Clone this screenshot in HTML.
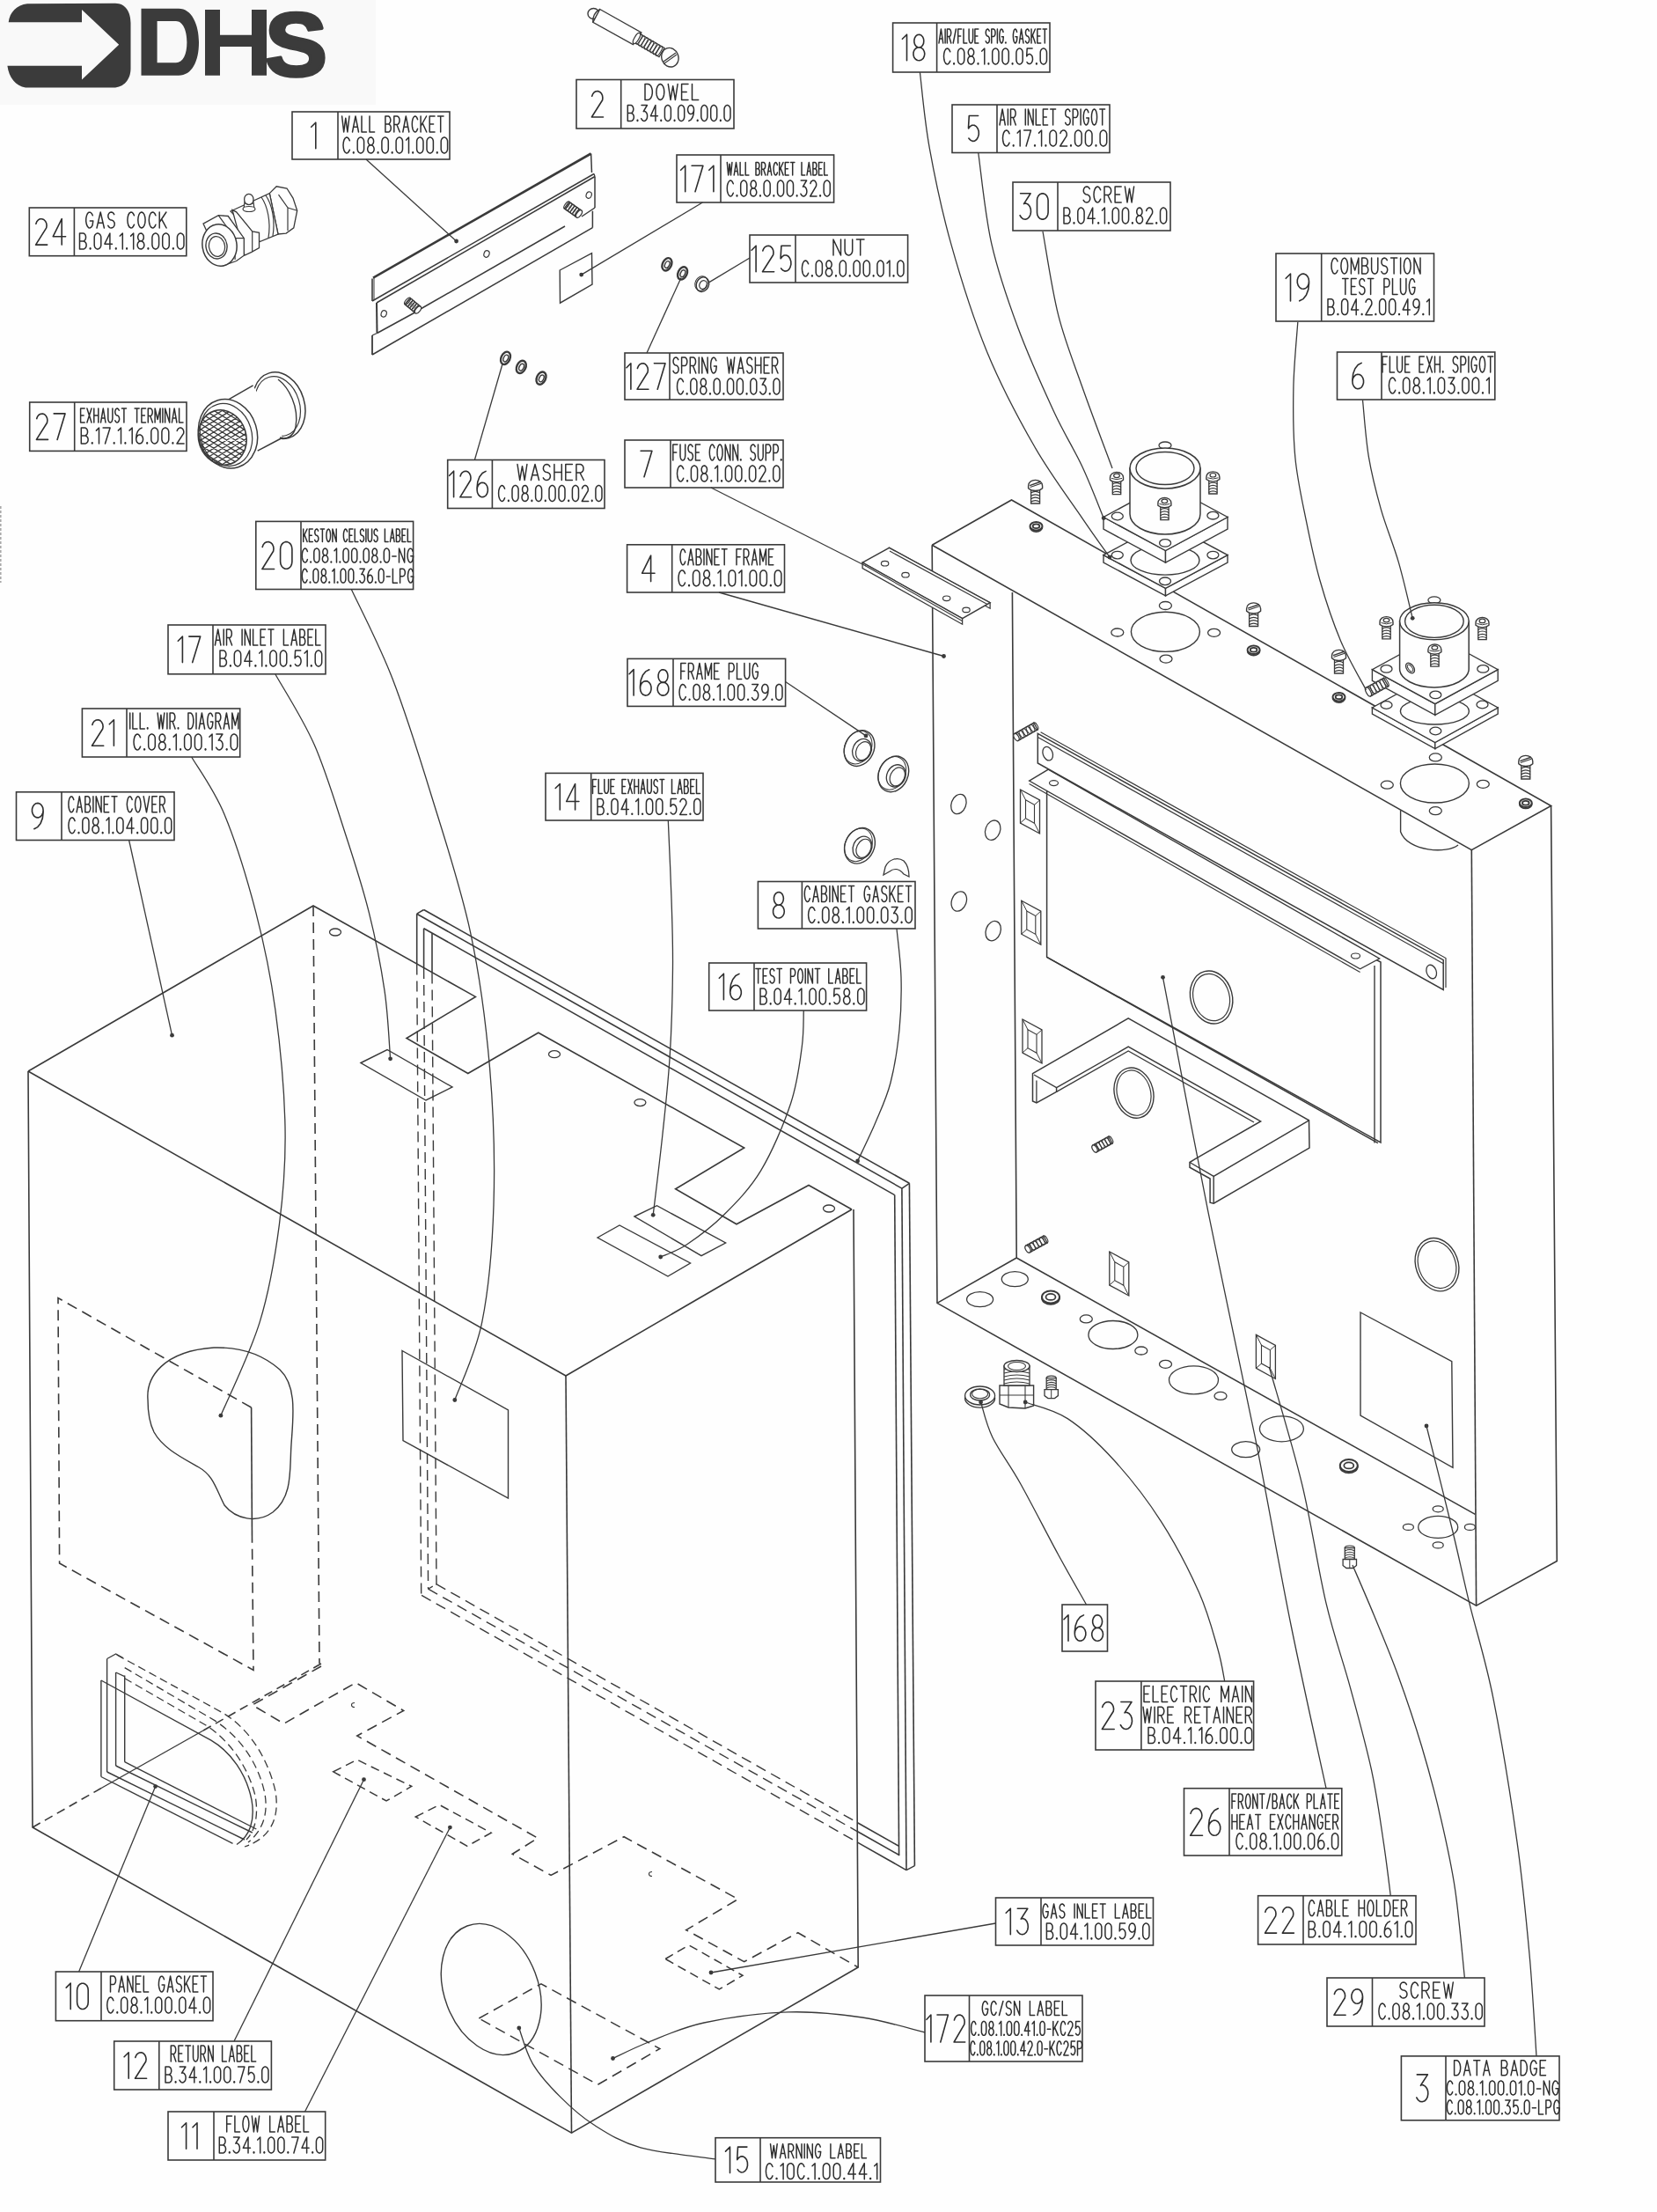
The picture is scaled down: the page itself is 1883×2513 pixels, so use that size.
<!DOCTYPE html>
<html><head><meta charset="utf-8"><style>
html,body{margin:0;padding:0;background:#fefefe;}
svg{display:block;}
text{font-family:"Liberation Sans",sans-serif;}
</style></head><body>
<svg width="1883" height="2513" viewBox="0 0 1883 2513">
<rect width="1883" height="2513" fill="#fefefe"/>
<rect x="0" y="0" width="427" height="119" fill="#f9f9f9"/>
<path fill="#3b3b3b" d="M9.7,25.3 C11,14 19,5.5 31,4.3 L131,3.8 C143,4 148.5,14 148.5,26 L148.5,78 C148.5,90 141,99.5 129,99.5 L29,99.5 C18,98 10,88 8.4,74.8 L93,74.8 L93,90.5 L135.2,50.7 L93,10.9 L93,25.3 Z"/>
<path fill="#3b3b3b" fill-rule="evenodd" d="M160.5,9.7 L203,9.7 C218,9.7 226,28 226,48 C226,70 218,85.7 203,85.7 L160.5,85.7 Z M178.6,24 L200,24 C208,24 212.4,35 212.4,48 C212.4,62 208,71.2 200,71.2 L178.6,71.2 Z"/>
<path fill="#3b3b3b" d="M233,10.9 L250,10.9 L250,39.8 L286,39.8 L286,10.9 L303,10.9 L303,85.7 L286,85.7 L286,53.1 L250,53.1 L250,85.7 L233,85.7 Z"/>
<text x="301" y="86" font-size="102" font-weight="bold" fill="#3b3b3b" stroke="#3b3b3b" stroke-width="3.5" stroke-linejoin="round" textLength="71" lengthAdjust="spacingAndGlyphs">S</text>
<rect x="332" y="127" width="179.0" height="54.0" fill="none" stroke="#3a3a3a" stroke-width="1.6"/>
<line x1="384" y1="127" x2="384" y2="181" stroke="#3a3a3a" stroke-width="1.6"/>
<path d="M353.7,144.3 358.8,139.2 358.8,168.8" fill="none" stroke="#2e2e2e" stroke-width="1.6" stroke-linecap="round" stroke-linejoin="round"/>
<path d="M388.6,132.0 390.7,150.0 392.8,134.2 394.9,150.0 397.0,132.0M400.5,150.0 404.0,132.0 407.5,150.0M401.6,144.2 406.3,144.2M411.0,132.0 411.0,150.0 416.5,150.0M420.0,132.0 420.0,150.0 425.6,150.0M437.9,141.0 437.9,132.0 441.1,132.0 441.1,132.0 442.0,132.3 442.8,133.1 443.4,134.2 443.8,135.7 443.8,137.3 443.4,138.8 442.8,139.9 442.0,140.7 441.1,141.0 437.9,141.0M441.4,141.0 441.4,141.0 442.3,141.3 443.2,142.1 443.9,143.2 444.2,144.7 444.2,146.3 443.9,147.8 443.2,148.9 442.3,149.7 441.4,150.0 437.9,150.0 437.9,141.0M447.8,150.0 447.8,132.0 451.1,132.0 451.1,132.0 452.1,132.3 453.0,133.1 453.7,134.4 454.0,135.9 454.0,137.6 453.7,139.2 453.0,140.4 452.1,141.3 451.1,141.5 447.8,141.5M450.9,141.5 454.3,150.0M457.8,150.0 461.3,132.0 464.8,150.0M458.9,144.2 463.6,144.2M474.6,135.8 473.7,133.6 472.6,132.3 471.3,132.1 470.1,133.0 469.1,135.0 468.5,137.8 468.3,141.0 468.5,144.2 469.1,147.0 470.1,149.0 471.3,149.9 472.6,149.7 473.7,148.4 474.6,146.2M478.1,132.0 478.1,150.0M484.6,132.0 478.1,143.5M480.1,139.9 484.8,150.0M494.0,132.0 488.2,132.0 488.2,150.0 494.0,150.0M488.2,141.0 492.6,141.0M497.5,132.0 504.0,132.0M500.7,132.0 500.7,150.0" fill="none" stroke="#2e2e2e" stroke-width="1.5" stroke-linecap="round" stroke-linejoin="round"/>
<path d="M397.4,159.8 396.3,157.6 395.0,156.3 393.5,156.1 392.2,157.0 391.0,159.0 390.3,161.8 390.0,165.0 390.3,168.2 391.0,171.0 392.2,173.0 393.5,173.9 395.0,173.7 396.3,172.4 397.4,170.2M402.2,173.4 402.0,173.9 401.6,173.9 401.4,173.4 401.6,172.8 402.0,172.8 402.2,173.4M406.2,160.9 406.4,159.2 407.0,157.7 408.0,156.7 409.2,156.1 410.5,156.1 411.7,156.7 412.7,157.7 413.4,159.2 413.6,160.9 413.6,169.1 413.4,170.8 412.7,172.3 411.7,173.3 410.5,173.9 409.2,173.9 408.0,173.3 407.0,172.3 406.4,170.8 406.2,169.1 406.2,160.9M424.6,160.5 424.4,162.1 423.8,163.5 422.8,164.5 421.7,165.0 420.5,164.8 419.5,164.1 418.7,162.9 418.2,161.3 418.2,159.7 418.7,158.1 419.5,156.9 420.5,156.2 421.7,156.0 422.8,156.5 423.8,157.5 424.4,158.9 424.6,160.5M425.2,169.4 424.9,171.1 424.2,172.5 423.1,173.5 421.8,174.0 420.4,173.8 419.1,173.1 418.2,171.8 417.7,170.3 417.7,168.6 418.2,167.0 419.1,165.7 420.4,165.0 421.8,164.8 423.1,165.3 424.2,166.3 424.9,167.8 425.2,169.4M430.0,173.4 429.8,173.9 429.4,173.9 429.2,173.4 429.4,172.8 429.8,172.8 430.0,173.4M433.9,160.9 434.2,159.2 434.8,157.7 435.8,156.7 437.0,156.1 438.3,156.1 439.5,156.7 440.5,157.7 441.1,159.2 441.3,160.9 441.3,169.1 441.1,170.8 440.5,172.3 439.5,173.3 438.3,173.9 437.0,173.9 435.8,173.3 434.8,172.3 434.2,170.8 433.9,169.1 433.9,160.9M446.1,173.4 445.9,173.9 445.5,173.9 445.3,173.4 445.5,172.8 445.9,172.8 446.1,173.4M450.1,160.9 450.3,159.2 451.0,157.7 452.0,156.7 453.2,156.1 454.5,156.1 455.7,156.7 456.7,157.7 457.3,159.2 457.5,160.9 457.5,169.1 457.3,170.8 456.7,172.3 455.7,173.3 454.5,173.9 453.2,173.9 452.0,173.3 451.0,172.3 450.3,170.8 450.1,169.1 450.1,160.9M461.6,159.1 464.5,156.0 464.5,174.0M469.6,173.4 469.4,173.9 469.0,173.9 468.8,173.4 469.0,172.8 469.4,172.8 469.6,173.4M473.6,160.9 473.8,159.2 474.4,157.7 475.4,156.7 476.6,156.1 477.9,156.1 479.1,156.7 480.1,157.7 480.7,159.2 481.0,160.9 481.0,169.1 480.7,170.8 480.1,172.3 479.1,173.3 477.9,173.9 476.6,173.9 475.4,173.3 474.4,172.3 473.8,170.8 473.6,169.1 473.6,160.9M485.0,160.9 485.2,159.2 485.9,157.7 486.9,156.7 488.1,156.1 489.4,156.1 490.6,156.7 491.6,157.7 492.2,159.2 492.4,160.9 492.4,169.1 492.2,170.8 491.6,172.3 490.6,173.3 489.4,173.9 488.1,173.9 486.9,173.3 485.9,172.3 485.2,170.8 485.0,169.1 485.0,160.9M497.2,173.4 497.0,173.9 496.6,173.9 496.4,173.4 496.6,172.8 497.0,172.8 497.2,173.4M501.2,160.9 501.4,159.2 502.1,157.7 503.0,156.7 504.3,156.1 505.5,156.1 506.7,156.7 507.7,157.7 508.4,159.2 508.6,160.9 508.6,169.1 508.4,170.8 507.7,172.3 506.7,173.3 505.5,173.9 504.3,173.9 503.0,173.3 502.1,172.3 501.4,170.8 501.2,169.1 501.2,160.9" fill="none" stroke="#2e2e2e" stroke-width="1.5" stroke-linecap="round" stroke-linejoin="round"/>
<rect x="655" y="90.5" width="179.0" height="55.5" fill="none" stroke="#3a3a3a" stroke-width="1.6"/>
<line x1="705.7" y1="90.5" x2="705.7" y2="146" stroke="#3a3a3a" stroke-width="1.6"/>
<path d="M672.7,109.2 673.7,106.7 675.3,104.8 677.3,103.7 679.5,103.6 681.6,104.4 683.4,106.1 684.5,108.4 684.9,111.1 684.6,113.8 672.4,133.0 685.5,133.0" fill="none" stroke="#2e2e2e" stroke-width="1.6" stroke-linecap="round" stroke-linejoin="round"/>
<path d="M733.0,95.5 733.0,113.5 736.3,113.5 736.3,113.5 738.0,113.0 739.6,111.4 740.7,109.0 741.3,106.1 741.3,102.9 740.7,100.0 739.6,97.6 738.0,96.0 736.3,95.5 733.0,95.5M754.8,104.5 754.5,107.9 753.5,110.9 752.1,112.8 750.3,113.5 748.6,112.8 747.2,110.9 746.2,107.9 745.9,104.5 746.2,101.1 747.2,98.1 748.6,96.2 750.3,95.5 752.1,96.2 753.5,98.1 754.5,101.1 754.8,104.5M759.3,95.5 762.0,113.5 764.7,97.7 767.4,113.5 770.1,95.5M782.0,95.5 774.6,95.5 774.6,113.5 782.0,113.5M774.6,104.5 780.2,104.5M786.5,95.5 786.5,113.5 793.7,113.5" fill="none" stroke="#2e2e2e" stroke-width="1.5" stroke-linecap="round" stroke-linejoin="round"/>
<path d="M713.3,128.5 713.3,119.5 716.9,119.5 716.9,119.5 717.9,119.8 718.8,120.6 719.4,121.8 719.8,123.2 719.8,124.8 719.4,126.2 718.8,127.4 717.9,128.2 716.9,128.5 713.3,128.5M717.1,128.5 717.1,128.5 718.2,128.8 719.2,129.6 719.9,130.8 720.3,132.2 720.3,133.8 719.9,135.2 719.2,136.4 718.2,137.2 717.1,137.5 713.3,137.5 713.3,128.5M724.8,136.9 724.7,137.4 724.3,137.4 724.1,136.9 724.3,136.3 724.7,136.3 724.8,136.9M729.0,119.5 735.4,119.5 731.2,126.7 731.3,126.4 732.6,126.4 733.9,127.2 734.9,128.5 735.5,130.3 735.6,132.3 735.3,134.3 734.5,135.9 733.4,137.0 732.1,137.5 730.8,137.2 729.6,136.2 728.7,134.7M744.9,137.5 744.9,119.5 739.4,131.7 747.4,131.7M751.6,136.9 751.4,137.4 751.1,137.4 750.9,136.9 751.1,136.3 751.4,136.3 751.6,136.9M755.4,124.4 755.6,122.7 756.2,121.2 757.1,120.2 758.3,119.6 759.5,119.6 760.6,120.2 761.6,121.2 762.2,122.7 762.4,124.4 762.4,132.6 762.2,134.3 761.6,135.8 760.6,136.8 759.5,137.4 758.3,137.4 757.1,136.8 756.2,135.8 755.6,134.3 755.4,132.6 755.4,124.4M766.9,136.9 766.7,137.4 766.4,137.4 766.2,136.9 766.4,136.3 766.7,136.3 766.9,136.9M770.7,124.4 770.9,122.7 771.5,121.2 772.4,120.2 773.6,119.6 774.8,119.6 776.0,120.2 776.9,121.2 777.5,122.7 777.7,124.4 777.7,132.6 777.5,134.3 776.9,135.8 776.0,136.8 774.8,137.4 773.6,137.4 772.4,136.8 771.5,135.8 770.9,134.3 770.7,132.6 770.7,124.4M788.5,124.5 788.3,126.4 787.6,127.9 786.6,129.1 785.4,129.6 784.1,129.4 782.9,128.6 782.1,127.2 781.6,125.5 781.6,123.6 782.1,121.9 782.9,120.5 784.1,119.7 785.4,119.5 786.6,120.0 787.6,121.1 788.3,122.7 788.5,124.5 788.5,126.0 788.1,130.0 786.9,133.5 785.1,136.1 782.8,137.4M793.1,136.9 792.9,137.4 792.5,137.4 792.3,136.9 792.5,136.3 792.9,136.3 793.1,136.9M796.8,124.4 797.1,122.7 797.7,121.2 798.6,120.2 799.7,119.6 801.0,119.6 802.1,120.2 803.0,121.2 803.6,122.7 803.9,124.4 803.9,132.6 803.6,134.3 803.0,135.8 802.1,136.8 801.0,137.4 799.7,137.4 798.6,136.8 797.7,135.8 797.1,134.3 796.8,132.6 796.8,124.4M807.7,124.4 807.9,122.7 808.5,121.2 809.4,120.2 810.6,119.6 811.8,119.6 812.9,120.2 813.9,121.2 814.5,122.7 814.7,124.4 814.7,132.6 814.5,134.3 813.9,135.8 812.9,136.8 811.8,137.4 810.6,137.4 809.4,136.8 808.5,135.8 807.9,134.3 807.7,132.6 807.7,124.4M819.2,136.9 819.0,137.4 818.6,137.4 818.5,136.9 818.6,136.3 819.0,136.3 819.2,136.9M823.0,124.4 823.2,122.7 823.8,121.2 824.7,120.2 825.9,119.6 827.1,119.6 828.2,120.2 829.2,121.2 829.8,122.7 830.0,124.4 830.0,132.6 829.8,134.3 829.2,135.8 828.2,136.8 827.1,137.4 825.9,137.4 824.7,136.8 823.8,135.8 823.2,134.3 823.0,132.6 823.0,124.4" fill="none" stroke="#2e2e2e" stroke-width="1.5" stroke-linecap="round" stroke-linejoin="round"/>
<rect x="769" y="176" width="178.6" height="54.0" fill="none" stroke="#3a3a3a" stroke-width="1.6"/>
<line x1="819" y1="176" x2="819" y2="230" stroke="#3a3a3a" stroke-width="1.6"/>
<path d="M773.6,193.3 778.7,188.2 778.7,217.8M786.1,188.2 798.9,188.2 790.0,217.8M805.8,193.3 810.9,188.2 810.9,217.8" fill="none" stroke="#2e2e2e" stroke-width="1.6" stroke-linecap="round" stroke-linejoin="round"/>
<path d="M826.3,184.5 827.7,199.0 829.1,186.2 830.5,199.0 831.9,184.5M834.2,199.0 836.5,184.5 838.8,199.0M835.0,194.4 838.0,194.4M841.1,184.5 841.1,199.0 844.8,199.0M847.2,184.5 847.2,199.0 850.9,199.0M859.0,191.8 859.0,184.5 861.1,184.5 861.1,184.5 861.7,184.7 862.3,185.3 862.7,186.3 862.9,187.5 862.9,188.8 862.7,189.9 862.3,190.9 861.7,191.5 861.1,191.8 859.0,191.8M861.3,191.8 861.3,191.8 862.0,192.0 862.5,192.6 863.0,193.6 863.2,194.7 863.2,196.0 863.0,197.2 862.5,198.2 862.0,198.8 861.3,199.0 859.0,199.0 859.0,191.8M865.5,199.0 865.5,184.5 867.8,184.5 867.8,184.5 868.4,184.7 869.0,185.4 869.5,186.4 869.7,187.7 869.7,189.0 869.5,190.3 869.0,191.3 868.4,192.0 867.8,192.2 865.5,192.2M867.6,192.2 869.9,199.0M872.2,199.0 874.5,184.5 876.8,199.0M873.0,194.4 876.0,194.4M883.4,187.6 882.8,185.8 882.0,184.7 881.2,184.6 880.4,185.3 879.7,187.0 879.3,189.2 879.1,191.8 879.3,194.3 879.7,196.5 880.4,198.2 881.2,198.9 882.0,198.8 882.8,197.7 883.4,195.9M885.7,184.5 885.7,199.0M890.0,184.5 885.7,193.8M887.0,190.9 890.1,199.0M896.2,184.5 892.3,184.5 892.3,199.0 896.2,199.0M892.3,191.8 895.3,191.8M898.5,184.5 902.9,184.5M900.7,184.5 900.7,199.0M911.0,184.5 911.0,199.0 914.7,199.0M917.0,199.0 919.3,184.5 921.6,199.0M917.8,194.4 920.9,194.4M923.9,191.8 923.9,184.5 926.1,184.5 926.1,184.5 926.7,184.7 927.3,185.3 927.6,186.3 927.9,187.5 927.9,188.8 927.6,189.9 927.3,190.9 926.7,191.5 926.1,191.8 923.9,191.8M926.3,191.8 926.3,191.8 926.9,192.0 927.5,192.6 927.9,193.6 928.2,194.7 928.2,196.0 927.9,197.2 927.5,198.2 926.9,198.8 926.3,199.0 923.9,199.0 923.9,191.8M934.4,184.5 930.5,184.5 930.5,199.0 934.4,199.0M930.5,191.8 933.4,191.8M936.7,184.5 936.7,199.0 940.4,199.0" fill="none" stroke="#2e2e2e" stroke-width="1.5" stroke-linecap="round" stroke-linejoin="round"/>
<path d="M833.3,208.8 832.3,206.6 831.1,205.3 829.7,205.1 828.4,206.0 827.3,208.0 826.5,210.8 826.3,214.0 826.5,217.2 827.3,220.0 828.4,222.0 829.7,222.9 831.1,222.7 832.3,221.4 833.3,219.2M837.9,222.4 837.7,222.9 837.3,222.9 837.1,222.4 837.3,221.8 837.7,221.8 837.9,222.4M841.7,209.9 841.9,208.2 842.5,206.7 843.5,205.7 844.6,205.1 845.8,205.1 847.0,205.7 847.9,206.7 848.5,208.2 848.8,209.9 848.8,218.1 848.5,219.8 847.9,221.3 847.0,222.3 845.8,222.9 844.6,222.9 843.5,222.3 842.5,221.3 841.9,219.8 841.7,218.1 841.7,209.9M859.3,209.5 859.1,211.1 858.5,212.5 857.6,213.5 856.5,214.0 855.3,213.8 854.3,213.1 853.6,211.9 853.2,210.3 853.2,208.7 853.6,207.1 854.3,205.9 855.3,205.2 856.5,205.0 857.6,205.5 858.5,206.5 859.1,207.9 859.3,209.5M859.8,218.4 859.5,220.1 858.8,221.5 857.8,222.5 856.5,223.0 855.2,222.8 854.0,222.1 853.1,220.8 852.7,219.3 852.7,217.6 853.1,216.0 854.0,214.7 855.2,214.0 856.5,213.8 857.8,214.3 858.8,215.3 859.5,216.8 859.8,218.4M864.3,222.4 864.1,222.9 863.8,222.9 863.6,222.4 863.8,221.8 864.1,221.8 864.3,222.4M868.1,209.9 868.3,208.2 868.9,206.7 869.9,205.7 871.0,205.1 872.3,205.1 873.4,205.7 874.4,206.7 875.0,208.2 875.2,209.9 875.2,218.1 875.0,219.8 874.4,221.3 873.4,222.3 872.3,222.9 871.0,222.9 869.9,222.3 868.9,221.3 868.3,219.8 868.1,218.1 868.1,209.9M879.7,222.4 879.5,222.9 879.2,222.9 879.0,222.4 879.2,221.8 879.5,221.8 879.7,222.4M883.5,209.9 883.7,208.2 884.3,206.7 885.3,205.7 886.4,205.1 887.7,205.1 888.8,205.7 889.7,206.7 890.4,208.2 890.6,209.9 890.6,218.1 890.4,219.8 889.7,221.3 888.8,222.3 887.7,222.9 886.4,222.9 885.3,222.3 884.3,221.3 883.7,219.8 883.5,218.1 883.5,209.9M894.4,209.9 894.6,208.2 895.2,206.7 896.2,205.7 897.3,205.1 898.6,205.1 899.7,205.7 900.7,206.7 901.3,208.2 901.5,209.9 901.5,218.1 901.3,219.8 900.7,221.3 899.7,222.3 898.6,222.9 897.3,222.9 896.2,222.3 895.2,221.3 894.6,219.8 894.4,218.1 894.4,209.9M906.0,222.4 905.8,222.9 905.5,222.9 905.3,222.4 905.5,221.8 905.8,221.8 906.0,222.4M910.2,205.0 916.6,205.0 912.4,212.2 912.5,211.9 913.9,211.9 915.1,212.7 916.1,214.0 916.7,215.8 916.9,217.8 916.5,219.8 915.7,221.4 914.6,222.5 913.3,223.0 912.0,222.7 910.8,221.7 909.9,220.2M920.9,208.5 921.4,207.0 922.3,205.8 923.5,205.1 924.7,205.0 925.9,205.5 926.8,206.6 927.5,208.0 927.7,209.6 927.5,211.3 920.7,223.0 928.0,223.0M932.5,222.4 932.3,222.9 931.9,222.9 931.7,222.4 931.9,221.8 932.3,221.8 932.5,222.4M936.2,209.9 936.5,208.2 937.1,206.7 938.0,205.7 939.2,205.1 940.4,205.1 941.5,205.7 942.5,206.7 943.1,208.2 943.3,209.9 943.3,218.1 943.1,219.8 942.5,221.3 941.5,222.3 940.4,222.9 939.2,222.9 938.0,222.3 937.1,221.3 936.5,219.8 936.2,218.1 936.2,209.9" fill="none" stroke="#2e2e2e" stroke-width="1.5" stroke-linecap="round" stroke-linejoin="round"/>
<rect x="852" y="267" width="179.6" height="54.0" fill="none" stroke="#3a3a3a" stroke-width="1.6"/>
<line x1="904" y1="267" x2="904" y2="321" stroke="#3a3a3a" stroke-width="1.6"/>
<path d="M854.1,284.3 859.1,279.2 859.1,308.8M866.8,284.9 867.8,282.5 869.4,280.6 871.4,279.5 873.6,279.3 875.7,280.1 877.5,281.8 878.6,284.2 879.0,286.8 878.7,289.5 866.5,308.8 879.6,308.8M898.2,279.2 887.9,279.2 887.1,292.8 887.2,293.8 889.0,291.4 891.2,290.0 893.7,290.0 896.0,291.3 897.7,293.7 898.8,296.9 898.9,300.4 898.0,303.6 896.4,306.3 894.2,307.8 891.8,308.1 889.5,307.1 887.6,304.9" fill="none" stroke="#2e2e2e" stroke-width="1.6" stroke-linecap="round" stroke-linejoin="round"/>
<path d="M947.0,290.0 947.0,272.0 955.5,290.0 955.5,272.0M960.1,272.0 960.1,284.6 960.1,284.6 960.4,286.4 961.1,288.1 962.3,289.3 963.7,289.9 965.2,289.9 966.6,289.3 967.7,288.1 968.5,286.4 968.7,284.6 968.7,272.0M973.4,272.0 982.0,272.0M977.7,272.0 977.7,290.0" fill="none" stroke="#2e2e2e" stroke-width="1.5" stroke-linecap="round" stroke-linejoin="round"/>
<path d="M918.6,299.8 917.6,297.6 916.3,296.3 914.9,296.1 913.5,297.0 912.4,299.0 911.7,301.8 911.4,305.0 911.7,308.2 912.4,311.0 913.5,313.0 914.9,313.9 916.3,313.7 917.6,312.4 918.6,310.2M923.3,313.4 923.1,313.9 922.7,313.9 922.5,313.4 922.7,312.8 923.1,312.8 923.3,313.4M927.2,300.9 927.4,299.2 928.0,297.7 929.0,296.7 930.1,296.1 931.4,296.1 932.6,296.7 933.5,297.7 934.2,299.2 934.4,300.9 934.4,309.1 934.2,310.8 933.5,312.3 932.6,313.3 931.4,313.9 930.1,313.9 929.0,313.3 928.0,312.3 927.4,310.8 927.2,309.1 927.2,300.9M945.2,300.5 944.9,302.1 944.3,303.5 943.4,304.5 942.3,305.0 941.1,304.8 940.1,304.1 939.3,302.9 938.9,301.3 938.9,299.7 939.3,298.1 940.1,296.9 941.1,296.2 942.3,296.0 943.4,296.5 944.3,297.5 944.9,298.9 945.2,300.5M945.7,309.4 945.4,311.1 944.7,312.5 943.6,313.5 942.3,314.0 941.0,313.8 939.8,313.1 938.9,311.8 938.4,310.3 938.4,308.6 938.9,307.0 939.8,305.7 941.0,305.0 942.3,304.8 943.6,305.3 944.7,306.3 945.4,307.8 945.7,309.4M950.3,313.4 950.2,313.9 949.8,313.9 949.6,313.4 949.8,312.8 950.2,312.8 950.3,313.4M954.2,300.9 954.4,299.2 955.1,297.7 956.0,296.7 957.2,296.1 958.5,296.1 959.6,296.7 960.6,297.7 961.2,299.2 961.4,300.9 961.4,309.1 961.2,310.8 960.6,312.3 959.6,313.3 958.5,313.9 957.2,313.9 956.0,313.3 955.1,312.3 954.4,310.8 954.2,309.1 954.2,300.9M966.1,313.4 965.9,313.9 965.5,313.9 965.3,313.4 965.5,312.8 965.9,312.8 966.1,313.4M970.0,300.9 970.2,299.2 970.8,297.7 971.8,296.7 973.0,296.1 974.2,296.1 975.4,296.7 976.4,297.7 977.0,299.2 977.2,300.9 977.2,309.1 977.0,310.8 976.4,312.3 975.4,313.3 974.2,313.9 973.0,313.9 971.8,313.3 970.8,312.3 970.2,310.8 970.0,309.1 970.0,300.9M981.2,300.9 981.4,299.2 982.0,297.7 983.0,296.7 984.1,296.1 985.4,296.1 986.6,296.7 987.5,297.7 988.2,299.2 988.4,300.9 988.4,309.1 988.2,310.8 987.5,312.3 986.6,313.3 985.4,313.9 984.1,313.9 983.0,313.3 982.0,312.3 981.4,310.8 981.2,309.1 981.2,300.9M993.0,313.4 992.8,313.9 992.5,313.9 992.3,313.4 992.5,312.8 992.8,312.8 993.0,313.4M996.9,300.9 997.1,299.2 997.8,297.7 998.7,296.7 999.9,296.1 1001.2,296.1 1002.3,296.7 1003.3,297.7 1003.9,299.2 1004.1,300.9 1004.1,309.1 1003.9,310.8 1003.3,312.3 1002.3,313.3 1001.2,313.9 999.9,313.9 998.7,313.3 997.8,312.3 997.1,310.8 996.9,309.1 996.9,300.9M1008.1,299.1 1011.0,296.0 1011.0,314.0M1015.9,313.4 1015.7,313.9 1015.3,313.9 1015.1,313.4 1015.3,312.8 1015.7,312.8 1015.9,313.4M1019.8,300.9 1020.0,299.2 1020.6,297.7 1021.6,296.7 1022.8,296.1 1024.0,296.1 1025.2,296.7 1026.2,297.7 1026.8,299.2 1027.0,300.9 1027.0,309.1 1026.8,310.8 1026.2,312.3 1025.2,313.3 1024.0,313.9 1022.8,313.9 1021.6,313.3 1020.6,312.3 1020.0,310.8 1019.8,309.1 1019.8,300.9" fill="none" stroke="#2e2e2e" stroke-width="1.5" stroke-linecap="round" stroke-linejoin="round"/>
<rect x="710" y="401" width="180.0" height="53.0" fill="none" stroke="#3a3a3a" stroke-width="1.6"/>
<line x1="761" y1="401" x2="761" y2="454" stroke="#3a3a3a" stroke-width="1.6"/>
<path d="M712.0,417.8 716.9,412.8 716.9,442.2M724.4,418.4 725.4,416.0 726.9,414.1 728.9,413.0 731.1,412.8 733.1,413.6 734.8,415.3 736.0,417.7 736.4,420.3 736.0,423.0 724.1,442.2 736.9,442.2M743.4,412.8 756.0,412.8 747.2,442.2" fill="none" stroke="#2e2e2e" stroke-width="1.6" stroke-linecap="round" stroke-linejoin="round"/>
<path d="M770.8,408.6 770.1,407.3 769.3,406.4 768.2,406.0 767.2,406.2 766.2,406.9 765.5,408.1 765.1,409.6 765.1,411.2 765.4,412.7 766.1,413.9 767.0,414.7 768.0,415.0 767.9,415.0 769.1,415.3 770.0,416.1 770.8,417.3 771.1,418.8 771.1,420.4 770.7,421.9 769.9,423.1 768.9,423.8 767.7,424.0 766.6,423.6 765.6,422.7 765.0,421.4M774.6,424.0 774.6,406.0 778.0,406.0 778.0,406.0 779.0,406.3 779.8,407.1 780.5,408.4 780.8,409.9 780.8,411.6 780.5,413.2 779.8,414.4 779.0,415.3 778.0,415.5 774.6,415.5M784.3,424.0 784.3,406.0 787.7,406.0 787.7,406.0 788.7,406.3 789.5,407.1 790.2,408.4 790.5,409.9 790.5,411.6 790.2,413.2 789.5,414.4 788.7,415.3 787.7,415.5 784.3,415.5M787.5,415.5 790.8,424.0M794.3,406.0 794.3,424.0M797.8,424.0 797.8,406.0 804.1,424.0 804.1,406.0M813.9,409.8 812.9,407.5 811.7,406.2 810.4,406.2 809.2,407.4 808.2,409.8 807.7,412.9 807.6,416.3 808.1,419.6 808.9,422.1 810.1,423.7 811.4,423.9 812.7,422.9 813.7,420.8 814.3,415.9 811.4,415.9M826.4,406.0 828.5,424.0 830.6,408.2 832.7,424.0 834.7,406.0M838.2,424.0 841.7,406.0 845.2,424.0M839.4,418.2 844.0,418.2M854.6,408.6 854.0,407.3 853.1,406.4 852.1,406.0 851.0,406.2 850.0,406.9 849.3,408.1 848.9,409.6 848.9,411.2 849.2,412.7 849.9,413.9 850.8,414.7 851.9,415.0 851.7,415.0 852.9,415.3 853.9,416.1 854.6,417.3 854.9,418.8 854.9,420.4 854.5,421.9 853.7,423.1 852.7,423.8 851.5,424.0 850.4,423.6 849.5,422.7 848.8,421.4M858.4,406.0 858.4,424.0M864.8,406.0 864.8,424.0M858.4,415.0 864.8,415.0M874.1,406.0 868.3,406.0 868.3,424.0 874.1,424.0M868.3,415.0 872.7,415.0M877.5,424.0 877.5,406.0 880.9,406.0 880.9,406.0 881.9,406.3 882.7,407.1 883.4,408.4 883.7,409.9 883.7,411.6 883.4,413.2 882.7,414.4 881.9,415.3 880.9,415.5 877.5,415.5M880.6,415.5 884.0,424.0" fill="none" stroke="#2e2e2e" stroke-width="1.5" stroke-linecap="round" stroke-linejoin="round"/>
<path d="M776.5,433.8 775.5,431.6 774.2,430.3 772.9,430.1 771.5,431.0 770.5,433.0 769.7,435.8 769.5,439.0 769.7,442.2 770.5,445.0 771.5,447.0 772.9,447.9 774.2,447.7 775.5,446.4 776.5,444.2M781.1,447.4 780.9,447.9 780.5,447.9 780.3,447.4 780.5,446.8 780.9,446.8 781.1,447.4M784.8,434.9 785.1,433.2 785.7,431.7 786.6,430.7 787.8,430.1 789.0,430.1 790.1,430.7 791.1,431.7 791.7,433.2 791.9,434.9 791.9,443.1 791.7,444.8 791.1,446.3 790.1,447.3 789.0,447.9 787.8,447.9 786.6,447.3 785.7,446.3 785.1,444.8 784.8,443.1 784.8,434.9M802.4,434.5 802.2,436.1 801.6,437.5 800.7,438.5 799.6,439.0 798.5,438.8 797.4,438.1 796.7,436.9 796.3,435.3 796.3,433.7 796.7,432.1 797.4,430.9 798.5,430.2 799.6,430.0 800.7,430.5 801.6,431.5 802.2,432.9 802.4,434.5M802.9,443.4 802.6,445.1 801.9,446.5 800.9,447.5 799.6,448.0 798.3,447.8 797.1,447.1 796.3,445.8 795.8,444.3 795.8,442.6 796.3,441.0 797.1,439.7 798.3,439.0 799.6,438.8 800.9,439.3 801.9,440.3 802.6,441.8 802.9,443.4M807.4,447.4 807.2,447.9 806.8,447.9 806.6,447.4 806.8,446.8 807.2,446.8 807.4,447.4M811.2,434.9 811.4,433.2 812.0,431.7 812.9,430.7 814.1,430.1 815.3,430.1 816.5,430.7 817.4,431.7 818.0,433.2 818.2,434.9 818.2,443.1 818.0,444.8 817.4,446.3 816.5,447.3 815.3,447.9 814.1,447.9 812.9,447.3 812.0,446.3 811.4,444.8 811.2,443.1 811.2,434.9M822.8,447.4 822.6,447.9 822.2,447.9 822.0,447.4 822.2,446.8 822.6,446.8 822.8,447.4M826.5,434.9 826.7,433.2 827.4,431.7 828.3,430.7 829.4,430.1 830.7,430.1 831.8,430.7 832.7,431.7 833.4,433.2 833.6,434.9 833.6,443.1 833.4,444.8 832.7,446.3 831.8,447.3 830.7,447.9 829.4,447.9 828.3,447.3 827.4,446.3 826.7,444.8 826.5,443.1 826.5,434.9M837.4,434.9 837.6,433.2 838.2,431.7 839.2,430.7 840.3,430.1 841.5,430.1 842.7,430.7 843.6,431.7 844.2,433.2 844.4,434.9 844.4,443.1 844.2,444.8 843.6,446.3 842.7,447.3 841.5,447.9 840.3,447.9 839.2,447.3 838.2,446.3 837.6,444.8 837.4,443.1 837.4,434.9M849.0,447.4 848.8,447.9 848.4,447.9 848.2,447.4 848.4,446.8 848.8,446.8 849.0,447.4M852.8,434.9 853.0,433.2 853.6,431.7 854.5,430.7 855.7,430.1 856.9,430.1 858.0,430.7 859.0,431.7 859.6,433.2 859.8,434.9 859.8,443.1 859.6,444.8 859.0,446.3 858.0,447.3 856.9,447.9 855.7,447.9 854.5,447.3 853.6,446.3 853.0,444.8 852.8,443.1 852.8,434.9M864.0,430.0 870.4,430.0 866.2,437.2 866.3,436.9 867.6,436.9 868.9,437.7 869.9,439.0 870.5,440.8 870.6,442.8 870.3,444.8 869.5,446.4 868.4,447.5 867.1,448.0 865.8,447.7 864.6,446.7 863.7,445.2M875.2,447.4 875.0,447.9 874.6,447.9 874.4,447.4 874.6,446.8 875.0,446.8 875.2,447.4M879.0,434.9 879.2,433.2 879.8,431.7 880.7,430.7 881.9,430.1 883.1,430.1 884.2,430.7 885.2,431.7 885.8,433.2 886.0,434.9 886.0,443.1 885.8,444.8 885.2,446.3 884.2,447.3 883.1,447.9 881.9,447.9 880.7,447.3 879.8,446.3 879.2,444.8 879.0,443.1 879.0,434.9" fill="none" stroke="#2e2e2e" stroke-width="1.5" stroke-linecap="round" stroke-linejoin="round"/>
<rect x="710" y="500" width="180.0" height="54.0" fill="none" stroke="#3a3a3a" stroke-width="1.6"/>
<line x1="762" y1="500" x2="762" y2="554" stroke="#3a3a3a" stroke-width="1.6"/>
<path d="M728.1,512.2 740.9,512.2 732.0,541.8" fill="none" stroke="#2e2e2e" stroke-width="1.6" stroke-linecap="round" stroke-linejoin="round"/>
<path d="M769.9,505.0 764.8,505.0 764.8,523.0M764.8,514.0 768.7,514.0M773.0,505.0 773.0,517.6 773.0,517.6 773.2,519.4 773.6,521.1 774.4,522.3 775.3,522.9 776.3,522.9 777.3,522.3 778.0,521.1 778.5,519.4 778.7,517.6 778.7,505.0M787.0,507.6 786.5,506.3 785.7,505.4 784.8,505.0 783.9,505.2 783.0,505.9 782.4,507.1 782.0,508.6 782.0,510.2 782.3,511.7 782.9,512.9 783.7,513.7 784.6,514.0 784.5,514.0 785.5,514.3 786.4,515.1 787.0,516.3 787.4,517.8 787.3,519.4 786.9,520.9 786.3,522.1 785.4,522.8 784.3,523.0 783.4,522.6 782.5,521.7 781.9,520.4M795.6,505.0 790.5,505.0 790.5,523.0 795.6,523.0M790.5,514.0 794.3,514.0M811.9,508.8 811.1,506.6 810.1,505.3 809.0,505.1 807.9,506.0 807.1,508.0 806.5,510.8 806.3,514.0 806.5,517.2 807.1,520.0 807.9,522.0 809.0,522.9 810.1,522.7 811.1,521.4 811.9,519.2M821.1,514.0 820.9,517.4 820.2,520.4 819.2,522.3 818.1,523.0 816.9,522.3 815.9,520.4 815.2,517.4 815.0,514.0 815.2,510.6 815.9,507.6 816.9,505.7 818.1,505.0 819.2,505.7 820.2,507.6 820.9,510.6 821.1,514.0M824.2,523.0 824.2,505.0 829.8,523.0 829.8,505.0M832.9,523.0 832.9,505.0 838.5,523.0 838.5,505.0M842.1,522.4 842.0,522.9 841.7,522.9 841.5,522.4 841.7,521.8 842.0,521.8 842.1,522.4M858.1,507.6 857.6,506.3 856.8,505.4 855.9,505.0 854.9,505.2 854.1,505.9 853.4,507.1 853.1,508.6 853.1,510.2 853.4,511.7 854.0,512.9 854.8,513.7 855.7,514.0 855.6,514.0 856.6,514.3 857.5,515.1 858.1,516.3 858.4,517.8 858.4,519.4 858.0,520.9 857.3,522.1 856.4,522.8 855.4,523.0 854.4,522.6 853.6,521.7 853.0,520.4M861.5,505.0 861.5,517.6 861.5,517.6 861.7,519.4 862.2,521.1 863.0,522.3 863.9,522.9 864.9,522.9 865.8,522.3 866.6,521.1 867.1,519.4 867.2,517.6 867.2,505.0M870.3,523.0 870.3,505.0 873.3,505.0 873.3,505.0 874.2,505.3 874.9,506.1 875.5,507.4 875.8,508.9 875.8,510.6 875.5,512.2 874.9,513.4 874.2,514.3 873.3,514.5 870.3,514.5M878.9,523.0 878.9,505.0 881.9,505.0 881.9,505.0 882.7,505.3 883.5,506.1 884.1,507.4 884.4,508.9 884.4,510.6 884.1,512.2 883.5,513.4 882.7,514.3 881.9,514.5 878.9,514.5M888.1,522.4 887.9,522.9 887.6,522.9 887.4,522.4 887.6,521.8 887.9,521.8 888.1,522.4" fill="none" stroke="#2e2e2e" stroke-width="1.5" stroke-linecap="round" stroke-linejoin="round"/>
<path d="M776.7,532.8 775.7,530.6 774.4,529.3 773.0,529.1 771.6,530.0 770.5,532.0 769.8,534.8 769.5,538.0 769.8,541.2 770.5,544.0 771.6,546.0 773.0,546.9 774.4,546.7 775.7,545.4 776.7,543.2M781.5,546.4 781.3,546.9 780.9,546.9 780.7,546.4 780.9,545.8 781.3,545.8 781.5,546.4M785.4,533.9 785.6,532.2 786.2,530.7 787.2,529.7 788.4,529.1 789.6,529.1 790.8,529.7 791.8,530.7 792.4,532.2 792.6,533.9 792.6,542.1 792.4,543.8 791.8,545.3 790.8,546.3 789.6,546.9 788.4,546.9 787.2,546.3 786.2,545.3 785.6,543.8 785.4,542.1 785.4,533.9M803.5,533.5 803.3,535.1 802.7,536.5 801.7,537.5 800.6,538.0 799.4,537.8 798.4,537.1 797.6,535.9 797.2,534.3 797.2,532.7 797.6,531.1 798.4,529.9 799.4,529.2 800.6,529.0 801.7,529.5 802.7,530.5 803.3,531.9 803.5,533.5M804.0,542.4 803.8,544.1 803.0,545.5 802.0,546.5 800.7,547.0 799.3,546.8 798.1,546.1 797.2,544.8 796.7,543.3 796.7,541.6 797.2,540.0 798.1,538.7 799.3,538.0 800.7,537.8 802.0,538.3 803.0,539.3 803.8,540.8 804.0,542.4M808.7,546.4 808.5,546.9 808.1,546.9 807.9,546.4 808.1,545.8 808.5,545.8 808.7,546.4M812.6,532.1 815.5,529.0 815.5,547.0M820.5,546.4 820.3,546.9 819.9,546.9 819.7,546.4 819.9,545.8 820.3,545.8 820.5,546.4M824.4,533.9 824.6,532.2 825.2,530.7 826.2,529.7 827.4,529.1 828.6,529.1 829.8,529.7 830.8,530.7 831.4,532.2 831.7,533.9 831.7,542.1 831.4,543.8 830.8,545.3 829.8,546.3 828.6,546.9 827.4,546.9 826.2,546.3 825.2,545.3 824.6,543.8 824.4,542.1 824.4,533.9M835.6,533.9 835.8,532.2 836.5,530.7 837.4,529.7 838.6,529.1 839.9,529.1 841.1,529.7 842.0,530.7 842.7,532.2 842.9,533.9 842.9,542.1 842.7,543.8 842.0,545.3 841.1,546.3 839.9,546.9 838.6,546.9 837.4,546.3 836.5,545.3 835.8,543.8 835.6,542.1 835.6,533.9M847.6,546.4 847.4,546.9 847.0,546.9 846.8,546.4 847.0,545.8 847.4,545.8 847.6,546.4M851.5,533.9 851.7,532.2 852.3,530.7 853.3,529.7 854.5,529.1 855.8,529.1 856.9,529.7 857.9,530.7 858.5,532.2 858.8,533.9 858.8,542.1 858.5,543.8 857.9,545.3 856.9,546.3 855.8,546.9 854.5,546.9 853.3,546.3 852.3,545.3 851.7,543.8 851.5,542.1 851.5,533.9M862.9,532.5 863.5,531.0 864.4,529.8 865.5,529.1 866.8,529.0 868.0,529.5 869.0,530.6 869.7,532.0 869.9,533.6 869.7,535.3 862.7,547.0 870.3,547.0M874.8,546.4 874.6,546.9 874.2,546.9 874.0,546.4 874.2,545.8 874.6,545.8 874.8,546.4M878.7,533.9 878.9,532.2 879.6,530.7 880.5,529.7 881.7,529.1 883.0,529.1 884.2,529.7 885.1,530.7 885.8,532.2 886.0,533.9 886.0,542.1 885.8,543.8 885.1,545.3 884.2,546.3 883.0,546.9 881.7,546.9 880.5,546.3 879.6,545.3 878.9,543.8 878.7,542.1 878.7,533.9" fill="none" stroke="#2e2e2e" stroke-width="1.5" stroke-linecap="round" stroke-linejoin="round"/>
<rect x="508.7" y="522.5" width="178.3" height="55.0" fill="none" stroke="#3a3a3a" stroke-width="1.6"/>
<line x1="559.4" y1="522.5" x2="559.4" y2="577.5" stroke="#3a3a3a" stroke-width="1.6"/>
<path d="M510.7,540.3 515.6,535.2 515.6,564.8M523.1,540.9 524.0,538.5 525.6,536.6 527.6,535.5 529.7,535.3 531.8,536.1 533.5,537.8 534.6,540.2 535.0,542.8 534.7,545.5 522.8,564.8 535.6,564.8M552.1,535.4 548.2,537.5 544.9,541.7 542.8,547.5 542.1,554.1 542.1,556.5 542.5,553.5 543.7,550.9 545.5,549.1 547.7,548.3 549.9,548.5 552.0,549.9 553.5,552.1 554.3,555.0 554.3,558.0 553.5,560.8 552.0,563.1 549.9,564.4 547.7,564.7 545.5,563.9 543.7,562.1 542.5,559.5 542.1,556.5" fill="none" stroke="#2e2e2e" stroke-width="1.6" stroke-linecap="round" stroke-linejoin="round"/>
<path d="M588.0,527.5 590.7,545.5 593.5,529.7 596.2,545.5 598.9,527.5M603.4,545.5 608.0,527.5 612.5,545.5M605.0,539.7 611.0,539.7M624.9,530.1 624.1,528.8 622.9,527.9 621.6,527.5 620.2,527.7 618.9,528.4 618.0,529.6 617.5,531.1 617.4,532.7 617.9,534.2 618.7,535.4 619.9,536.2 621.3,536.5 621.2,536.5 622.6,536.8 623.9,537.6 624.9,538.8 625.4,540.3 625.3,541.9 624.7,543.4 623.7,544.6 622.4,545.3 620.9,545.5 619.4,545.1 618.2,544.2 617.3,542.9M629.9,527.5 629.9,545.5M638.3,527.5 638.3,545.5M629.9,536.5 638.3,536.5M650.4,527.5 642.8,527.5 642.8,545.5 650.4,545.5M642.8,536.5 648.6,536.5M654.9,545.5 654.9,527.5 659.3,527.5 659.3,527.5 660.6,527.8 661.7,528.6 662.6,529.9 663.0,531.4 663.0,533.1 662.6,534.7 661.7,535.9 660.6,536.8 659.3,537.0 654.9,537.0M659.0,537.0 663.4,545.5" fill="none" stroke="#2e2e2e" stroke-width="1.5" stroke-linecap="round" stroke-linejoin="round"/>
<path d="M573.6,555.3 572.6,553.1 571.4,551.8 570.0,551.6 568.7,552.5 567.6,554.5 566.8,557.3 566.6,560.5 566.8,563.7 567.6,566.5 568.7,568.5 570.0,569.4 571.4,569.2 572.6,567.9 573.6,565.7M578.2,568.9 578.1,569.4 577.7,569.4 577.5,568.9 577.7,568.3 578.1,568.3 578.2,568.9M582.0,556.4 582.3,554.7 582.9,553.2 583.8,552.2 585.0,551.6 586.2,551.6 587.4,552.2 588.3,553.2 588.9,554.7 589.1,556.4 589.1,564.6 588.9,566.3 588.3,567.8 587.4,568.8 586.2,569.4 585.0,569.4 583.8,568.8 582.9,567.8 582.3,566.3 582.0,564.6 582.0,556.4M599.7,556.0 599.5,557.6 598.9,559.0 598.0,560.0 596.9,560.5 595.7,560.3 594.7,559.6 594.0,558.4 593.6,556.8 593.6,555.2 594.0,553.6 594.7,552.4 595.7,551.7 596.9,551.5 598.0,552.0 598.9,553.0 599.5,554.4 599.7,556.0M600.2,564.9 600.0,566.6 599.3,568.0 598.2,569.0 596.9,569.5 595.6,569.3 594.4,568.6 593.5,567.3 593.1,565.8 593.1,564.1 593.5,562.5 594.4,561.2 595.6,560.5 596.9,560.3 598.2,560.8 599.3,561.8 600.0,563.3 600.2,564.9M604.8,568.9 604.6,569.4 604.2,569.4 604.0,568.9 604.2,568.3 604.6,568.3 604.8,568.9M608.6,556.4 608.8,554.7 609.4,553.2 610.3,552.2 611.5,551.6 612.7,551.6 613.9,552.2 614.8,553.2 615.4,554.7 615.6,556.4 615.6,564.6 615.4,566.3 614.8,567.8 613.9,568.8 612.7,569.4 611.5,569.4 610.3,568.8 609.4,567.8 608.8,566.3 608.6,564.6 608.6,556.4M620.2,568.9 620.0,569.4 619.6,569.4 619.4,568.9 619.6,568.3 620.0,568.3 620.2,568.9M624.0,556.4 624.2,554.7 624.8,553.2 625.8,552.2 626.9,551.6 628.2,551.6 629.3,552.2 630.3,553.2 630.9,554.7 631.1,556.4 631.1,564.6 630.9,566.3 630.3,567.8 629.3,568.8 628.2,569.4 626.9,569.4 625.8,568.8 624.8,567.8 624.2,566.3 624.0,564.6 624.0,556.4M635.0,556.4 635.2,554.7 635.8,553.2 636.7,552.2 637.9,551.6 639.1,551.6 640.3,552.2 641.2,553.2 641.8,554.7 642.0,556.4 642.0,564.6 641.8,566.3 641.2,567.8 640.3,568.8 639.1,569.4 637.9,569.4 636.7,568.8 635.8,567.8 635.2,566.3 635.0,564.6 635.0,556.4M646.6,568.9 646.4,569.4 646.0,569.4 645.8,568.9 646.0,568.3 646.4,568.3 646.6,568.9M650.4,556.4 650.6,554.7 651.2,553.2 652.2,552.2 653.3,551.6 654.6,551.6 655.7,552.2 656.7,553.2 657.3,554.7 657.5,556.4 657.5,564.6 657.3,566.3 656.7,567.8 655.7,568.8 654.6,569.4 653.3,569.4 652.2,568.8 651.2,567.8 650.6,566.3 650.4,564.6 650.4,556.4M661.5,555.0 662.1,553.5 662.9,552.3 664.1,551.6 665.3,551.5 666.5,552.0 667.5,553.1 668.1,554.5 668.4,556.1 668.1,557.8 661.3,569.5 668.7,569.5M673.1,568.9 672.9,569.4 672.5,569.4 672.4,568.9 672.5,568.3 672.9,568.3 673.1,568.9M676.9,556.4 677.1,554.7 677.7,553.2 678.7,552.2 679.8,551.6 681.1,551.6 682.2,552.2 683.2,553.2 683.8,554.7 684.0,556.4 684.0,564.6 683.8,566.3 683.2,567.8 682.2,568.8 681.1,569.4 679.8,569.4 678.7,568.8 677.7,567.8 677.1,566.3 676.9,564.6 676.9,556.4" fill="none" stroke="#2e2e2e" stroke-width="1.5" stroke-linecap="round" stroke-linejoin="round"/>
<rect x="1014.6" y="26" width="178.4" height="56.0" fill="none" stroke="#3a3a3a" stroke-width="1.6"/>
<line x1="1064.6" y1="26" x2="1064.6" y2="82" stroke="#3a3a3a" stroke-width="1.6"/>
<path d="M1025.4,44.3 1030.5,39.2 1030.5,68.8M1049.8,46.6 1049.5,49.3 1048.4,51.6 1046.8,53.2 1044.8,54.0 1042.8,53.7 1041.0,52.5 1039.6,50.5 1038.9,48.0 1038.9,45.3 1039.6,42.7 1041.0,40.7 1042.8,39.5 1044.8,39.3 1046.8,40.0 1048.4,41.7 1049.5,44.0 1049.8,46.6M1050.8,61.2 1050.3,63.9 1049.1,66.3 1047.2,68.0 1044.9,68.7 1042.5,68.5 1040.4,67.2 1038.8,65.2 1038.0,62.6 1038.0,59.8 1038.8,57.3 1040.4,55.2 1042.5,54.0 1044.9,53.7 1047.2,54.5 1049.1,56.2 1050.3,58.5 1050.8,61.2" fill="none" stroke="#2e2e2e" stroke-width="1.6" stroke-linecap="round" stroke-linejoin="round"/>
<path d="M1067.0,49.0 1069.4,33.0 1071.7,49.0M1067.8,43.9 1070.9,43.9M1074.1,33.0 1074.1,49.0M1076.4,49.0 1076.4,33.0 1078.7,33.0 1078.7,33.0 1079.4,33.3 1080.0,34.0 1080.4,35.1 1080.7,36.5 1080.7,38.0 1080.4,39.4 1080.0,40.5 1079.4,41.2 1078.7,41.5 1076.4,41.5M1078.6,41.5 1080.8,49.0M1083.2,49.0 1086.4,33.0M1092.6,33.0 1088.7,33.0 1088.7,49.0M1088.7,41.0 1091.7,41.0M1095.0,33.0 1095.0,49.0 1098.8,49.0M1101.1,33.0 1101.1,44.2 1101.1,44.2 1101.3,45.8 1101.7,47.3 1102.2,48.4 1103.0,48.9 1103.7,48.9 1104.5,48.4 1105.0,47.3 1105.4,45.8 1105.6,44.2 1105.6,33.0M1111.8,33.0 1107.9,33.0 1107.9,49.0 1111.8,49.0M1107.9,41.0 1110.9,41.0M1124.2,35.3 1123.7,34.2 1123.1,33.4 1122.4,33.0 1121.7,33.2 1121.1,33.8 1120.6,34.9 1120.3,36.2 1120.3,37.6 1120.5,38.9 1121.0,40.0 1121.6,40.7 1122.3,41.0 1122.2,41.0 1123.0,41.3 1123.7,42.0 1124.2,43.1 1124.4,44.4 1124.4,45.8 1124.1,47.1 1123.6,48.2 1122.9,48.8 1122.1,49.0 1121.3,48.6 1120.7,47.8 1120.2,46.7M1126.8,49.0 1126.8,33.0 1129.1,33.0 1129.1,33.0 1129.7,33.3 1130.3,34.0 1130.8,35.1 1131.0,36.5 1131.0,38.0 1130.8,39.4 1130.3,40.5 1129.7,41.2 1129.1,41.5 1126.8,41.5M1133.4,33.0 1133.4,49.0M1140.1,36.4 1139.4,34.3 1138.6,33.2 1137.7,33.1 1136.8,34.3 1136.2,36.4 1135.8,39.1 1135.8,42.2 1136.1,45.0 1136.7,47.3 1137.5,48.7 1138.4,49.0 1139.2,48.1 1139.9,46.1 1140.3,41.8 1138.4,41.8M1143.1,48.4 1143.0,48.9 1142.8,48.9 1142.6,48.4 1142.8,48.0 1143.0,48.0 1143.1,48.4M1155.6,36.4 1155.0,34.3 1154.2,33.2 1153.3,33.1 1152.4,34.3 1151.8,36.4 1151.4,39.1 1151.4,42.2 1151.7,45.0 1152.3,47.3 1153.1,48.7 1154.0,49.0 1154.8,48.1 1155.5,46.1 1155.9,41.8 1153.9,41.8M1158.3,49.0 1160.6,33.0 1163.0,49.0M1159.1,43.9 1162.2,43.9M1169.4,35.3 1169.0,34.2 1168.4,33.4 1167.7,33.0 1167.0,33.2 1166.3,33.8 1165.8,34.9 1165.5,36.2 1165.5,37.6 1165.8,38.9 1166.2,40.0 1166.8,40.7 1167.5,41.0 1167.5,41.0 1168.2,41.3 1168.9,42.0 1169.4,43.1 1169.7,44.4 1169.6,45.8 1169.3,47.1 1168.8,48.2 1168.1,48.8 1167.3,49.0 1166.6,48.6 1165.9,47.8 1165.5,46.7M1172.0,33.0 1172.0,49.0M1176.4,33.0 1172.0,43.2M1173.4,40.0 1176.5,49.0M1182.7,33.0 1178.8,33.0 1178.8,49.0 1182.7,49.0M1178.8,41.0 1181.8,41.0M1185.1,33.0 1189.5,33.0M1187.3,33.0 1187.3,49.0" fill="none" stroke="#2e2e2e" stroke-width="1.5" stroke-linecap="round" stroke-linejoin="round"/>
<path d="M1079.8,58.8 1078.7,56.6 1077.4,55.3 1076.0,55.1 1074.6,56.0 1073.5,58.0 1072.8,60.8 1072.5,64.0 1072.8,67.2 1073.5,70.0 1074.6,72.0 1076.0,72.9 1077.4,72.7 1078.7,71.4 1079.8,69.2M1084.5,72.4 1084.3,72.9 1083.9,72.9 1083.7,72.4 1083.9,71.8 1084.3,71.8 1084.5,72.4M1088.5,59.9 1088.7,58.2 1089.3,56.7 1090.3,55.7 1091.5,55.1 1092.7,55.1 1093.9,55.7 1094.9,56.7 1095.5,58.2 1095.8,59.9 1095.8,68.1 1095.5,69.8 1094.9,71.3 1093.9,72.3 1092.7,72.9 1091.5,72.9 1090.3,72.3 1089.3,71.3 1088.7,69.8 1088.5,68.1 1088.5,59.9M1106.7,59.5 1106.5,61.1 1105.8,62.5 1104.9,63.5 1103.8,64.0 1102.6,63.8 1101.6,63.1 1100.8,61.9 1100.3,60.3 1100.3,58.7 1100.8,57.1 1101.6,55.9 1102.6,55.2 1103.8,55.0 1104.9,55.5 1105.8,56.5 1106.5,57.9 1106.7,59.5M1107.2,68.4 1106.9,70.1 1106.2,71.5 1105.1,72.5 1103.8,73.0 1102.5,72.8 1101.2,72.1 1100.3,70.8 1099.8,69.3 1099.8,67.6 1100.3,66.0 1101.2,64.7 1102.5,64.0 1103.8,63.8 1105.1,64.3 1106.2,65.3 1106.9,66.8 1107.2,68.4M1111.9,72.4 1111.7,72.9 1111.3,72.9 1111.1,72.4 1111.3,71.8 1111.7,71.8 1111.9,72.4M1115.8,58.1 1118.8,55.0 1118.8,73.0M1123.8,72.4 1123.6,72.9 1123.2,72.9 1123.0,72.4 1123.2,71.8 1123.6,71.8 1123.8,72.4M1127.7,59.9 1127.9,58.2 1128.5,56.7 1129.5,55.7 1130.7,55.1 1132.0,55.1 1133.2,55.7 1134.1,56.7 1134.8,58.2 1135.0,59.9 1135.0,68.1 1134.8,69.8 1134.1,71.3 1133.2,72.3 1132.0,72.9 1130.7,72.9 1129.5,72.3 1128.5,71.3 1127.9,69.8 1127.7,68.1 1127.7,59.9M1139.0,59.9 1139.2,58.2 1139.8,56.7 1140.8,55.7 1142.0,55.1 1143.3,55.1 1144.5,55.7 1145.4,56.7 1146.1,58.2 1146.3,59.9 1146.3,68.1 1146.1,69.8 1145.4,71.3 1144.5,72.3 1143.3,72.9 1142.0,72.9 1140.8,72.3 1139.8,71.3 1139.2,69.8 1139.0,68.1 1139.0,59.9M1151.0,72.4 1150.8,72.9 1150.4,72.9 1150.2,72.4 1150.4,71.8 1150.8,71.8 1151.0,72.4M1154.9,59.9 1155.2,58.2 1155.8,56.7 1156.8,55.7 1158.0,55.1 1159.2,55.1 1160.4,55.7 1161.4,56.7 1162.0,58.2 1162.2,59.9 1162.2,68.1 1162.0,69.8 1161.4,71.3 1160.4,72.3 1159.2,72.9 1158.0,72.9 1156.8,72.3 1155.8,71.3 1155.2,69.8 1154.9,68.1 1154.9,59.9M1173.1,55.0 1167.2,55.0 1166.7,63.3 1166.8,63.9 1167.8,62.4 1169.1,61.6 1170.5,61.6 1171.8,62.4 1172.9,63.8 1173.4,65.8 1173.5,67.9 1173.0,69.9 1172.1,71.5 1170.8,72.4 1169.4,72.6 1168.1,72.0 1167.0,70.6M1178.3,72.4 1178.1,72.9 1177.7,72.9 1177.5,72.4 1177.7,71.8 1178.1,71.8 1178.3,72.4M1182.2,59.9 1182.4,58.2 1183.0,56.7 1184.0,55.7 1185.2,55.1 1186.5,55.1 1187.7,55.7 1188.6,56.7 1189.3,58.2 1189.5,59.9 1189.5,68.1 1189.3,69.8 1188.6,71.3 1187.7,72.3 1186.5,72.9 1185.2,72.9 1184.0,72.3 1183.0,71.3 1182.4,69.8 1182.2,68.1 1182.2,59.9" fill="none" stroke="#2e2e2e" stroke-width="1.5" stroke-linecap="round" stroke-linejoin="round"/>
<rect x="1082" y="119" width="179.0" height="54.5" fill="none" stroke="#3a3a3a" stroke-width="1.6"/>
<line x1="1133" y1="119" x2="1133" y2="173.5" stroke="#3a3a3a" stroke-width="1.6"/>
<path d="M1111.6,131.5 1101.3,131.5 1100.5,145.1 1100.6,146.0 1102.4,143.6 1104.6,142.3 1107.1,142.3 1109.4,143.6 1111.1,146.0 1112.2,149.1 1112.3,152.6 1111.4,155.9 1109.8,158.5 1107.6,160.1 1105.2,160.4 1102.9,159.3 1100.9,157.1" fill="none" stroke="#2e2e2e" stroke-width="1.6" stroke-linecap="round" stroke-linejoin="round"/>
<path d="M1136.0,142.0 1139.1,124.0 1142.3,142.0M1137.0,136.2 1141.2,136.2M1145.4,124.0 1145.4,142.0M1148.5,142.0 1148.5,124.0 1151.5,124.0 1151.5,124.0 1152.4,124.3 1153.2,125.1 1153.8,126.4 1154.1,127.9 1154.1,129.6 1153.8,131.2 1153.2,132.4 1152.4,133.3 1151.5,133.5 1148.5,133.5M1151.3,133.5 1154.3,142.0M1165.3,124.0 1165.3,142.0M1168.4,142.0 1168.4,124.0 1174.1,142.0 1174.1,124.0M1177.3,124.0 1177.3,142.0 1182.3,142.0M1190.6,124.0 1185.4,124.0 1185.4,142.0 1190.6,142.0M1185.4,133.0 1189.3,133.0M1193.7,124.0 1199.6,124.0M1196.6,124.0 1196.6,142.0M1215.9,126.6 1215.3,125.3 1214.5,124.4 1213.6,124.0 1212.6,124.2 1211.8,124.9 1211.1,126.1 1210.8,127.6 1210.7,129.2 1211.0,130.7 1211.6,131.9 1212.5,132.7 1213.4,133.0 1213.3,133.0 1214.3,133.3 1215.2,134.1 1215.9,135.3 1216.2,136.8 1216.2,138.4 1215.8,139.9 1215.1,141.1 1214.1,141.8 1213.1,142.0 1212.1,141.6 1211.3,140.7 1210.7,139.4M1219.3,142.0 1219.3,124.0 1222.4,124.0 1222.4,124.0 1223.3,124.3 1224.0,125.1 1224.6,126.4 1224.9,127.9 1224.9,129.6 1224.6,131.2 1224.0,132.4 1223.3,133.3 1222.4,133.5 1219.3,133.5M1228.1,124.0 1228.1,142.0M1236.9,127.8 1236.1,125.5 1235.0,124.2 1233.8,124.2 1232.7,125.4 1231.8,127.8 1231.3,130.9 1231.3,134.3 1231.7,137.6 1232.4,140.1 1233.5,141.7 1234.7,141.9 1235.8,140.9 1236.7,138.8 1237.3,133.9 1234.7,133.9M1246.6,133.0 1246.4,136.4 1245.7,139.4 1244.7,141.3 1243.5,142.0 1242.3,141.3 1241.3,139.4 1240.6,136.4 1240.4,133.0 1240.6,129.6 1241.3,126.6 1242.3,124.7 1243.5,124.0 1244.7,124.7 1245.7,126.6 1246.4,129.6 1246.6,133.0M1249.8,124.0 1255.6,124.0M1252.7,124.0 1252.7,142.0" fill="none" stroke="#2e2e2e" stroke-width="1.5" stroke-linecap="round" stroke-linejoin="round"/>
<path d="M1147.1,151.8 1146.0,149.6 1144.7,148.3 1143.2,148.1 1141.7,149.0 1140.5,151.0 1139.8,153.8 1139.5,157.0 1139.8,160.2 1140.5,163.0 1141.7,165.0 1143.2,165.9 1144.7,165.7 1146.0,164.4 1147.1,162.2M1152.1,165.4 1151.9,165.9 1151.5,165.9 1151.3,165.4 1151.5,164.8 1151.9,164.8 1152.1,165.4M1156.2,151.1 1159.2,148.0 1159.2,166.0M1163.7,148.0 1171.5,148.0 1166.1,166.0M1176.4,165.4 1176.2,165.9 1175.8,165.9 1175.6,165.4 1175.8,164.8 1176.2,164.8 1176.4,165.4M1180.5,151.1 1183.6,148.0 1183.6,166.0M1188.8,165.4 1188.6,165.9 1188.2,165.9 1188.0,165.4 1188.2,164.8 1188.6,164.8 1188.8,165.4M1192.9,152.9 1193.1,151.2 1193.8,149.7 1194.8,148.7 1196.1,148.1 1197.4,148.1 1198.6,148.7 1199.7,149.7 1200.3,151.2 1200.5,152.9 1200.5,161.1 1200.3,162.8 1199.7,164.3 1198.6,165.3 1197.4,165.9 1196.1,165.9 1194.8,165.3 1193.8,164.3 1193.1,162.8 1192.9,161.1 1192.9,152.9M1204.9,151.5 1205.5,150.0 1206.4,148.8 1207.7,148.1 1209.0,148.0 1210.3,148.5 1211.3,149.6 1212.0,151.0 1212.3,152.6 1212.1,154.3 1204.7,166.0 1212.6,166.0M1217.4,165.4 1217.2,165.9 1216.8,165.9 1216.6,165.4 1216.8,164.8 1217.2,164.8 1217.4,165.4M1221.5,152.9 1221.8,151.2 1222.4,149.7 1223.5,148.7 1224.7,148.1 1226.0,148.1 1227.3,148.7 1228.3,149.7 1229.0,151.2 1229.2,152.9 1229.2,161.1 1229.0,162.8 1228.3,164.3 1227.3,165.3 1226.0,165.9 1224.7,165.9 1223.5,165.3 1222.4,164.3 1221.8,162.8 1221.5,161.1 1221.5,152.9M1233.4,152.9 1233.6,151.2 1234.3,149.7 1235.3,148.7 1236.5,148.1 1237.9,148.1 1239.1,148.7 1240.1,149.7 1240.8,151.2 1241.0,152.9 1241.0,161.1 1240.8,162.8 1240.1,164.3 1239.1,165.3 1237.9,165.9 1236.5,165.9 1235.3,165.3 1234.3,164.3 1233.6,162.8 1233.4,161.1 1233.4,152.9M1245.9,165.4 1245.7,165.9 1245.3,165.9 1245.1,165.4 1245.3,164.8 1245.7,164.8 1245.9,165.4M1250.1,152.9 1250.3,151.2 1250.9,149.7 1252.0,148.7 1253.2,148.1 1254.5,148.1 1255.8,148.7 1256.8,149.7 1257.5,151.2 1257.7,152.9 1257.7,161.1 1257.5,162.8 1256.8,164.3 1255.8,165.3 1254.5,165.9 1253.2,165.9 1252.0,165.3 1250.9,164.3 1250.3,162.8 1250.1,161.1 1250.1,152.9" fill="none" stroke="#2e2e2e" stroke-width="1.5" stroke-linecap="round" stroke-linejoin="round"/>
<rect x="1151" y="207" width="179.0" height="55.0" fill="none" stroke="#3a3a3a" stroke-width="1.6"/>
<line x1="1202" y1="207" x2="1202" y2="262" stroke="#3a3a3a" stroke-width="1.6"/>
<path d="M1159.6,219.8 1171.1,219.8 1163.5,231.6 1163.7,231.1 1166.1,231.1 1168.4,232.3 1170.2,234.5 1171.3,237.5 1171.5,240.8 1170.9,244.0 1169.5,246.7 1167.5,248.5 1165.2,249.2 1162.8,248.8 1160.7,247.2 1159.1,244.7M1178.5,227.7 1178.8,225.0 1179.9,222.6 1181.6,220.8 1183.7,219.9 1185.9,219.9 1187.9,220.8 1189.6,222.6 1190.7,225.0 1191.1,227.7 1191.1,241.3 1190.7,244.0 1189.6,246.4 1187.9,248.2 1185.9,249.1 1183.7,249.1 1181.6,248.2 1179.9,246.4 1178.8,244.0 1178.5,241.3 1178.5,227.7" fill="none" stroke="#2e2e2e" stroke-width="1.6" stroke-linecap="round" stroke-linejoin="round"/>
<path d="M1238.3,214.6 1237.5,213.3 1236.5,212.4 1235.2,212.0 1233.9,212.2 1232.7,212.9 1231.9,214.1 1231.4,215.6 1231.3,217.2 1231.7,218.7 1232.6,219.9 1233.7,220.7 1235.0,221.0 1234.8,221.0 1236.2,221.3 1237.4,222.1 1238.3,223.3 1238.7,224.8 1238.7,226.4 1238.1,227.9 1237.2,229.1 1235.9,229.8 1234.6,230.0 1233.2,229.6 1232.0,228.7 1231.2,227.4M1250.7,215.8 1249.6,213.6 1248.2,212.3 1246.7,212.1 1245.3,213.0 1244.1,215.0 1243.3,217.8 1243.0,221.0 1243.3,224.2 1244.1,227.0 1245.3,229.0 1246.7,229.9 1248.2,229.7 1249.6,228.4 1250.7,226.2M1255.0,230.0 1255.0,212.0 1259.1,212.0 1259.1,212.0 1260.3,212.3 1261.4,213.1 1262.2,214.4 1262.6,215.9 1262.6,217.6 1262.2,219.2 1261.4,220.4 1260.3,221.3 1259.1,221.5 1255.0,221.5M1258.8,221.5 1262.9,230.0M1274.2,212.0 1267.1,212.0 1267.1,230.0 1274.2,230.0M1267.1,221.0 1272.5,221.0M1278.4,212.0 1281.0,230.0 1283.5,214.2 1286.1,230.0 1288.6,212.0" fill="none" stroke="#2e2e2e" stroke-width="1.5" stroke-linecap="round" stroke-linejoin="round"/>
<path d="M1209.0,245.0 1209.0,236.0 1212.7,236.0 1212.7,236.0 1213.7,236.3 1214.6,237.1 1215.3,238.2 1215.7,239.7 1215.7,241.3 1215.3,242.8 1214.6,243.9 1213.7,244.7 1212.7,245.0 1209.0,245.0M1213.0,245.0 1213.0,245.0 1214.1,245.3 1215.1,246.1 1215.8,247.2 1216.2,248.7 1216.2,250.3 1215.8,251.8 1215.1,252.9 1214.1,253.7 1213.0,254.0 1209.0,254.0 1209.0,245.0M1220.9,253.4 1220.7,253.9 1220.3,253.9 1220.1,253.4 1220.3,252.8 1220.7,252.8 1220.9,253.4M1224.8,240.9 1225.0,239.2 1225.7,237.7 1226.6,236.7 1227.8,236.1 1229.1,236.1 1230.2,236.7 1231.2,237.7 1231.8,239.2 1232.1,240.9 1232.1,249.1 1231.8,250.8 1231.2,252.3 1230.2,253.3 1229.1,253.9 1227.8,253.9 1226.6,253.3 1225.7,252.3 1225.0,250.8 1224.8,249.1 1224.8,240.9M1241.7,254.0 1241.7,236.0 1236.0,248.2 1244.2,248.2M1248.6,253.4 1248.4,253.9 1248.0,253.9 1247.8,253.4 1248.0,252.8 1248.4,252.8 1248.6,253.4M1252.5,239.1 1255.4,236.0 1255.4,254.0M1260.3,253.4 1260.1,253.9 1259.7,253.9 1259.5,253.4 1259.7,252.8 1260.1,252.8 1260.3,253.4M1264.2,240.9 1264.4,239.2 1265.0,237.7 1266.0,236.7 1267.2,236.1 1268.4,236.1 1269.6,236.7 1270.6,237.7 1271.2,239.2 1271.4,240.9 1271.4,249.1 1271.2,250.8 1270.6,252.3 1269.6,253.3 1268.4,253.9 1267.2,253.9 1266.0,253.3 1265.0,252.3 1264.4,250.8 1264.2,249.1 1264.2,240.9M1275.4,240.9 1275.6,239.2 1276.2,237.7 1277.2,236.7 1278.4,236.1 1279.6,236.1 1280.8,236.7 1281.8,237.7 1282.4,239.2 1282.6,240.9 1282.6,249.1 1282.4,250.8 1281.8,252.3 1280.8,253.3 1279.6,253.9 1278.4,253.9 1277.2,253.3 1276.2,252.3 1275.6,250.8 1275.4,249.1 1275.4,240.9M1287.3,253.4 1287.1,253.9 1286.7,253.9 1286.5,253.4 1286.7,252.8 1287.1,252.8 1287.3,253.4M1298.0,240.5 1297.8,242.1 1297.2,243.5 1296.3,244.5 1295.2,245.0 1294.0,244.8 1293.0,244.1 1292.2,242.9 1291.8,241.3 1291.8,239.7 1292.2,238.1 1293.0,236.9 1294.0,236.2 1295.2,236.0 1296.3,236.5 1297.2,237.5 1297.8,238.9 1298.0,240.5M1298.6,249.4 1298.3,251.1 1297.6,252.5 1296.5,253.5 1295.2,254.0 1293.9,253.8 1292.7,253.1 1291.7,251.8 1291.3,250.3 1291.3,248.6 1291.7,247.0 1292.7,245.7 1293.9,245.0 1295.2,244.8 1296.5,245.3 1297.6,246.3 1298.3,247.8 1298.6,249.4M1302.7,239.5 1303.2,238.0 1304.2,236.8 1305.3,236.1 1306.6,236.0 1307.8,236.5 1308.8,237.6 1309.5,239.0 1309.7,240.6 1309.5,242.3 1302.5,254.0 1310.0,254.0M1314.6,253.4 1314.4,253.9 1314.0,253.9 1313.8,253.4 1314.0,252.8 1314.4,252.8 1314.6,253.4M1318.5,240.9 1318.7,239.2 1319.3,237.7 1320.3,236.7 1321.4,236.1 1322.7,236.1 1323.9,236.7 1324.9,237.7 1325.5,239.2 1325.7,240.9 1325.7,249.1 1325.5,250.8 1324.9,252.3 1323.9,253.3 1322.7,253.9 1321.4,253.9 1320.3,253.3 1319.3,252.3 1318.7,250.8 1318.5,249.1 1318.5,240.9" fill="none" stroke="#2e2e2e" stroke-width="1.5" stroke-linecap="round" stroke-linejoin="round"/>
<rect x="1450" y="288" width="179.5" height="77.0" fill="none" stroke="#3a3a3a" stroke-width="1.6"/>
<line x1="1501.7" y1="288" x2="1501.7" y2="365" stroke="#3a3a3a" stroke-width="1.6"/>
<path d="M1461.2,316.3 1466.5,311.0 1466.5,342.0M1487.5,319.7 1487.1,322.8 1485.8,325.5 1483.8,327.5 1481.5,328.3 1479.1,328.0 1476.9,326.6 1475.2,324.2 1474.3,321.3 1474.3,318.1 1475.2,315.1 1476.9,312.8 1479.1,311.3 1481.5,311.0 1483.8,311.9 1485.8,313.8 1487.1,316.5 1487.5,319.7 1487.5,322.2 1486.7,329.1 1484.4,335.2 1481.0,339.6 1476.7,341.8" fill="none" stroke="#2e2e2e" stroke-width="1.6" stroke-linecap="round" stroke-linejoin="round"/>
<path d="M1520.0,296.9 1519.0,294.7 1517.7,293.4 1516.4,293.2 1515.0,294.1 1514.0,296.1 1513.2,298.9 1513.0,302.1 1513.2,305.3 1514.0,308.1 1515.0,310.1 1516.4,311.0 1517.7,310.8 1519.0,309.5 1520.0,307.3M1531.6,302.1 1531.3,305.5 1530.5,308.5 1529.2,310.4 1527.7,311.1 1526.3,310.4 1525.0,308.5 1524.2,305.5 1523.9,302.1 1524.2,298.7 1525.0,295.7 1526.3,293.8 1527.7,293.1 1529.2,293.8 1530.5,295.7 1531.3,298.7 1531.6,302.1M1535.4,311.1 1535.4,293.1 1539.7,307.1 1543.9,293.1 1543.9,311.1M1547.7,302.1 1547.7,293.1 1551.3,293.1 1551.3,293.1 1552.3,293.4 1553.2,294.2 1553.9,295.4 1554.2,296.8 1554.2,298.4 1553.9,299.9 1553.2,301.0 1552.3,301.8 1551.3,302.1 1547.7,302.1M1551.6,302.1 1551.6,302.1 1552.7,302.4 1553.6,303.2 1554.4,304.4 1554.7,305.8 1554.7,307.4 1554.4,308.9 1553.6,310.0 1552.7,310.8 1551.6,311.1 1547.7,311.1 1547.7,302.1M1558.6,293.1 1558.6,305.7 1558.6,305.7 1558.8,307.5 1559.5,309.2 1560.4,310.4 1561.6,311.0 1562.8,311.0 1564.0,310.4 1565.0,309.2 1565.6,307.5 1565.8,305.7 1565.8,293.1M1576.3,295.7 1575.6,294.4 1574.6,293.5 1573.5,293.1 1572.3,293.3 1571.2,294.0 1570.4,295.2 1570.0,296.7 1569.9,298.3 1570.3,299.8 1571.1,301.0 1572.1,301.8 1573.2,302.1 1573.1,302.1 1574.4,302.4 1575.5,303.2 1576.3,304.4 1576.7,305.9 1576.6,307.5 1576.1,309.0 1575.3,310.2 1574.1,310.9 1572.9,311.1 1571.6,310.7 1570.6,309.8 1569.9,308.5M1580.5,293.1 1587.7,293.1M1584.1,293.1 1584.1,311.1M1591.6,293.1 1591.6,311.1M1603.1,302.1 1602.8,305.5 1602.0,308.5 1600.7,310.4 1599.3,311.1 1597.8,310.4 1596.5,308.5 1595.7,305.5 1595.4,302.1 1595.7,298.7 1596.5,295.7 1597.8,293.8 1599.3,293.1 1600.7,293.8 1602.0,295.7 1602.8,298.7 1603.1,302.1M1607.0,311.1 1607.0,293.1 1614.0,311.1 1614.0,293.1" fill="none" stroke="#2e2e2e" stroke-width="1.5" stroke-linecap="round" stroke-linejoin="round"/>
<path d="M1525.6,316.6 1532.0,316.6M1528.8,316.6 1528.8,334.6M1541.2,316.6 1535.5,316.6 1535.5,334.6 1541.2,334.6M1535.5,325.6 1539.8,325.6M1550.6,319.2 1550.0,317.9 1549.1,317.0 1548.1,316.6 1547.0,316.8 1546.1,317.5 1545.3,318.7 1544.9,320.1 1544.9,321.7 1545.2,323.2 1545.9,324.5 1546.8,325.3 1547.9,325.6 1547.7,325.6 1548.9,325.9 1549.9,326.7 1550.6,327.9 1550.9,329.4 1550.9,331.0 1550.5,332.5 1549.7,333.7 1548.7,334.4 1547.5,334.6 1546.4,334.2 1545.5,333.3 1544.8,332.0M1554.4,316.6 1560.8,316.6M1557.6,316.6 1557.6,334.6M1572.9,334.6 1572.9,316.6 1576.2,316.6 1576.2,316.6 1577.2,316.9 1578.1,317.7 1578.7,319.0 1579.0,320.5 1579.0,322.2 1578.7,323.7 1578.1,325.0 1577.2,325.8 1576.2,326.1 1572.9,326.1M1582.5,316.6 1582.5,334.6 1588.0,334.6M1591.5,316.6 1591.5,329.2 1591.5,329.2 1591.7,331.0 1592.2,332.7 1593.1,333.9 1594.1,334.5 1595.2,334.5 1596.3,333.9 1597.1,332.7 1597.7,331.0 1597.9,329.2 1597.9,316.6M1607.6,320.4 1606.7,318.0 1605.5,316.8 1604.1,316.7 1602.9,318.0 1602.0,320.4 1601.4,323.5 1601.4,326.9 1601.8,330.1 1602.7,332.7 1603.9,334.2 1605.2,334.5 1606.4,333.5 1607.4,331.4 1608.0,326.5 1605.1,326.5" fill="none" stroke="#2e2e2e" stroke-width="1.5" stroke-linecap="round" stroke-linejoin="round"/>
<path d="M1509.0,348.7 1509.0,339.7 1512.6,339.7 1512.6,339.7 1513.7,340.0 1514.6,340.7 1515.2,341.9 1515.6,343.4 1515.6,345.0 1515.2,346.4 1514.6,347.6 1513.7,348.4 1512.6,348.7 1509.0,348.7M1512.9,348.7 1512.9,348.7 1514.0,349.0 1515.0,349.7 1515.7,350.9 1516.1,352.4 1516.1,354.0 1515.7,355.4 1515.0,356.6 1514.0,357.4 1512.9,357.7 1509.0,357.7 1509.0,348.7M1520.8,357.1 1520.6,357.6 1520.2,357.6 1520.0,357.1 1520.2,356.5 1520.6,356.5 1520.8,357.1M1524.6,344.5 1524.8,342.9 1525.4,341.4 1526.4,340.3 1527.5,339.8 1528.8,339.8 1529.9,340.3 1530.9,341.4 1531.5,342.9 1531.7,344.5 1531.7,352.8 1531.5,354.5 1530.9,355.9 1529.9,357.0 1528.8,357.6 1527.5,357.6 1526.4,357.0 1525.4,355.9 1524.8,354.5 1524.6,352.8 1524.6,344.5M1541.2,357.7 1541.2,339.7 1535.6,351.9 1543.7,351.9M1548.0,357.1 1547.8,357.6 1547.4,357.6 1547.3,357.1 1547.4,356.5 1547.8,356.5 1548.0,357.1M1552.0,343.2 1552.6,341.6 1553.5,340.5 1554.6,339.8 1555.9,339.7 1557.1,340.2 1558.1,341.3 1558.7,342.7 1558.9,344.3 1558.7,346.0 1551.9,357.7 1559.3,357.7M1563.7,357.1 1563.6,357.6 1563.2,357.6 1563.0,357.1 1563.2,356.5 1563.6,356.5 1563.7,357.1M1567.6,344.5 1567.8,342.9 1568.4,341.4 1569.4,340.3 1570.5,339.8 1571.8,339.8 1572.9,340.3 1573.9,341.4 1574.5,342.9 1574.7,344.5 1574.7,352.8 1574.5,354.5 1573.9,355.9 1572.9,357.0 1571.8,357.6 1570.5,357.6 1569.4,357.0 1568.4,355.9 1567.8,354.5 1567.6,352.8 1567.6,344.5M1578.6,344.5 1578.8,342.9 1579.5,341.4 1580.4,340.3 1581.6,339.8 1582.8,339.8 1584.0,340.3 1584.9,341.4 1585.5,342.9 1585.8,344.5 1585.8,352.8 1585.5,354.5 1584.9,355.9 1584.0,357.0 1582.8,357.6 1581.6,357.6 1580.4,357.0 1579.5,355.9 1578.8,354.5 1578.6,352.8 1578.6,344.5M1590.4,357.1 1590.2,357.6 1589.8,357.6 1589.6,357.1 1589.8,356.5 1590.2,356.5 1590.4,357.1M1599.8,357.7 1599.8,339.7 1594.2,351.9 1602.3,351.9M1613.0,344.7 1612.8,346.5 1612.1,348.1 1611.1,349.2 1609.8,349.7 1608.5,349.6 1607.3,348.7 1606.4,347.4 1606.0,345.7 1606.0,343.8 1606.4,342.1 1607.3,340.7 1608.5,339.9 1609.8,339.7 1611.1,340.2 1612.1,341.3 1612.8,342.9 1613.0,344.7 1613.0,346.2 1612.6,350.2 1611.4,353.7 1609.5,356.3 1607.2,357.6M1617.7,357.1 1617.5,357.6 1617.1,357.6 1616.9,357.1 1617.1,356.5 1617.5,356.5 1617.7,357.1M1621.5,342.7 1624.3,339.7 1624.3,357.7" fill="none" stroke="#2e2e2e" stroke-width="1.5" stroke-linecap="round" stroke-linejoin="round"/>
<rect x="1519.5" y="400" width="179.3" height="54.0" fill="none" stroke="#3a3a3a" stroke-width="1.6"/>
<line x1="1570" y1="400" x2="1570" y2="454" stroke="#3a3a3a" stroke-width="1.6"/>
<path d="M1547.2,412.4 1543.2,414.5 1539.9,418.7 1537.7,424.5 1536.9,431.1 1536.9,433.5 1537.3,430.5 1538.6,427.9 1540.4,426.1 1542.7,425.3 1545.0,425.5 1547.1,426.9 1548.6,429.1 1549.5,432.0 1549.5,435.0 1548.6,437.8 1547.1,440.1 1545.0,441.4 1542.7,441.7 1540.4,440.9 1538.6,439.1 1537.3,436.5 1536.9,433.5" fill="none" stroke="#2e2e2e" stroke-width="1.6" stroke-linecap="round" stroke-linejoin="round"/>
<path d="M1576.3,405.0 1571.0,405.0 1571.0,423.0M1571.0,414.0 1575.0,414.0M1579.4,405.0 1579.4,423.0 1584.5,423.0M1587.6,405.0 1587.6,417.6 1587.6,417.6 1587.8,419.4 1588.3,421.1 1589.1,422.3 1590.1,422.9 1591.1,422.9 1592.1,422.3 1592.9,421.1 1593.4,419.4 1593.5,417.6 1593.5,405.0M1602.0,405.0 1596.7,405.0 1596.7,423.0 1602.0,423.0M1596.7,414.0 1600.7,414.0M1618.3,405.0 1613.0,405.0 1613.0,423.0 1618.3,423.0M1613.0,414.0 1617.0,414.0M1621.5,405.0 1627.4,423.0M1627.4,405.0 1621.5,423.0M1630.5,405.0 1630.5,423.0M1636.3,405.0 1636.3,423.0M1630.5,414.0 1636.3,414.0M1640.1,422.4 1639.9,422.9 1639.6,422.9 1639.4,422.4 1639.6,421.8 1639.9,421.8 1640.1,422.4M1656.5,407.6 1656.0,406.3 1655.1,405.4 1654.2,405.0 1653.2,405.2 1652.4,405.9 1651.7,407.1 1651.3,408.6 1651.3,410.2 1651.6,411.7 1652.2,412.9 1653.1,413.7 1654.0,414.0 1653.9,414.0 1655.0,414.3 1655.9,415.1 1656.5,416.3 1656.8,417.8 1656.8,419.4 1656.4,420.9 1655.7,422.1 1654.8,422.8 1653.7,423.0 1652.7,422.6 1651.9,421.7 1651.2,420.4M1660.0,423.0 1660.0,405.0 1663.1,405.0 1663.1,405.0 1664.0,405.3 1664.8,406.1 1665.4,407.4 1665.7,408.9 1665.7,410.6 1665.4,412.2 1664.8,413.4 1664.0,414.3 1663.1,414.5 1660.0,414.5M1668.9,405.0 1668.9,423.0M1677.8,408.8 1676.9,406.5 1675.8,405.2 1674.6,405.2 1673.5,406.4 1672.6,408.8 1672.1,411.9 1672.1,415.3 1672.5,418.6 1673.3,421.1 1674.3,422.7 1675.5,422.9 1676.7,421.9 1677.6,419.8 1678.2,414.9 1675.5,414.9M1687.6,414.0 1687.4,417.4 1686.7,420.4 1685.7,422.3 1684.5,423.0 1683.3,422.3 1682.2,420.4 1681.6,417.4 1681.3,414.0 1681.6,410.6 1682.2,407.6 1683.3,405.7 1684.5,405.0 1685.7,405.7 1686.7,407.6 1687.4,410.6 1687.6,414.0M1690.8,405.0 1696.7,405.0M1693.7,405.0 1693.7,423.0" fill="none" stroke="#2e2e2e" stroke-width="1.5" stroke-linecap="round" stroke-linejoin="round"/>
<path d="M1585.7,432.8 1584.7,430.6 1583.4,429.3 1581.9,429.1 1580.5,430.0 1579.4,432.0 1578.7,434.8 1578.4,438.0 1578.7,441.2 1579.4,444.0 1580.5,446.0 1581.9,446.9 1583.4,446.7 1584.7,445.4 1585.7,443.2M1590.6,446.4 1590.4,446.9 1590.0,446.9 1589.8,446.4 1590.0,445.8 1590.4,445.8 1590.6,446.4M1594.5,433.9 1594.8,432.2 1595.4,430.7 1596.4,429.7 1597.6,429.1 1598.9,429.1 1600.1,429.7 1601.1,430.7 1601.7,432.2 1601.9,433.9 1601.9,442.1 1601.7,443.8 1601.1,445.3 1600.1,446.3 1598.9,446.9 1597.6,446.9 1596.4,446.3 1595.4,445.3 1594.8,443.8 1594.5,442.1 1594.5,433.9M1613.0,433.5 1612.8,435.1 1612.1,436.5 1611.2,437.5 1610.0,438.0 1608.9,437.8 1607.8,437.1 1607.0,435.9 1606.6,434.3 1606.6,432.7 1607.0,431.1 1607.8,429.9 1608.9,429.2 1610.0,429.0 1611.2,429.5 1612.1,430.5 1612.8,431.9 1613.0,433.5M1613.5,442.4 1613.3,444.1 1612.5,445.5 1611.4,446.5 1610.1,447.0 1608.7,446.8 1607.5,446.1 1606.5,444.8 1606.0,443.3 1606.0,441.6 1606.5,440.0 1607.5,438.7 1608.7,438.0 1610.1,437.8 1611.4,438.3 1612.5,439.3 1613.3,440.8 1613.5,442.4M1618.3,446.4 1618.1,446.9 1617.7,446.9 1617.5,446.4 1617.7,445.8 1618.1,445.8 1618.3,446.4M1622.3,432.1 1625.2,429.0 1625.2,447.0M1630.3,446.4 1630.1,446.9 1629.6,446.9 1629.4,446.4 1629.6,445.8 1630.1,445.8 1630.3,446.4M1634.2,433.9 1634.4,432.2 1635.1,430.7 1636.1,429.7 1637.3,429.1 1638.6,429.1 1639.8,429.7 1640.8,430.7 1641.4,432.2 1641.6,433.9 1641.6,442.1 1641.4,443.8 1640.8,445.3 1639.8,446.3 1638.6,446.9 1637.3,446.9 1636.1,446.3 1635.1,445.3 1634.4,443.8 1634.2,442.1 1634.2,433.9M1646.1,429.0 1652.8,429.0 1648.3,436.2 1648.5,435.9 1649.9,435.9 1651.2,436.7 1652.2,438.0 1652.9,439.8 1653.0,441.8 1652.7,443.8 1651.9,445.4 1650.7,446.5 1649.3,447.0 1647.9,446.7 1646.7,445.7 1645.8,444.2M1657.8,446.4 1657.6,446.9 1657.2,446.9 1657.0,446.4 1657.2,445.8 1657.6,445.8 1657.8,446.4M1661.8,433.9 1662.0,432.2 1662.7,430.7 1663.6,429.7 1664.9,429.1 1666.1,429.1 1667.3,429.7 1668.3,430.7 1669.0,432.2 1669.2,433.9 1669.2,442.1 1669.0,443.8 1668.3,445.3 1667.3,446.3 1666.1,446.9 1664.9,446.9 1663.6,446.3 1662.7,445.3 1662.0,443.8 1661.8,442.1 1661.8,433.9M1673.2,433.9 1673.5,432.2 1674.1,430.7 1675.1,429.7 1676.3,429.1 1677.6,429.1 1678.8,429.7 1679.8,430.7 1680.4,432.2 1680.6,433.9 1680.6,442.1 1680.4,443.8 1679.8,445.3 1678.8,446.3 1677.6,446.9 1676.3,446.9 1675.1,446.3 1674.1,445.3 1673.5,443.8 1673.2,442.1 1673.2,433.9M1685.4,446.4 1685.2,446.9 1684.8,446.9 1684.6,446.4 1684.8,445.8 1685.2,445.8 1685.4,446.4M1689.4,432.1 1692.3,429.0 1692.3,447.0" fill="none" stroke="#2e2e2e" stroke-width="1.5" stroke-linecap="round" stroke-linejoin="round"/>
<rect x="33.3" y="236" width="178.5" height="54.7" fill="none" stroke="#3a3a3a" stroke-width="1.6"/>
<line x1="84.4" y1="236" x2="84.4" y2="290.7" stroke="#3a3a3a" stroke-width="1.6"/>
<path d="M40.9,254.3 41.8,251.8 43.4,249.9 45.4,248.8 47.7,248.7 49.8,249.5 51.5,251.2 52.7,253.5 53.1,256.2 52.7,258.9 40.6,278.1 53.7,278.1M70.2,278.1 70.2,248.6 60.3,268.7 74.6,268.7" fill="none" stroke="#2e2e2e" stroke-width="1.6" stroke-linecap="round" stroke-linejoin="round"/>
<path d="M105.3,244.8 104.2,242.5 102.7,241.2 101.1,241.2 99.6,242.4 98.5,244.8 97.8,247.9 97.7,251.3 98.3,254.6 99.3,257.1 100.7,258.7 102.3,258.9 103.9,257.9 105.1,255.8 105.8,250.9 102.3,250.9M110.0,259.0 114.2,241.0 118.4,259.0M111.4,253.2 117.0,253.2M129.7,243.6 129.0,242.3 127.9,241.4 126.7,241.0 125.4,241.2 124.3,241.9 123.4,243.1 122.9,244.6 122.9,246.2 123.3,247.7 124.1,248.9 125.2,249.7 126.5,250.0 126.3,250.0 127.7,250.3 128.9,251.1 129.7,252.3 130.2,253.8 130.1,255.4 129.6,256.9 128.7,258.1 127.4,258.8 126.1,259.0 124.7,258.6 123.6,257.7 122.8,256.4M152.5,244.8 151.4,242.6 150.1,241.3 148.6,241.1 147.1,242.0 145.9,244.0 145.2,246.8 144.9,250.0 145.2,253.2 145.9,256.0 147.1,258.0 148.6,258.9 150.1,258.7 151.4,257.4 152.5,255.2M165.1,250.0 164.8,253.4 163.9,256.4 162.5,258.3 160.9,259.0 159.3,258.3 158.0,256.4 157.1,253.4 156.8,250.0 157.1,246.6 158.0,243.6 159.3,241.7 160.9,241.0 162.5,241.7 163.9,243.6 164.8,246.6 165.1,250.0M176.9,244.8 175.9,242.6 174.5,241.3 173.0,241.1 171.5,242.0 170.4,244.0 169.6,246.8 169.3,250.0 169.6,253.2 170.4,256.0 171.5,258.0 173.0,258.9 174.5,258.7 175.9,257.4 176.9,255.2M181.2,241.0 181.2,259.0M188.9,241.0 181.2,252.5M183.6,248.9 189.1,259.0" fill="none" stroke="#2e2e2e" stroke-width="1.5" stroke-linecap="round" stroke-linejoin="round"/>
<path d="M90.5,274.0 90.5,265.0 94.4,265.0 94.4,265.0 95.5,265.3 96.4,266.1 97.1,267.2 97.5,268.7 97.5,270.3 97.1,271.8 96.4,272.9 95.5,273.7 94.4,274.0 90.5,274.0M94.7,274.0 94.7,274.0 95.8,274.3 96.9,275.1 97.7,276.2 98.1,277.7 98.1,279.3 97.7,280.8 96.9,281.9 95.8,282.7 94.7,283.0 90.5,283.0 90.5,274.0M103.1,282.4 102.8,282.9 102.4,282.9 102.2,282.4 102.4,281.8 102.8,281.8 103.1,282.4M107.2,269.9 107.4,268.2 108.0,266.7 109.1,265.7 110.3,265.1 111.6,265.1 112.9,265.7 113.9,266.7 114.6,268.2 114.8,269.9 114.8,278.1 114.6,279.8 113.9,281.3 112.9,282.3 111.6,282.9 110.3,282.9 109.1,282.3 108.0,281.3 107.4,279.8 107.2,278.1 107.2,269.9M124.9,283.0 124.9,265.0 118.9,277.2 127.5,277.2M132.2,282.4 132.0,282.9 131.6,282.9 131.4,282.4 131.6,281.8 132.0,281.8 132.2,282.4M136.3,268.1 139.3,265.0 139.3,283.0M144.5,282.4 144.3,282.9 143.9,282.9 143.7,282.4 143.9,281.8 144.3,281.8 144.5,282.4M148.6,268.1 151.7,265.0 151.7,283.0M163.3,269.5 163.1,271.1 162.5,272.5 161.5,273.5 160.3,274.0 159.1,273.8 158.0,273.1 157.2,271.9 156.7,270.3 156.7,268.7 157.2,267.1 158.0,265.9 159.1,265.2 160.3,265.0 161.5,265.5 162.5,266.5 163.1,267.9 163.3,269.5M163.9,278.4 163.6,280.1 162.9,281.5 161.7,282.5 160.4,283.0 159.0,282.8 157.7,282.1 156.7,280.8 156.2,279.3 156.2,277.6 156.7,276.0 157.7,274.7 159.0,274.0 160.4,273.8 161.7,274.3 162.9,275.3 163.6,276.8 163.9,278.4M168.8,282.4 168.6,282.9 168.2,282.9 168.0,282.4 168.2,281.8 168.6,281.8 168.8,282.4M172.9,269.9 173.2,268.2 173.8,266.7 174.8,265.7 176.1,265.1 177.4,265.1 178.6,265.7 179.7,266.7 180.3,268.2 180.6,269.9 180.6,278.1 180.3,279.8 179.7,281.3 178.6,282.3 177.4,282.9 176.1,282.9 174.8,282.3 173.8,281.3 173.2,279.8 172.9,278.1 172.9,269.9M184.7,269.9 184.9,268.2 185.6,266.7 186.6,265.7 187.9,265.1 189.2,265.1 190.4,265.7 191.5,266.7 192.1,268.2 192.3,269.9 192.3,278.1 192.1,279.8 191.5,281.3 190.4,282.3 189.2,282.9 187.9,282.9 186.6,282.3 185.6,281.3 184.9,279.8 184.7,278.1 184.7,269.9M197.3,282.4 197.1,282.9 196.7,282.9 196.4,282.4 196.7,281.8 197.1,281.8 197.3,282.4M201.4,269.9 201.6,268.2 202.3,266.7 203.3,265.7 204.5,265.1 205.8,265.1 207.1,265.7 208.1,266.7 208.8,268.2 209.0,269.9 209.0,278.1 208.8,279.8 208.1,281.3 207.1,282.3 205.8,282.9 204.5,282.9 203.3,282.3 202.3,281.3 201.6,279.8 201.4,278.1 201.4,269.9" fill="none" stroke="#2e2e2e" stroke-width="1.5" stroke-linecap="round" stroke-linejoin="round"/>
<rect x="33.7" y="457" width="178.3" height="55.4" fill="none" stroke="#3a3a3a" stroke-width="1.6"/>
<line x1="84.7" y1="457" x2="84.7" y2="512.4" stroke="#3a3a3a" stroke-width="1.6"/>
<path d="M41.7,475.6 42.6,473.2 44.2,471.3 46.3,470.2 48.5,470.0 50.6,470.8 52.3,472.5 53.5,474.9 53.9,477.5 53.5,480.2 41.4,499.4 54.5,499.4M61.2,469.9 74.0,469.9 65.1,499.4" fill="none" stroke="#2e2e2e" stroke-width="1.6" stroke-linecap="round" stroke-linejoin="round"/>
<path d="M96.2,464.0 91.6,464.0 91.6,480.0 96.2,480.0M91.6,472.0 95.1,472.0M98.9,464.0 104.0,480.0M104.0,464.0 98.9,480.0M106.8,464.0 106.8,480.0M111.8,464.0 111.8,480.0M106.8,472.0 111.8,472.0M114.5,480.0 117.3,464.0 120.0,480.0M115.4,474.9 119.1,474.9M122.8,464.0 122.8,475.2 122.8,475.2 122.9,476.8 123.4,478.3 124.0,479.4 124.9,479.9 125.8,479.9 126.6,479.4 127.3,478.3 127.7,476.8 127.9,475.2 127.9,464.0M135.3,466.3 134.8,465.2 134.1,464.4 133.3,464.0 132.5,464.2 131.7,464.8 131.2,465.9 130.8,467.2 130.8,468.6 131.1,469.9 131.6,471.0 132.3,471.7 133.2,472.0 133.1,472.0 134.0,472.3 134.8,473.0 135.3,474.1 135.6,475.4 135.6,476.8 135.2,478.1 134.6,479.2 133.8,479.8 132.9,480.0 132.0,479.6 131.3,478.8 130.8,477.7M138.4,464.0 143.5,464.0M140.9,464.0 140.9,480.0M153.1,464.0 158.2,464.0M155.6,464.0 155.6,480.0M165.5,464.0 160.9,464.0 160.9,480.0 165.5,480.0M160.9,472.0 164.4,472.0M168.3,480.0 168.3,464.0 170.9,464.0 170.9,464.0 171.7,464.3 172.4,465.0 172.9,466.1 173.2,467.5 173.2,469.0 172.9,470.4 172.4,471.5 171.7,472.2 170.9,472.5 168.3,472.5M170.7,472.5 173.4,480.0M176.1,480.0 176.1,464.0 179.1,476.5 182.1,464.0 182.1,480.0M184.9,464.0 184.9,480.0M187.6,480.0 187.6,464.0 192.7,480.0 192.7,464.0M195.4,480.0 198.1,464.0 200.9,480.0M196.3,474.9 200.0,474.9M203.6,464.0 203.6,480.0 208.0,480.0" fill="none" stroke="#2e2e2e" stroke-width="1.5" stroke-linecap="round" stroke-linejoin="round"/>
<path d="M92.3,495.0 92.3,486.0 96.3,486.0 96.3,486.0 97.4,486.3 98.4,487.1 99.1,488.2 99.5,489.7 99.5,491.3 99.1,492.8 98.4,493.9 97.4,494.7 96.3,495.0 92.3,495.0M96.6,495.0 96.6,495.0 97.8,495.3 98.9,496.1 99.7,497.2 100.1,498.7 100.1,500.3 99.7,501.8 98.9,502.9 97.8,503.7 96.6,504.0 92.3,504.0 92.3,495.0M105.2,503.4 105.0,503.9 104.6,503.9 104.3,503.4 104.6,502.8 105.0,502.8 105.2,503.4M109.4,489.1 112.5,486.0 112.5,504.0M117.1,486.0 125.1,486.0 119.5,504.0M130.1,503.4 129.9,503.9 129.5,503.9 129.3,503.4 129.5,502.8 129.9,502.8 130.1,503.4M134.3,489.1 137.5,486.0 137.5,504.0M142.8,503.4 142.6,503.9 142.2,503.9 142.0,503.4 142.2,502.8 142.6,502.8 142.8,503.4M147.0,489.1 150.2,486.0 150.2,504.0M161.1,486.1 158.6,487.4 156.5,490.0 155.2,493.5 154.7,497.5 154.7,499.0 155.0,497.1 155.7,495.6 156.9,494.4 158.3,493.9 159.7,494.1 161.0,494.9 162.0,496.3 162.5,498.0 162.5,499.9 162.0,501.6 161.0,503.0 159.7,503.8 158.3,504.0 156.9,503.5 155.7,502.4 155.0,500.8 154.7,499.0M167.6,503.4 167.4,503.9 167.0,503.9 166.8,503.4 167.0,502.8 167.4,502.8 167.6,503.4M171.8,490.9 172.0,489.2 172.7,487.7 173.8,486.7 175.0,486.1 176.4,486.1 177.7,486.7 178.7,487.7 179.4,489.2 179.6,490.9 179.6,499.1 179.4,500.8 178.7,502.3 177.7,503.3 176.4,503.9 175.0,503.9 173.8,503.3 172.7,502.3 172.0,500.8 171.8,499.1 171.8,490.9M183.9,490.9 184.2,489.2 184.8,487.7 185.9,486.7 187.2,486.1 188.5,486.1 189.8,486.7 190.8,487.7 191.5,489.2 191.8,490.9 191.8,499.1 191.5,500.8 190.8,502.3 189.8,503.3 188.5,503.9 187.2,503.9 185.9,503.3 184.8,502.3 184.2,500.8 183.9,499.1 183.9,490.9M196.8,503.4 196.6,503.9 196.2,503.9 196.0,503.4 196.2,502.8 196.6,502.8 196.8,503.4M201.2,489.5 201.8,488.0 202.8,486.8 204.1,486.1 205.4,486.0 206.7,486.5 207.8,487.6 208.5,489.0 208.8,490.6 208.6,492.3 201.0,504.0 209.1,504.0" fill="none" stroke="#2e2e2e" stroke-width="1.5" stroke-linecap="round" stroke-linejoin="round"/>
<rect x="290.8" y="592.4" width="178.8" height="77.1" fill="none" stroke="#3a3a3a" stroke-width="1.6"/>
<line x1="342" y1="592.4" x2="342" y2="669.5" stroke="#3a3a3a" stroke-width="1.6"/>
<path d="M298.2,621.4 299.2,618.8 300.9,616.8 303.0,615.7 305.3,615.5 307.5,616.4 309.4,618.2 310.6,620.6 311.0,623.4 310.6,626.3 297.9,646.5 311.6,646.5M318.6,623.8 319.0,621.0 320.2,618.4 322.0,616.6 324.1,615.6 326.5,615.6 328.6,616.6 330.4,618.4 331.5,621.0 331.9,623.8 331.9,638.1 331.5,640.9 330.4,643.5 328.6,645.3 326.5,646.3 324.1,646.3 322.0,645.3 320.2,643.5 319.0,640.9 318.6,638.1 318.6,623.8" fill="none" stroke="#2e2e2e" stroke-width="1.6" stroke-linecap="round" stroke-linejoin="round"/>
<path d="M344.7,601.0 344.7,615.5M349.0,601.0 344.7,610.3M346.0,607.4 349.1,615.5M355.3,601.0 351.4,601.0 351.4,615.5 355.3,615.5M351.4,608.3 354.3,608.3M361.6,603.1 361.2,602.1 360.6,601.3 359.9,601.0 359.2,601.2 358.6,601.8 358.1,602.7 357.8,603.9 357.8,605.2 358.0,606.4 358.5,607.4 359.1,608.1 359.8,608.3 359.7,608.3 360.5,608.5 361.1,609.2 361.6,610.2 361.9,611.4 361.8,612.7 361.6,613.9 361.0,614.8 360.3,615.4 359.6,615.5 358.8,615.2 358.2,614.5 357.7,613.4M364.2,601.0 368.6,601.0M366.4,601.0 366.4,615.5M375.6,608.3 375.4,611.1 374.9,613.4 374.1,615.0 373.3,615.5 372.4,615.0 371.6,613.4 371.1,611.1 370.9,608.3 371.1,605.5 371.6,603.2 372.4,601.6 373.3,601.0 374.1,601.6 374.9,603.2 375.4,605.5 375.6,608.3M377.9,615.5 377.9,601.0 382.2,615.5 382.2,601.0M394.6,604.1 394.0,602.3 393.2,601.2 392.4,601.1 391.6,601.9 391.0,603.5 390.5,605.7 390.4,608.3 390.5,610.8 391.0,613.1 391.6,614.7 392.4,615.5 393.2,615.3 394.0,614.3 394.6,612.4M400.9,601.0 397.0,601.0 397.0,615.5 400.9,615.5M397.0,608.3 399.9,608.3M403.2,601.0 403.2,615.5 406.9,615.5M413.3,603.1 412.9,602.1 412.3,601.3 411.6,601.0 410.9,601.2 410.2,601.8 409.7,602.7 409.5,603.9 409.5,605.2 409.7,606.4 410.1,607.4 410.7,608.1 411.5,608.3 411.4,608.3 412.1,608.5 412.8,609.2 413.3,610.2 413.5,611.4 413.5,612.7 413.2,613.9 412.7,614.8 412.0,615.4 411.2,615.5 410.5,615.2 409.8,614.5 409.4,613.4M415.9,601.0 415.9,615.5M418.2,601.0 418.2,611.2 418.2,611.2 418.4,612.7 418.7,614.0 419.3,614.9 420.0,615.5 420.8,615.5 421.5,614.9 422.1,614.0 422.4,612.7 422.6,611.2 422.6,601.0M428.9,603.1 428.5,602.1 427.9,601.3 427.2,601.0 426.5,601.2 425.9,601.8 425.4,602.7 425.1,603.9 425.1,605.2 425.3,606.4 425.8,607.4 426.4,608.1 427.1,608.3 427.0,608.3 427.8,608.5 428.4,609.2 428.9,610.2 429.2,611.4 429.1,612.7 428.8,613.9 428.3,614.8 427.6,615.4 426.9,615.5 426.1,615.2 425.5,614.5 425.0,613.4M437.4,601.0 437.4,615.5 441.1,615.5M443.4,615.5 445.8,601.0 448.1,615.5M444.2,610.9 447.3,610.9M450.4,608.3 450.4,601.0 452.6,601.0 452.6,601.0 453.2,601.2 453.8,601.9 454.2,602.8 454.4,604.0 454.4,605.3 454.2,606.5 453.8,607.4 453.2,608.1 452.6,608.3 450.4,608.3M452.8,608.3 452.8,608.3 453.4,608.5 454.0,609.1 454.4,610.1 454.7,611.3 454.7,612.5 454.4,613.7 454.0,614.7 453.4,615.3 452.8,615.5 450.4,615.5 450.4,608.3M460.9,601.0 457.0,601.0 457.0,615.5 460.9,615.5M457.0,608.3 460.0,608.3M463.3,601.0 463.3,615.5 467.0,615.5" fill="none" stroke="#2e2e2e" stroke-width="1.5" stroke-linecap="round" stroke-linejoin="round"/>
<path d="M349.4,626.5 348.6,624.4 347.5,623.3 346.3,623.1 345.1,624.0 344.1,625.8 343.5,628.2 343.3,631.0 343.5,633.9 344.1,636.3 345.1,638.1 346.3,639.0 347.5,638.8 348.6,637.7 349.4,635.6M353.5,638.5 353.3,639.0 353.0,639.0 352.8,638.5 353.0,638.0 353.3,638.0 353.5,638.5M356.8,627.4 357.0,625.9 357.5,624.6 358.4,623.6 359.4,623.1 360.4,623.1 361.5,623.6 362.3,624.6 362.8,625.9 363.0,627.4 363.0,634.7 362.8,636.2 362.3,637.5 361.5,638.5 360.4,639.0 359.4,639.0 358.4,638.5 357.5,637.5 357.0,636.2 356.8,634.7 356.8,627.4M372.2,627.0 372.0,628.5 371.5,629.7 370.7,630.6 369.8,631.0 368.8,630.9 367.9,630.2 367.2,629.2 366.9,627.8 366.9,626.3 367.2,624.9 367.9,623.9 368.8,623.2 369.8,623.1 370.7,623.5 371.5,624.4 372.0,625.6 372.2,627.0M372.7,635.0 372.5,636.4 371.9,637.7 370.9,638.6 369.8,639.0 368.7,638.9 367.6,638.2 366.8,637.1 366.4,635.7 366.4,634.2 366.8,632.8 367.6,631.7 368.7,631.0 369.8,630.9 370.9,631.3 371.9,632.2 372.5,633.5 372.7,635.0M376.7,638.5 376.5,639.0 376.2,639.0 376.0,638.5 376.2,638.0 376.5,638.0 376.7,638.5M380.0,625.8 382.5,623.0 382.5,639.0M386.7,638.5 386.5,639.0 386.2,639.0 386.0,638.5 386.2,638.0 386.5,638.0 386.7,638.5M390.0,627.4 390.2,625.9 390.7,624.6 391.6,623.6 392.6,623.1 393.6,623.1 394.7,623.6 395.5,624.6 396.0,625.9 396.2,627.4 396.2,634.7 396.0,636.2 395.5,637.5 394.7,638.5 393.6,639.0 392.6,639.0 391.6,638.5 390.7,637.5 390.2,636.2 390.0,634.7 390.0,627.4M399.6,627.4 399.8,625.9 400.3,624.6 401.1,623.6 402.1,623.1 403.2,623.1 404.2,623.6 405.1,624.6 405.6,625.9 405.8,627.4 405.8,634.7 405.6,636.2 405.1,637.5 404.2,638.5 403.2,639.0 402.1,639.0 401.1,638.5 400.3,637.5 399.8,636.2 399.6,634.7 399.6,627.4M409.8,638.5 409.6,639.0 409.3,639.0 409.1,638.5 409.3,638.0 409.6,638.0 409.8,638.5M413.1,627.4 413.3,625.9 413.8,624.6 414.6,623.6 415.6,623.1 416.7,623.1 417.7,623.6 418.6,624.6 419.1,625.9 419.3,627.4 419.3,634.7 419.1,636.2 418.6,637.5 417.7,638.5 416.7,639.0 415.6,639.0 414.6,638.5 413.8,637.5 413.3,636.2 413.1,634.7 413.1,627.4M428.5,627.0 428.3,628.5 427.8,629.7 427.0,630.6 426.1,631.0 425.1,630.9 424.2,630.2 423.5,629.2 423.2,627.8 423.2,626.3 423.5,624.9 424.2,623.9 425.1,623.2 426.1,623.1 427.0,623.5 427.8,624.4 428.3,625.6 428.5,627.0M429.0,635.0 428.8,636.4 428.1,637.7 427.2,638.6 426.1,639.0 424.9,638.9 423.9,638.2 423.1,637.1 422.7,635.7 422.7,634.2 423.1,632.8 423.9,631.7 424.9,631.0 426.1,630.9 427.2,631.3 428.1,632.2 428.8,633.5 429.0,635.0M433.0,638.5 432.8,639.0 432.5,639.0 432.3,638.5 432.5,638.0 432.8,638.0 433.0,638.5M436.3,627.4 436.5,625.9 437.0,624.6 437.8,623.6 438.8,623.1 439.9,623.1 440.9,623.6 441.7,624.6 442.3,625.9 442.5,627.4 442.5,634.7 442.3,636.2 441.7,637.5 440.9,638.5 439.9,639.0 438.8,639.0 437.8,638.5 437.0,637.5 436.5,636.2 436.3,634.7 436.3,627.4M445.8,632.0 450.1,632.0M453.5,639.0 453.5,623.0 459.7,639.0 459.7,623.0M469.2,626.5 468.3,624.3 467.1,623.2 465.8,623.2 464.6,624.3 463.7,626.4 463.2,629.2 463.1,632.2 463.5,635.1 464.4,637.4 465.5,638.7 466.8,639.0 468.0,638.1 469.0,636.2 469.6,631.8 466.8,631.8" fill="none" stroke="#2e2e2e" stroke-width="1.5" stroke-linecap="round" stroke-linejoin="round"/>
<path d="M349.1,649.6 348.2,647.6 347.2,646.4 346.1,646.2 345.0,647.1 344.1,648.9 343.5,651.3 343.3,654.2 343.5,657.0 344.1,659.5 345.0,661.2 346.1,662.1 347.2,662.0 348.2,660.8 349.1,658.8M352.8,661.6 352.7,662.1 352.4,662.1 352.2,661.6 352.4,661.1 352.7,661.1 352.8,661.6M356.0,650.5 356.1,649.0 356.6,647.7 357.4,646.8 358.3,646.2 359.4,646.2 360.3,646.8 361.1,647.7 361.6,649.0 361.7,650.5 361.7,657.9 361.6,659.3 361.1,660.6 360.3,661.6 359.4,662.1 358.3,662.1 357.4,661.6 356.6,660.6 356.1,659.3 356.0,657.9 356.0,650.5M370.4,650.2 370.2,651.6 369.7,652.9 369.0,653.8 368.1,654.2 367.2,654.0 366.3,653.4 365.7,652.3 365.4,650.9 365.4,649.4 365.7,648.1 366.3,647.0 367.2,646.3 368.1,646.2 369.0,646.6 369.7,647.5 370.2,648.7 370.4,650.2M370.8,658.1 370.6,659.6 370.0,660.8 369.2,661.7 368.1,662.2 367.1,662.0 366.1,661.4 365.4,660.2 365.0,658.8 365.0,657.3 365.4,655.9 366.1,654.8 367.1,654.2 368.1,654.0 369.2,654.4 370.0,655.3 370.6,656.6 370.8,658.1M374.6,661.6 374.4,662.1 374.1,662.1 373.9,661.6 374.1,661.1 374.4,661.1 374.6,661.6M377.7,648.9 380.0,646.2 380.0,662.2M383.9,661.6 383.8,662.1 383.5,662.1 383.3,661.6 383.5,661.1 383.8,661.1 383.9,661.6M387.1,650.5 387.2,649.0 387.7,647.7 388.5,646.8 389.4,646.2 390.5,646.2 391.4,646.8 392.2,647.7 392.7,649.0 392.9,650.5 392.9,657.9 392.7,659.3 392.2,660.6 391.4,661.6 390.5,662.1 389.4,662.1 388.5,661.6 387.7,660.6 387.2,659.3 387.1,657.9 387.1,650.5M396.0,650.5 396.2,649.0 396.7,647.7 397.5,646.8 398.4,646.2 399.4,646.2 400.4,646.8 401.1,647.7 401.6,649.0 401.8,650.5 401.8,657.9 401.6,659.3 401.1,660.6 400.4,661.6 399.4,662.1 398.4,662.1 397.5,661.6 396.7,660.6 396.2,659.3 396.0,657.9 396.0,650.5M405.6,661.6 405.4,662.1 405.1,662.1 404.9,661.6 405.1,661.1 405.4,661.1 405.6,661.6M409.0,646.2 414.3,646.2 410.8,652.6 410.9,652.3 412.0,652.3 413.0,653.0 413.8,654.2 414.3,655.8 414.5,657.6 414.2,659.3 413.5,660.8 412.6,661.8 411.5,662.2 410.4,661.9 409.5,661.1 408.8,659.7M422.3,646.3 420.5,647.4 419.0,649.7 418.0,652.8 417.6,656.4 417.6,657.7 417.8,656.1 418.4,654.7 419.2,653.7 420.3,653.2 421.3,653.4 422.3,654.1 423.0,655.3 423.4,656.9 423.4,658.5 423.0,660.1 422.3,661.3 421.3,662.0 420.3,662.2 419.2,661.7 418.4,660.7 417.8,659.3 417.6,657.7M427.2,661.6 427.0,662.1 426.7,662.1 426.5,661.6 426.7,661.1 427.0,661.1 427.2,661.6M430.3,650.5 430.5,649.0 431.0,647.7 431.7,646.8 432.7,646.2 433.7,646.2 434.6,646.8 435.4,647.7 435.9,649.0 436.1,650.5 436.1,657.9 435.9,659.3 435.4,660.6 434.6,661.6 433.7,662.1 432.7,662.1 431.7,661.6 431.0,660.6 430.5,659.3 430.3,657.9 430.3,650.5M439.2,655.1 443.2,655.1M446.4,646.2 446.4,662.2 451.5,662.2M454.6,662.2 454.6,646.2 457.7,646.2 457.7,646.2 458.6,646.4 459.4,647.2 460.0,648.3 460.3,649.7 460.3,651.2 460.0,652.5 459.4,653.7 458.6,654.4 457.7,654.7 454.6,654.7M469.2,649.6 468.4,647.5 467.3,646.3 466.1,646.3 464.9,647.4 464.1,649.5 463.6,652.3 463.5,655.4 463.9,658.2 464.7,660.5 465.8,661.9 467.0,662.1 468.1,661.2 469.1,659.3 469.6,655.0 467.0,655.0" fill="none" stroke="#2e2e2e" stroke-width="1.5" stroke-linecap="round" stroke-linejoin="round"/>
<rect x="191" y="710" width="179.0" height="55.8" fill="none" stroke="#3a3a3a" stroke-width="1.6"/>
<line x1="242" y1="710" x2="242" y2="765.8" stroke="#3a3a3a" stroke-width="1.6"/>
<path d="M202.3,728.2 207.4,723.1 207.4,752.6M214.8,723.1 227.7,723.1 218.7,752.6" fill="none" stroke="#2e2e2e" stroke-width="1.6" stroke-linecap="round" stroke-linejoin="round"/>
<path d="M244.4,733.0 247.7,715.0 250.9,733.0M245.5,727.2 249.9,727.2M254.2,715.0 254.2,733.0M257.5,733.0 257.5,715.0 260.7,715.0 260.7,715.0 261.6,715.3 262.4,716.1 263.0,717.4 263.3,718.9 263.3,720.6 263.0,722.2 262.4,723.4 261.6,724.3 260.7,724.5 257.5,724.5M260.4,724.5 263.6,733.0M275.1,715.0 275.1,733.0M278.3,733.0 278.3,715.0 284.3,733.0 284.3,715.0M287.6,715.0 287.6,733.0 292.9,733.0M301.6,715.0 296.1,715.0 296.1,733.0 301.6,733.0M296.1,724.0 300.3,724.0M304.9,715.0 311.0,715.0M307.9,715.0 307.9,733.0M322.4,715.0 322.4,733.0 327.7,733.0M330.9,733.0 334.2,715.0 337.5,733.0M332.0,727.2 336.4,727.2M340.8,724.0 340.8,715.0 343.8,715.0 343.8,715.0 344.7,715.3 345.4,716.1 346.0,717.2 346.3,718.7 346.3,720.3 346.0,721.8 345.4,722.9 344.7,723.7 343.8,724.0 340.8,724.0M344.0,724.0 344.0,724.0 345.0,724.3 345.8,725.1 346.4,726.2 346.7,727.7 346.7,729.3 346.4,730.8 345.8,731.9 345.0,732.7 344.0,733.0 340.8,733.0 340.8,724.0M355.5,715.0 350.0,715.0 350.0,733.0 355.5,733.0M350.0,724.0 354.2,724.0M358.8,715.0 358.8,733.0 364.0,733.0" fill="none" stroke="#2e2e2e" stroke-width="1.5" stroke-linecap="round" stroke-linejoin="round"/>
<path d="M250.0,748.0 250.0,739.0 253.8,739.0 253.8,739.0 254.9,739.3 255.8,740.1 256.5,741.2 256.9,742.7 256.9,744.3 256.5,745.8 255.8,746.9 254.9,747.7 253.8,748.0 250.0,748.0M254.1,748.0 254.1,748.0 255.2,748.3 256.2,749.1 257.0,750.2 257.4,751.7 257.4,753.3 257.0,754.8 256.2,755.9 255.2,756.7 254.1,757.0 250.0,757.0 250.0,748.0M262.3,756.4 262.1,756.9 261.7,756.9 261.5,756.4 261.7,755.8 262.1,755.8 262.3,756.4M266.3,743.9 266.5,742.2 267.1,740.7 268.1,739.7 269.4,739.1 270.7,739.1 271.9,739.7 272.9,740.7 273.5,742.2 273.7,743.9 273.7,752.1 273.5,753.8 272.9,755.3 271.9,756.3 270.7,756.9 269.4,756.9 268.1,756.3 267.1,755.3 266.5,753.8 266.3,752.1 266.3,743.9M283.6,757.0 283.6,739.0 277.8,751.2 286.2,751.2M290.8,756.4 290.6,756.9 290.1,756.9 289.9,756.4 290.1,755.8 290.6,755.8 290.8,756.4M294.8,742.1 297.7,739.0 297.7,757.0M302.8,756.4 302.6,756.9 302.2,756.9 302.0,756.4 302.2,755.8 302.6,755.8 302.8,756.4M306.8,743.9 307.1,742.2 307.7,740.7 308.7,739.7 309.9,739.1 311.2,739.1 312.4,739.7 313.4,740.7 314.1,742.2 314.3,743.9 314.3,752.1 314.1,753.8 313.4,755.3 312.4,756.3 311.2,756.9 309.9,756.9 308.7,756.3 307.7,755.3 307.1,753.8 306.8,752.1 306.8,743.9M318.4,743.9 318.6,742.2 319.2,740.7 320.2,739.7 321.4,739.1 322.7,739.1 324.0,739.7 324.9,740.7 325.6,742.2 325.8,743.9 325.8,752.1 325.6,753.8 324.9,755.3 324.0,756.3 322.7,756.9 321.4,756.9 320.2,756.3 319.2,755.3 318.6,753.8 318.4,752.1 318.4,743.9M330.6,756.4 330.4,756.9 330.0,756.9 329.8,756.4 330.0,755.8 330.4,755.8 330.6,756.4M341.7,739.0 335.6,739.0 335.1,747.3 335.2,747.9 336.2,746.4 337.6,745.6 339.0,745.6 340.4,746.4 341.4,747.8 342.0,749.8 342.1,751.9 341.6,753.9 340.6,755.5 339.3,756.4 337.9,756.6 336.5,756.0 335.4,754.6M346.2,742.1 349.2,739.0 349.2,757.0M354.2,756.4 354.0,756.9 353.6,756.9 353.4,756.4 353.6,755.8 354.0,755.8 354.2,756.4M358.2,743.9 358.5,742.2 359.1,740.7 360.1,739.7 361.3,739.1 362.6,739.1 363.8,739.7 364.8,740.7 365.5,742.2 365.7,743.9 365.7,752.1 365.5,753.8 364.8,755.3 363.8,756.3 362.6,756.9 361.3,756.9 360.1,756.3 359.1,755.3 358.5,753.8 358.2,752.1 358.2,743.9" fill="none" stroke="#2e2e2e" stroke-width="1.5" stroke-linecap="round" stroke-linejoin="round"/>
<rect x="93.4" y="805" width="179.3" height="55.0" fill="none" stroke="#3a3a3a" stroke-width="1.6"/>
<line x1="144" y1="805" x2="144" y2="860" stroke="#3a3a3a" stroke-width="1.6"/>
<path d="M104.9,823.4 105.8,821.0 107.4,819.1 109.4,818.0 111.7,817.8 113.8,818.6 115.5,820.3 116.7,822.7 117.1,825.3 116.7,828.0 104.5,847.2 117.7,847.2M124.3,822.8 129.4,817.8 129.4,847.2" fill="none" stroke="#2e2e2e" stroke-width="1.6" stroke-linecap="round" stroke-linejoin="round"/>
<path d="M147.7,810.0 147.7,828.0M150.9,810.0 150.9,828.0 156.0,828.0M159.2,810.0 159.2,828.0 164.3,828.0M168.0,827.4 167.9,827.9 167.5,827.9 167.4,827.4 167.5,826.8 167.9,826.8 168.0,827.4M179.1,810.0 181.0,828.0 182.9,812.2 184.8,828.0 186.8,810.0M189.9,810.0 189.9,828.0M193.1,828.0 193.1,810.0 196.2,810.0 196.2,810.0 197.1,810.3 197.9,811.1 198.5,812.4 198.8,813.9 198.8,815.6 198.5,817.2 197.9,818.4 197.1,819.3 196.2,819.5 193.1,819.5M196.0,819.5 199.1,828.0M202.8,827.4 202.7,827.9 202.4,827.9 202.2,827.4 202.4,826.8 202.7,826.8 202.8,827.4M213.9,810.0 213.9,828.0 216.3,828.0 216.3,828.0 217.5,827.5 218.6,825.9 219.4,823.5 219.8,820.6 219.8,817.4 219.4,814.5 218.6,812.1 217.5,810.5 216.3,810.0 213.9,810.0M223.0,810.0 223.0,828.0M226.2,828.0 229.4,810.0 232.6,828.0M227.3,822.2 231.5,822.2M241.6,813.8 240.7,811.5 239.6,810.2 238.4,810.2 237.2,811.4 236.4,813.8 235.9,816.9 235.8,820.3 236.2,823.6 237.0,826.1 238.1,827.7 239.3,827.9 240.5,826.9 241.4,824.8 241.9,819.9 239.3,819.9M245.1,828.0 245.1,810.0 248.2,810.0 248.2,810.0 249.1,810.3 249.9,811.1 250.5,812.4 250.8,813.9 250.8,815.6 250.5,817.2 249.9,818.4 249.1,819.3 248.2,819.5 245.1,819.5M248.0,819.5 251.1,828.0M254.2,828.0 257.4,810.0 260.6,828.0M255.3,822.2 259.6,822.2M263.8,828.0 263.8,810.0 267.3,824.0 270.8,810.0 270.8,828.0" fill="none" stroke="#2e2e2e" stroke-width="1.5" stroke-linecap="round" stroke-linejoin="round"/>
<path d="M159.6,837.8 158.5,835.6 157.1,834.3 155.6,834.1 154.2,835.0 153.0,837.0 152.3,839.8 152.0,843.0 152.3,846.2 153.0,849.0 154.2,851.0 155.6,851.9 157.1,851.7 158.5,850.4 159.6,848.2M164.6,851.4 164.3,851.9 163.9,851.9 163.7,851.4 163.9,850.8 164.3,850.8 164.6,851.4M168.7,838.9 168.9,837.2 169.5,835.7 170.6,834.7 171.8,834.1 173.1,834.1 174.4,834.7 175.4,835.7 176.1,837.2 176.3,838.9 176.3,847.1 176.1,848.8 175.4,850.3 174.4,851.3 173.1,851.9 171.8,851.9 170.6,851.3 169.5,850.3 168.9,848.8 168.7,847.1 168.7,838.9M187.7,838.5 187.4,840.1 186.8,841.5 185.8,842.5 184.6,843.0 183.4,842.8 182.3,842.1 181.5,840.9 181.1,839.3 181.1,837.7 181.5,836.1 182.3,834.9 183.4,834.2 184.6,834.0 185.8,834.5 186.8,835.5 187.4,836.9 187.7,838.5M188.2,847.4 188.0,849.1 187.2,850.5 186.1,851.5 184.7,852.0 183.3,851.8 182.0,851.1 181.0,849.8 180.5,848.3 180.5,846.6 181.0,845.0 182.0,843.7 183.3,843.0 184.7,842.8 186.1,843.3 187.2,844.3 188.0,845.8 188.2,847.4M193.1,851.4 192.9,851.9 192.5,851.9 192.3,851.4 192.5,850.8 192.9,850.8 193.1,851.4M197.2,837.1 200.3,834.0 200.3,852.0M205.5,851.4 205.3,851.9 204.9,851.9 204.7,851.4 204.9,850.8 205.3,850.8 205.5,851.4M209.6,838.9 209.8,837.2 210.5,835.7 211.5,834.7 212.7,834.1 214.1,834.1 215.3,834.7 216.3,835.7 217.0,837.2 217.2,838.9 217.2,847.1 217.0,848.8 216.3,850.3 215.3,851.3 214.1,851.9 212.7,851.9 211.5,851.3 210.5,850.3 209.8,848.8 209.6,847.1 209.6,838.9M221.4,838.9 221.6,837.2 222.3,835.7 223.3,834.7 224.5,834.1 225.9,834.1 227.1,834.7 228.1,835.7 228.8,837.2 229.0,838.9 229.0,847.1 228.8,848.8 228.1,850.3 227.1,851.3 225.9,851.9 224.5,851.9 223.3,851.3 222.3,850.3 221.6,848.8 221.4,847.1 221.4,838.9M233.9,851.4 233.7,851.9 233.3,851.9 233.1,851.4 233.3,850.8 233.7,850.8 233.9,851.4M238.0,837.1 241.1,834.0 241.1,852.0M245.9,834.0 252.9,834.0 248.3,841.2 248.4,840.9 249.9,840.9 251.2,841.7 252.3,843.0 253.0,844.8 253.1,846.8 252.8,848.8 251.9,850.4 250.7,851.5 249.3,852.0 247.9,851.7 246.6,850.7 245.6,849.2M258.1,851.4 257.9,851.9 257.5,851.9 257.2,851.4 257.5,850.8 257.9,850.8 258.1,851.4M262.2,838.9 262.4,837.2 263.1,835.7 264.1,834.7 265.3,834.1 266.6,834.1 267.9,834.7 268.9,835.7 269.6,837.2 269.8,838.9 269.8,847.1 269.6,848.8 268.9,850.3 267.9,851.3 266.6,851.9 265.3,851.9 264.1,851.3 263.1,850.3 262.4,848.8 262.2,847.1 262.2,838.9" fill="none" stroke="#2e2e2e" stroke-width="1.5" stroke-linecap="round" stroke-linejoin="round"/>
<rect x="18.5" y="899.8" width="179.5" height="54.7" fill="none" stroke="#3a3a3a" stroke-width="1.6"/>
<line x1="70" y1="899.8" x2="70" y2="954.5" stroke="#3a3a3a" stroke-width="1.6"/>
<path d="M49.1,920.7 48.7,923.6 47.4,926.2 45.6,928.1 43.3,928.9 41.0,928.6 38.9,927.3 37.4,925.0 36.5,922.2 36.5,919.1 37.4,916.3 38.9,914.1 41.0,912.7 43.3,912.4 45.6,913.3 47.4,915.1 48.7,917.7 49.1,920.7 49.1,923.0 48.3,929.6 46.1,935.4 42.8,939.6 38.8,941.7" fill="none" stroke="#2e2e2e" stroke-width="1.6" stroke-linecap="round" stroke-linejoin="round"/>
<path d="M83.8,908.6 83.0,906.4 81.9,905.1 80.7,904.9 79.6,905.8 78.7,907.8 78.1,910.6 77.9,913.8 78.1,917.0 78.7,919.8 79.6,921.8 80.7,922.7 81.9,922.5 83.0,921.2 83.8,919.0M87.1,922.8 90.3,904.8 93.5,922.8M88.1,917.0 92.5,917.0M96.8,913.8 96.8,904.8 99.8,904.8 99.8,904.8 100.6,905.1 101.4,905.9 101.9,907.0 102.2,908.5 102.2,910.1 101.9,911.5 101.4,912.7 100.6,913.5 99.8,913.8 96.8,913.8M100.0,913.8 100.0,913.8 100.9,914.1 101.7,914.9 102.3,916.0 102.7,917.5 102.7,919.1 102.3,920.5 101.7,921.7 100.9,922.5 100.0,922.8 96.8,922.8 96.8,913.8M105.9,904.8 105.9,922.8M109.2,922.8 109.2,904.8 115.1,922.8 115.1,904.8M123.7,904.8 118.3,904.8 118.3,922.8 123.7,922.8M118.3,913.8 122.4,913.8M127.0,904.8 133.0,904.8M130.0,904.8 130.0,922.8M150.2,908.6 149.4,906.4 148.3,905.1 147.2,904.9 146.1,905.8 145.2,907.8 144.6,910.6 144.3,913.8 144.6,917.0 145.2,919.8 146.1,921.8 147.2,922.7 148.3,922.5 149.4,921.2 150.2,919.0M160.0,913.8 159.7,917.2 159.0,920.2 158.0,922.1 156.8,922.8 155.5,922.1 154.5,920.2 153.8,917.2 153.5,913.8 153.8,910.4 154.5,907.4 155.5,905.5 156.8,904.8 158.0,905.5 159.0,907.4 159.7,910.4 160.0,913.8M163.2,904.8 166.5,922.8 169.7,904.8M178.3,904.8 172.9,904.8 172.9,922.8 178.3,922.8M172.9,913.8 177.0,913.8M181.6,922.8 181.6,904.8 184.7,904.8 184.7,904.8 185.6,905.1 186.4,905.9 187.0,907.2 187.3,908.7 187.3,910.4 187.0,912.0 186.4,913.2 185.6,914.1 184.7,914.3 181.6,914.3M184.5,914.3 187.6,922.8" fill="none" stroke="#2e2e2e" stroke-width="1.5" stroke-linecap="round" stroke-linejoin="round"/>
<path d="M85.1,932.6 84.1,930.4 82.8,929.1 81.4,928.9 80.0,929.8 78.9,931.8 78.2,934.6 77.9,937.8 78.2,941.0 78.9,943.8 80.0,945.8 81.4,946.7 82.8,946.5 84.1,945.2 85.1,943.0M89.9,946.2 89.7,946.7 89.3,946.7 89.1,946.2 89.3,945.6 89.7,945.6 89.9,946.2M93.8,933.7 94.0,932.0 94.6,930.5 95.6,929.5 96.8,928.9 98.0,928.9 99.2,929.5 100.2,930.5 100.8,932.0 101.0,933.7 101.0,941.9 100.8,943.6 100.2,945.1 99.2,946.1 98.0,946.7 96.8,946.7 95.6,946.1 94.6,945.1 94.0,943.6 93.8,941.9 93.8,933.7M111.8,933.3 111.6,934.9 111.0,936.3 110.1,937.3 109.0,937.8 107.8,937.6 106.8,936.9 106.0,935.7 105.6,934.1 105.6,932.5 106.0,930.9 106.8,929.7 107.8,929.0 109.0,928.8 110.1,929.3 111.0,930.3 111.6,931.7 111.8,933.3M112.4,942.2 112.1,943.9 111.4,945.3 110.3,946.3 109.0,946.8 107.7,946.6 106.4,945.9 105.5,944.6 105.0,943.1 105.0,941.4 105.5,939.8 106.4,938.5 107.7,937.8 109.0,937.6 110.3,938.1 111.4,939.1 112.1,940.6 112.4,942.2M117.1,946.2 116.9,946.7 116.5,946.7 116.3,946.2 116.5,945.6 116.9,945.6 117.1,946.2M121.0,931.9 123.9,928.8 123.9,946.8M128.8,946.2 128.6,946.7 128.2,946.7 128.0,946.2 128.2,945.6 128.6,945.6 128.8,946.2M132.7,933.7 132.9,932.0 133.6,930.5 134.5,929.5 135.7,928.9 137.0,928.9 138.2,929.5 139.1,930.5 139.8,932.0 140.0,933.7 140.0,941.9 139.8,943.6 139.1,945.1 138.2,946.1 137.0,946.7 135.7,946.7 134.5,946.1 133.6,945.1 132.9,943.6 132.7,941.9 132.7,933.7M149.6,946.8 149.6,928.8 143.9,941.0 152.1,941.0M156.6,946.2 156.4,946.7 156.0,946.7 155.8,946.2 156.0,945.6 156.4,945.6 156.6,946.2M160.5,933.7 160.7,932.0 161.3,930.5 162.3,929.5 163.5,928.9 164.7,928.9 165.9,929.5 166.9,930.5 167.5,932.0 167.7,933.7 167.7,941.9 167.5,943.6 166.9,945.1 165.9,946.1 164.7,946.7 163.5,946.7 162.3,946.1 161.3,945.1 160.7,943.6 160.5,941.9 160.5,933.7M171.7,933.7 171.9,932.0 172.5,930.5 173.5,929.5 174.7,928.9 175.9,928.9 177.1,929.5 178.1,930.5 178.7,932.0 178.9,933.7 178.9,941.9 178.7,943.6 178.1,945.1 177.1,946.1 175.9,946.7 174.7,946.7 173.5,946.1 172.5,945.1 171.9,943.6 171.7,941.9 171.7,933.7M183.6,946.2 183.4,946.7 183.0,946.7 182.8,946.2 183.0,945.6 183.4,945.6 183.6,946.2M187.5,933.7 187.8,932.0 188.4,930.5 189.4,929.5 190.5,928.9 191.8,928.9 193.0,929.5 194.0,930.5 194.6,932.0 194.8,933.7 194.8,941.9 194.6,943.6 194.0,945.1 193.0,946.1 191.8,946.7 190.5,946.7 189.4,946.1 188.4,945.1 187.8,943.6 187.5,941.9 187.5,933.7" fill="none" stroke="#2e2e2e" stroke-width="1.5" stroke-linecap="round" stroke-linejoin="round"/>
<rect x="712.6" y="618.8" width="178.9" height="54.2" fill="none" stroke="#3a3a3a" stroke-width="1.6"/>
<line x1="763.7" y1="618.8" x2="763.7" y2="673" stroke="#3a3a3a" stroke-width="1.6"/>
<path d="M739.6,660.6 739.6,631.1 729.7,651.2 744.0,651.2" fill="none" stroke="#2e2e2e" stroke-width="1.6" stroke-linecap="round" stroke-linejoin="round"/>
<path d="M778.7,627.6 777.9,625.4 776.8,624.1 775.7,623.9 774.7,624.8 773.8,626.8 773.2,629.6 773.0,632.8 773.2,636.0 773.8,638.8 774.7,640.8 775.7,641.7 776.8,641.5 777.9,640.2 778.7,638.0M781.8,641.8 785.0,623.8 788.1,641.8M782.9,636.0 787.0,636.0M791.2,632.8 791.2,623.8 794.1,623.8 794.1,623.8 794.9,624.1 795.6,624.9 796.2,626.0 796.5,627.5 796.5,629.1 796.2,630.5 795.6,631.7 794.9,632.5 794.1,632.8 791.2,632.8M794.3,632.8 794.3,632.8 795.2,633.1 796.0,633.9 796.6,635.0 796.9,636.5 796.9,638.1 796.6,639.5 796.0,640.7 795.2,641.5 794.3,641.8 791.2,641.8 791.2,632.8M800.0,623.8 800.0,641.8M803.1,641.8 803.1,623.8 808.9,641.8 808.9,623.8M817.2,623.8 812.0,623.8 812.0,641.8 817.2,641.8M812.0,632.8 815.9,632.8M820.3,623.8 826.1,623.8M823.2,623.8 823.2,641.8M842.2,623.8 837.0,623.8 837.0,641.8M837.0,632.8 841.0,632.8M845.3,641.8 845.3,623.8 848.3,623.8 848.3,623.8 849.2,624.1 850.0,624.9 850.6,626.2 850.9,627.7 850.9,629.4 850.6,631.0 850.0,632.2 849.2,633.1 848.3,633.3 845.3,633.3M848.1,633.3 851.2,641.8M854.3,641.8 857.4,623.8 860.5,641.8M855.3,636.0 859.5,636.0M863.6,641.8 863.6,623.8 867.1,637.8 870.5,623.8 870.5,641.8M878.8,623.8 873.6,623.8 873.6,641.8 878.8,641.8M873.6,632.8 877.6,632.8" fill="none" stroke="#2e2e2e" stroke-width="1.5" stroke-linecap="round" stroke-linejoin="round"/>
<path d="M778.5,651.6 777.5,649.4 776.1,648.1 774.6,647.9 773.2,648.8 772.0,650.8 771.3,653.6 771.0,656.8 771.3,660.0 772.0,662.8 773.2,664.8 774.6,665.7 776.1,665.5 777.5,664.2 778.5,662.0M783.5,665.2 783.3,665.7 782.8,665.7 782.6,665.2 782.8,664.6 783.3,664.6 783.5,665.2M787.5,652.7 787.8,651.0 788.4,649.5 789.4,648.5 790.7,647.9 792.0,647.9 793.2,648.5 794.2,649.5 794.9,651.0 795.1,652.7 795.1,660.9 794.9,662.6 794.2,664.1 793.2,665.1 792.0,665.7 790.7,665.7 789.4,665.1 788.4,664.1 787.8,662.6 787.5,660.9 787.5,652.7M806.4,652.3 806.2,653.9 805.5,655.3 804.6,656.3 803.4,656.8 802.2,656.6 801.1,655.9 800.3,654.7 799.8,653.1 799.8,651.5 800.3,649.9 801.1,648.7 802.2,648.0 803.4,647.8 804.6,648.3 805.5,649.3 806.2,650.7 806.4,652.3M806.9,661.2 806.7,662.9 805.9,664.3 804.8,665.3 803.4,665.8 802.0,665.6 800.8,664.9 799.8,663.6 799.3,662.1 799.3,660.4 799.8,658.8 800.8,657.5 802.0,656.8 803.4,656.6 804.8,657.1 805.9,658.1 806.7,659.6 806.9,661.2M811.8,665.2 811.6,665.7 811.2,665.7 811.0,665.2 811.2,664.6 811.6,664.6 811.8,665.2M815.9,650.9 818.9,647.8 818.9,665.8M824.1,665.2 823.9,665.7 823.5,665.7 823.3,665.2 823.5,664.6 823.9,664.6 824.1,665.2M828.1,652.7 828.4,651.0 829.0,649.5 830.0,648.5 831.3,647.9 832.6,647.9 833.8,648.5 834.8,649.5 835.5,651.0 835.7,652.7 835.7,660.9 835.5,662.6 834.8,664.1 833.8,665.1 832.6,665.7 831.3,665.7 830.0,665.1 829.0,664.1 828.4,662.6 828.1,660.9 828.1,652.7M839.8,650.9 842.9,647.8 842.9,665.8M848.0,665.2 847.8,665.7 847.4,665.7 847.2,665.2 847.4,664.6 847.8,664.6 848.0,665.2M852.1,652.7 852.3,651.0 853.0,649.5 854.0,648.5 855.2,647.9 856.5,647.9 857.8,648.5 858.8,649.5 859.4,651.0 859.7,652.7 859.7,660.9 859.4,662.6 858.8,664.1 857.8,665.1 856.5,665.7 855.2,665.7 854.0,665.1 853.0,664.1 852.3,662.6 852.1,660.9 852.1,652.7M863.8,652.7 864.0,651.0 864.7,649.5 865.7,648.5 866.9,647.9 868.2,647.9 869.5,648.5 870.5,649.5 871.1,651.0 871.4,652.7 871.4,660.9 871.1,662.6 870.5,664.1 869.5,665.1 868.2,665.7 866.9,665.7 865.7,665.1 864.7,664.1 864.0,662.6 863.8,660.9 863.8,652.7M876.3,665.2 876.1,665.7 875.6,665.7 875.4,665.2 875.6,664.6 876.1,664.6 876.3,665.2M880.3,652.7 880.6,651.0 881.2,649.5 882.2,648.5 883.5,647.9 884.8,647.9 886.0,648.5 887.0,649.5 887.7,651.0 887.9,652.7 887.9,660.9 887.7,662.6 887.0,664.1 886.0,665.1 884.8,665.7 883.5,665.7 882.2,665.1 881.2,664.1 880.6,662.6 880.3,660.9 880.3,652.7" fill="none" stroke="#2e2e2e" stroke-width="1.5" stroke-linecap="round" stroke-linejoin="round"/>
<rect x="713" y="748.4" width="179.6" height="54.0" fill="none" stroke="#3a3a3a" stroke-width="1.6"/>
<line x1="765" y1="748.4" x2="765" y2="802.4" stroke="#3a3a3a" stroke-width="1.6"/>
<path d="M715.1,765.7 720.1,760.6 720.1,790.1M737.8,760.8 733.7,762.9 730.4,767.1 728.2,772.9 727.5,779.5 727.5,781.9 727.9,778.9 729.1,776.3 731.0,774.5 733.2,773.7 735.6,773.9 737.6,775.3 739.2,777.5 740.0,780.4 740.0,783.4 739.2,786.2 737.6,788.5 735.6,789.8 733.2,790.1 731.0,789.3 729.1,787.5 727.9,784.9 727.5,781.9M759.0,768.0 758.6,770.7 757.6,773.0 756.0,774.6 754.0,775.4 752.0,775.1 750.2,773.9 748.8,771.9 748.1,769.4 748.1,766.7 748.8,764.1 750.2,762.1 752.0,760.9 754.0,760.7 756.0,761.4 757.6,763.1 758.6,765.4 759.0,768.0M759.9,782.6 759.5,785.3 758.3,787.7 756.4,789.4 754.1,790.1 751.7,789.9 749.6,788.6 748.0,786.6 747.2,784.0 747.2,781.2 748.0,778.7 749.6,776.6 751.7,775.4 754.1,775.1 756.4,775.9 758.3,777.6 759.5,779.9 759.9,782.6" fill="none" stroke="#2e2e2e" stroke-width="1.6" stroke-linecap="round" stroke-linejoin="round"/>
<path d="M779.2,753.4 773.8,753.4 773.8,771.4M773.8,762.4 777.9,762.4M782.4,771.4 782.4,753.4 785.5,753.4 785.5,753.4 786.5,753.7 787.3,754.5 787.9,755.8 788.2,757.3 788.2,759.0 787.9,760.6 787.3,761.8 786.5,762.7 785.5,762.9 782.4,762.9M785.3,762.9 788.5,771.4M791.7,771.4 794.9,753.4 798.2,771.4M792.8,765.6 797.1,765.6M801.4,771.4 801.4,753.4 804.9,767.4 808.5,753.4 808.5,771.4M817.1,753.4 811.7,753.4 811.7,771.4 817.1,771.4M811.7,762.4 815.8,762.4M828.4,771.4 828.4,753.4 831.6,753.4 831.6,753.4 832.5,753.7 833.3,754.5 833.9,755.8 834.2,757.3 834.2,759.0 833.9,760.6 833.3,761.8 832.5,762.7 831.6,762.9 828.4,762.9M837.5,753.4 837.5,771.4 842.7,771.4M845.9,753.4 845.9,766.0 845.9,766.0 846.1,767.8 846.6,769.5 847.4,770.7 848.4,771.3 849.4,771.3 850.4,770.7 851.2,769.5 851.7,767.8 851.9,766.0 851.9,753.4M861.0,757.2 860.1,754.9 859.0,753.6 857.8,753.6 856.6,754.8 855.7,757.2 855.2,760.3 855.2,763.7 855.6,767.0 856.4,769.5 857.5,771.1 858.7,771.3 859.9,770.3 860.9,768.2 861.4,763.3 858.7,763.3" fill="none" stroke="#2e2e2e" stroke-width="1.5" stroke-linecap="round" stroke-linejoin="round"/>
<path d="M779.3,781.2 778.2,779.0 776.9,777.7 775.5,777.5 774.1,778.4 773.0,780.4 772.3,783.2 772.0,786.4 772.3,789.6 773.0,792.4 774.1,794.4 775.5,795.3 776.9,795.1 778.2,793.8 779.3,791.6M784.0,794.8 783.8,795.3 783.4,795.3 783.2,794.8 783.4,794.2 783.8,794.2 784.0,794.8M788.0,782.3 788.2,780.6 788.8,779.1 789.8,778.1 791.0,777.5 792.2,777.5 793.4,778.1 794.4,779.1 795.0,780.6 795.3,782.3 795.3,790.5 795.0,792.2 794.4,793.7 793.4,794.7 792.2,795.3 791.0,795.3 789.8,794.7 788.8,793.7 788.2,792.2 788.0,790.5 788.0,782.3M806.2,781.9 806.0,783.5 805.3,784.9 804.4,785.9 803.3,786.4 802.1,786.2 801.1,785.5 800.3,784.3 799.8,782.7 799.8,781.1 800.3,779.5 801.1,778.3 802.1,777.6 803.3,777.4 804.4,777.9 805.3,778.9 806.0,780.3 806.2,781.9M806.7,790.8 806.4,792.5 805.7,793.9 804.6,794.9 803.3,795.4 802.0,795.2 800.7,794.5 799.8,793.2 799.3,791.7 799.3,790.0 799.8,788.4 800.7,787.1 802.0,786.4 803.3,786.2 804.6,786.7 805.7,787.7 806.4,789.2 806.7,790.8M811.4,794.8 811.2,795.3 810.8,795.3 810.6,794.8 810.8,794.2 811.2,794.2 811.4,794.8M815.3,780.5 818.3,777.4 818.3,795.4M823.3,794.8 823.1,795.3 822.7,795.3 822.5,794.8 822.7,794.2 823.1,794.2 823.3,794.8M827.2,782.3 827.4,780.6 828.0,779.1 829.0,778.1 830.2,777.5 831.5,777.5 832.7,778.1 833.6,779.1 834.3,780.6 834.5,782.3 834.5,790.5 834.3,792.2 833.6,793.7 832.7,794.7 831.5,795.3 830.2,795.3 829.0,794.7 828.0,793.7 827.4,792.2 827.2,790.5 827.2,782.3M838.5,782.3 838.7,780.6 839.3,779.1 840.3,778.1 841.5,777.5 842.8,777.5 844.0,778.1 844.9,779.1 845.6,780.6 845.8,782.3 845.8,790.5 845.6,792.2 844.9,793.7 844.0,794.7 842.8,795.3 841.5,795.3 840.3,794.7 839.3,793.7 838.7,792.2 838.5,790.5 838.5,782.3M850.5,794.8 850.3,795.3 849.9,795.3 849.7,794.8 849.9,794.2 850.3,794.2 850.5,794.8M854.8,777.4 861.5,777.4 857.1,784.6 857.2,784.3 858.6,784.3 859.9,785.1 860.9,786.4 861.6,788.2 861.7,790.2 861.4,792.2 860.6,793.8 859.4,794.9 858.1,795.4 856.7,795.1 855.5,794.1 854.5,792.6M873.0,782.4 872.8,784.3 872.1,785.8 871.0,787.0 869.7,787.5 868.4,787.3 867.2,786.5 866.3,785.1 865.8,783.4 865.8,781.5 866.3,779.8 867.2,778.4 868.4,777.6 869.7,777.4 871.0,777.9 872.1,779.0 872.8,780.6 873.0,782.4 873.0,783.9 872.6,787.9 871.3,791.4 869.4,794.0 867.1,795.3M877.8,794.8 877.6,795.3 877.2,795.3 877.0,794.8 877.2,794.2 877.6,794.2 877.8,794.8M881.7,782.3 881.9,780.6 882.5,779.1 883.5,778.1 884.7,777.5 886.0,777.5 887.2,778.1 888.1,779.1 888.8,780.6 889.0,782.3 889.0,790.5 888.8,792.2 888.1,793.7 887.2,794.7 886.0,795.3 884.7,795.3 883.5,794.7 882.5,793.7 881.9,792.2 881.7,790.5 881.7,782.3" fill="none" stroke="#2e2e2e" stroke-width="1.5" stroke-linecap="round" stroke-linejoin="round"/>
<rect x="620" y="878.4" width="179.0" height="53.6" fill="none" stroke="#3a3a3a" stroke-width="1.6"/>
<line x1="671.7" y1="878.4" x2="671.7" y2="932" stroke="#3a3a3a" stroke-width="1.6"/>
<path d="M631.2,895.5 636.3,890.5 636.3,920.0M653.6,920.0 653.6,890.5 643.7,910.5 657.9,910.5" fill="none" stroke="#2e2e2e" stroke-width="1.6" stroke-linecap="round" stroke-linejoin="round"/>
<path d="M677.7,885.4 673.5,885.4 673.5,901.4M673.5,893.4 676.7,893.4M680.2,885.4 680.2,901.4 684.2,901.4M686.8,885.4 686.8,896.6 686.8,896.6 686.9,898.2 687.3,899.7 687.9,900.8 688.7,901.3 689.5,901.3 690.3,900.8 690.9,899.7 691.3,898.2 691.5,896.6 691.5,885.4M698.2,885.4 694.0,885.4 694.0,901.4 698.2,901.4M694.0,893.4 697.2,893.4M711.2,885.4 707.0,885.4 707.0,901.4 711.2,901.4M707.0,893.4 710.2,893.4M713.7,885.4 718.4,901.4M718.4,885.4 713.7,901.4M720.9,885.4 720.9,901.4M725.6,885.4 725.6,901.4M720.9,893.4 725.6,893.4M728.1,901.4 730.6,885.4 733.1,901.4M728.9,896.3 732.3,896.3M735.6,885.4 735.6,896.6 735.6,896.6 735.8,898.2 736.2,899.7 736.8,900.8 737.6,901.3 738.4,901.3 739.2,900.8 739.8,899.7 740.2,898.2 740.3,896.6 740.3,885.4M747.2,887.7 746.7,886.6 746.1,885.8 745.3,885.4 744.6,885.6 743.9,886.2 743.4,887.3 743.1,888.6 743.0,890.0 743.3,891.3 743.8,892.4 744.4,893.1 745.2,893.4 745.1,893.4 745.9,893.7 746.7,894.4 747.2,895.5 747.4,896.8 747.4,898.2 747.1,899.5 746.5,900.6 745.8,901.2 745.0,901.4 744.2,901.0 743.5,900.2 743.0,899.1M750.0,885.4 754.7,885.4M752.3,885.4 752.3,901.4M763.5,885.4 763.5,901.4 767.5,901.4M770.1,901.4 772.6,885.4 775.1,901.4M770.9,896.3 774.3,896.3M777.6,893.4 777.6,885.4 780.0,885.4 780.0,885.4 780.6,885.6 781.2,886.3 781.6,887.4 781.9,888.7 781.9,890.1 781.6,891.4 781.2,892.5 780.6,893.2 780.0,893.4 777.6,893.4M780.1,893.4 780.1,893.4 780.9,893.6 781.5,894.3 782.0,895.4 782.2,896.7 782.2,898.1 782.0,899.4 781.5,900.5 780.9,901.2 780.1,901.4 777.6,901.4 777.6,893.4M789.0,885.4 784.8,885.4 784.8,901.4 789.0,901.4M784.8,893.4 787.9,893.4M791.5,885.4 791.5,901.4 795.5,901.4" fill="none" stroke="#2e2e2e" stroke-width="1.5" stroke-linecap="round" stroke-linejoin="round"/>
<path d="M679.0,916.4 679.0,907.4 682.7,907.4 682.7,907.4 683.7,907.7 684.7,908.5 685.3,909.6 685.7,911.1 685.7,912.7 685.3,914.1 684.7,915.3 683.7,916.1 682.7,916.4 679.0,916.4M683.0,916.4 683.0,916.4 684.1,916.7 685.1,917.5 685.8,918.6 686.2,920.1 686.2,921.7 685.8,923.1 685.1,924.3 684.1,925.1 683.0,925.4 679.0,925.4 679.0,916.4M691.0,924.8 690.8,925.3 690.4,925.3 690.2,924.8 690.4,924.2 690.8,924.2 691.0,924.8M694.9,912.3 695.1,910.6 695.7,909.1 696.7,908.1 697.9,907.5 699.1,907.5 700.3,908.1 701.3,909.1 701.9,910.6 702.1,912.3 702.1,920.5 701.9,922.2 701.3,923.7 700.3,924.7 699.1,925.3 697.9,925.3 696.7,924.7 695.7,923.7 695.1,922.2 694.9,920.5 694.9,912.3M711.8,925.4 711.8,907.4 706.1,919.6 714.3,919.6M718.7,924.8 718.5,925.3 718.1,925.3 717.9,924.8 718.1,924.2 718.5,924.2 718.7,924.8M722.6,910.5 725.5,907.4 725.5,925.4M730.5,924.8 730.3,925.3 729.9,925.3 729.7,924.8 729.9,924.2 730.3,924.2 730.5,924.8M734.4,912.3 734.6,910.6 735.2,909.1 736.2,908.1 737.4,907.5 738.7,907.5 739.8,908.1 740.8,909.1 741.4,910.6 741.7,912.3 741.7,920.5 741.4,922.2 740.8,923.7 739.8,924.7 738.7,925.3 737.4,925.3 736.2,924.7 735.2,923.7 734.6,922.2 734.4,920.5 734.4,912.3M745.6,912.3 745.8,910.6 746.5,909.1 747.4,908.1 748.6,907.5 749.9,907.5 751.1,908.1 752.1,909.1 752.7,910.6 752.9,912.3 752.9,920.5 752.7,922.2 752.1,923.7 751.1,924.7 749.9,925.3 748.6,925.3 747.4,924.7 746.5,923.7 745.8,922.2 745.6,920.5 745.6,912.3M757.6,924.8 757.4,925.3 757.0,925.3 756.8,924.8 757.0,924.2 757.4,924.2 757.6,924.8M768.4,907.4 762.4,907.4 762.0,915.7 762.0,916.3 763.0,914.8 764.3,914.0 765.8,914.0 767.1,914.8 768.1,916.2 768.7,918.2 768.7,920.3 768.3,922.3 767.3,923.9 766.1,924.8 764.7,925.0 763.3,924.4 762.2,923.0M772.9,910.9 773.5,909.4 774.4,908.2 775.5,907.5 776.8,907.4 778.0,907.9 779.0,909.0 779.7,910.4 779.9,912.0 779.7,913.7 772.7,925.4 780.3,925.4M784.8,924.8 784.6,925.3 784.2,925.3 784.0,924.8 784.2,924.2 784.6,924.2 784.8,924.8M788.7,912.3 788.9,910.6 789.6,909.1 790.5,908.1 791.7,907.5 793.0,907.5 794.2,908.1 795.1,909.1 795.8,910.6 796.0,912.3 796.0,920.5 795.8,922.2 795.1,923.7 794.2,924.7 793.0,925.3 791.7,925.3 790.5,924.7 789.6,923.7 788.9,922.2 788.7,920.5 788.7,912.3" fill="none" stroke="#2e2e2e" stroke-width="1.5" stroke-linecap="round" stroke-linejoin="round"/>
<rect x="861.4" y="1001.5" width="178.6" height="53.5" fill="none" stroke="#3a3a3a" stroke-width="1.6"/>
<line x1="911.4" y1="1001.5" x2="911.4" y2="1055" stroke="#3a3a3a" stroke-width="1.6"/>
<path d="M890.4,1020.9 890.0,1023.5 889.0,1025.8 887.4,1027.5 885.4,1028.2 883.4,1028.0 881.6,1026.8 880.2,1024.8 879.5,1022.2 879.5,1019.5 880.2,1017.0 881.6,1015.0 883.4,1013.8 885.4,1013.5 887.4,1014.3 889.0,1015.9 890.0,1018.2 890.4,1020.9M891.3,1035.5 890.9,1038.2 889.7,1040.5 887.8,1042.2 885.5,1043.0 883.1,1042.7 881.0,1041.5 879.4,1039.4 878.6,1036.9 878.6,1034.1 879.4,1031.5 881.0,1029.5 883.1,1028.2 885.5,1028.0 887.8,1028.7 889.7,1030.4 890.9,1032.8 891.3,1035.5" fill="none" stroke="#2e2e2e" stroke-width="1.6" stroke-linecap="round" stroke-linejoin="round"/>
<path d="M920.3,1010.3 919.5,1008.1 918.4,1006.8 917.2,1006.6 916.1,1007.5 915.1,1009.5 914.5,1012.3 914.3,1015.5 914.5,1018.7 915.1,1021.5 916.1,1023.5 917.2,1024.4 918.4,1024.2 919.5,1022.9 920.3,1020.7M923.7,1024.5 927.0,1006.5 930.3,1024.5M924.8,1018.7 929.2,1018.7M933.6,1015.5 933.6,1006.5 936.7,1006.5 936.7,1006.5 937.5,1006.8 938.3,1007.6 938.9,1008.8 939.2,1010.2 939.2,1011.8 938.9,1013.2 938.3,1014.4 937.5,1015.2 936.7,1015.5 933.6,1015.5M936.9,1015.5 936.9,1015.5 937.8,1015.8 938.7,1016.6 939.3,1017.8 939.6,1019.2 939.6,1020.8 939.3,1022.2 938.7,1023.4 937.8,1024.2 936.9,1024.5 933.6,1024.5 933.6,1015.5M942.9,1006.5 942.9,1024.5M946.3,1024.5 946.3,1006.5 952.3,1024.5 952.3,1006.5M961.1,1006.5 955.6,1006.5 955.6,1024.5 961.1,1024.5M955.6,1015.5 959.8,1015.5M964.4,1006.5 970.6,1006.5M967.5,1006.5 967.5,1024.5M988.2,1010.3 987.3,1008.0 986.1,1006.7 984.9,1006.7 983.7,1007.9 982.8,1010.3 982.3,1013.4 982.2,1016.8 982.6,1020.1 983.5,1022.6 984.6,1024.2 985.8,1024.4 987.0,1023.4 988.0,1021.3 988.6,1016.4 985.8,1016.4M991.9,1024.5 995.2,1006.5 998.5,1024.5M993.0,1018.7 997.4,1018.7M1007.5,1009.1 1006.9,1007.8 1006.0,1006.9 1005.0,1006.5 1004.0,1006.7 1003.1,1007.4 1002.4,1008.6 1002.1,1010.1 1002.0,1011.7 1002.4,1013.2 1003.0,1014.4 1003.9,1015.2 1004.9,1015.5 1004.8,1015.5 1005.8,1015.8 1006.8,1016.6 1007.5,1017.8 1007.8,1019.3 1007.8,1020.9 1007.4,1022.4 1006.6,1023.6 1005.6,1024.3 1004.5,1024.5 1003.5,1024.1 1002.6,1023.2 1002.0,1021.9M1011.1,1006.5 1011.1,1024.5M1017.2,1006.5 1011.1,1018.0M1013.0,1014.4 1017.4,1024.5M1026.1,1006.5 1020.6,1006.5 1020.6,1024.5 1026.1,1024.5M1020.6,1015.5 1024.8,1015.5M1029.4,1006.5 1035.6,1006.5M1032.5,1006.5 1032.5,1024.5" fill="none" stroke="#2e2e2e" stroke-width="1.5" stroke-linecap="round" stroke-linejoin="round"/>
<path d="M925.9,1034.3 924.9,1032.1 923.6,1030.8 922.1,1030.6 920.7,1031.5 919.6,1033.5 918.9,1036.3 918.6,1039.5 918.9,1042.7 919.6,1045.5 920.7,1047.5 922.1,1048.4 923.6,1048.2 924.9,1046.9 925.9,1044.7M930.7,1047.9 930.5,1048.4 930.1,1048.4 929.9,1047.9 930.1,1047.3 930.5,1047.3 930.7,1047.9M934.6,1035.4 934.9,1033.7 935.5,1032.2 936.5,1031.2 937.7,1030.6 939.0,1030.6 940.2,1031.2 941.1,1032.2 941.8,1033.7 942.0,1035.4 942.0,1043.6 941.8,1045.3 941.1,1046.8 940.2,1047.8 939.0,1048.4 937.7,1048.4 936.5,1047.8 935.5,1046.8 934.9,1045.3 934.6,1043.6 934.6,1035.4M953.0,1035.0 952.8,1036.6 952.1,1038.0 951.2,1039.0 950.1,1039.5 948.9,1039.3 947.8,1038.6 947.0,1037.4 946.6,1035.8 946.6,1034.2 947.0,1032.6 947.8,1031.4 948.9,1030.7 950.1,1030.5 951.2,1031.0 952.1,1032.0 952.8,1033.4 953.0,1035.0M953.5,1043.9 953.3,1045.6 952.5,1047.0 951.4,1048.0 950.1,1048.5 948.7,1048.3 947.5,1047.6 946.6,1046.3 946.1,1044.8 946.1,1043.1 946.6,1041.5 947.5,1040.2 948.7,1039.5 950.1,1039.3 951.4,1039.8 952.5,1040.8 953.3,1042.3 953.5,1043.9M958.3,1047.9 958.1,1048.4 957.7,1048.4 957.5,1047.9 957.7,1047.3 958.1,1047.3 958.3,1047.9M962.2,1033.6 965.1,1030.5 965.1,1048.5M970.2,1047.9 970.0,1048.4 969.6,1048.4 969.4,1047.9 969.6,1047.3 970.0,1047.3 970.2,1047.9M974.1,1035.4 974.3,1033.7 975.0,1032.2 975.9,1031.2 977.1,1030.6 978.4,1030.6 979.6,1031.2 980.6,1032.2 981.2,1033.7 981.5,1035.4 981.5,1043.6 981.2,1045.3 980.6,1046.8 979.6,1047.8 978.4,1048.4 977.1,1048.4 975.9,1047.8 975.0,1046.8 974.3,1045.3 974.1,1043.6 974.1,1035.4M985.5,1035.4 985.7,1033.7 986.3,1032.2 987.3,1031.2 988.5,1030.6 989.8,1030.6 991.0,1031.2 992.0,1032.2 992.6,1033.7 992.8,1035.4 992.8,1043.6 992.6,1045.3 992.0,1046.8 991.0,1047.8 989.8,1048.4 988.5,1048.4 987.3,1047.8 986.3,1046.8 985.7,1045.3 985.5,1043.6 985.5,1035.4M997.6,1047.9 997.4,1048.4 997.0,1048.4 996.8,1047.9 997.0,1047.3 997.4,1047.3 997.6,1047.9M1001.5,1035.4 1001.7,1033.7 1002.4,1032.2 1003.4,1031.2 1004.6,1030.6 1005.8,1030.6 1007.0,1031.2 1008.0,1032.2 1008.7,1033.7 1008.9,1035.4 1008.9,1043.6 1008.7,1045.3 1008.0,1046.8 1007.0,1047.8 1005.8,1048.4 1004.6,1048.4 1003.4,1047.8 1002.4,1046.8 1001.7,1045.3 1001.5,1043.6 1001.5,1035.4M1013.3,1030.5 1020.0,1030.5 1015.6,1037.7 1015.7,1037.4 1017.1,1037.4 1018.4,1038.2 1019.4,1039.5 1020.1,1041.3 1020.2,1043.3 1019.9,1045.3 1019.1,1046.9 1017.9,1048.0 1016.5,1048.5 1015.2,1048.2 1013.9,1047.2 1013.0,1045.7M1025.0,1047.9 1024.8,1048.4 1024.4,1048.4 1024.2,1047.9 1024.4,1047.3 1024.8,1047.3 1025.0,1047.9M1028.9,1035.4 1029.2,1033.7 1029.8,1032.2 1030.8,1031.2 1032.0,1030.6 1033.3,1030.6 1034.5,1031.2 1035.4,1032.2 1036.1,1033.7 1036.3,1035.4 1036.3,1043.6 1036.1,1045.3 1035.4,1046.8 1034.5,1047.8 1033.3,1048.4 1032.0,1048.4 1030.8,1047.8 1029.8,1046.8 1029.2,1045.3 1028.9,1043.6 1028.9,1035.4" fill="none" stroke="#2e2e2e" stroke-width="1.5" stroke-linecap="round" stroke-linejoin="round"/>
<rect x="805.7" y="1094" width="178.9" height="54.0" fill="none" stroke="#3a3a3a" stroke-width="1.6"/>
<line x1="857" y1="1094" x2="857" y2="1148" stroke="#3a3a3a" stroke-width="1.6"/>
<path d="M817.3,1111.3 822.4,1106.2 822.4,1135.8M840.0,1106.4 836.0,1108.5 832.7,1112.7 830.5,1118.5 829.7,1125.1 829.7,1127.5 830.2,1124.5 831.4,1121.9 833.2,1120.1 835.5,1119.3 837.8,1119.5 839.9,1120.9 841.4,1123.1 842.3,1126.0 842.3,1129.0 841.4,1131.8 839.9,1134.1 837.8,1135.4 835.5,1135.7 833.2,1134.9 831.4,1133.1 830.2,1130.5 829.7,1127.5" fill="none" stroke="#2e2e2e" stroke-width="1.6" stroke-linecap="round" stroke-linejoin="round"/>
<path d="M858.9,1100.5 864.3,1100.5M861.6,1100.5 861.6,1117.0M872.0,1100.5 867.2,1100.5 867.2,1117.0 872.0,1117.0M867.2,1108.8 870.8,1108.8M879.8,1102.9 879.3,1101.7 878.6,1100.9 877.7,1100.5 876.8,1100.7 876.0,1101.3 875.4,1102.4 875.1,1103.8 875.1,1105.2 875.4,1106.6 875.9,1107.7 876.7,1108.5 877.6,1108.8 877.5,1108.8 878.4,1109.0 879.2,1109.8 879.8,1110.9 880.1,1112.3 880.1,1113.7 879.7,1115.1 879.1,1116.2 878.2,1116.8 877.3,1117.0 876.4,1116.6 875.6,1115.8 875.0,1114.6M883.0,1100.5 888.4,1100.5M885.7,1100.5 885.7,1117.0M898.5,1117.0 898.5,1100.5 901.3,1100.5 901.3,1100.5 902.1,1100.8 902.8,1101.5 903.4,1102.7 903.7,1104.1 903.7,1105.6 903.4,1107.1 902.8,1108.2 902.1,1109.0 901.3,1109.2 898.5,1109.2M912.4,1108.8 912.1,1111.9 911.5,1114.6 910.6,1116.4 909.5,1117.0 908.4,1116.4 907.4,1114.6 906.8,1111.9 906.6,1108.8 906.8,1105.6 907.4,1102.9 908.4,1101.1 909.5,1100.5 910.6,1101.1 911.5,1102.9 912.1,1105.6 912.4,1108.8M915.2,1100.5 915.2,1117.0M918.1,1117.0 918.1,1100.5 923.4,1117.0 923.4,1100.5M926.3,1100.5 931.7,1100.5M929.0,1100.5 929.0,1117.0M941.8,1100.5 941.8,1117.0 946.4,1117.0M949.3,1117.0 952.2,1100.5 955.0,1117.0M950.2,1111.7 954.1,1111.7M957.9,1108.8 957.9,1100.5 960.6,1100.5 960.6,1100.5 961.4,1100.7 962.0,1101.5 962.5,1102.6 962.8,1103.9 962.8,1105.3 962.5,1106.7 962.0,1107.8 961.4,1108.5 960.6,1108.8 957.9,1108.8M960.8,1108.8 960.8,1108.8 961.6,1109.0 962.4,1109.7 962.9,1110.8 963.2,1112.2 963.2,1113.6 962.9,1114.9 962.4,1116.0 961.6,1116.8 960.8,1117.0 957.9,1117.0 957.9,1108.8M970.9,1100.5 966.1,1100.5 966.1,1117.0 970.9,1117.0M966.1,1108.8 969.7,1108.8M973.8,1100.5 973.8,1117.0 978.4,1117.0" fill="none" stroke="#2e2e2e" stroke-width="1.5" stroke-linecap="round" stroke-linejoin="round"/>
<path d="M864.0,1132.0 864.0,1123.0 867.7,1123.0 867.7,1123.0 868.8,1123.3 869.7,1124.1 870.4,1125.2 870.8,1126.7 870.8,1128.3 870.4,1129.8 869.7,1130.9 868.8,1131.7 867.7,1132.0 864.0,1132.0M868.0,1132.0 868.0,1132.0 869.1,1132.3 870.1,1133.1 870.9,1134.2 871.3,1135.7 871.3,1137.3 870.9,1138.8 870.1,1139.9 869.1,1140.7 868.0,1141.0 864.0,1141.0 864.0,1132.0M876.1,1140.4 875.9,1140.9 875.5,1140.9 875.3,1140.4 875.5,1139.8 875.9,1139.8 876.1,1140.4M880.0,1127.9 880.2,1126.2 880.9,1124.7 881.8,1123.7 883.0,1123.1 884.3,1123.1 885.5,1123.7 886.5,1124.7 887.1,1126.2 887.3,1127.9 887.3,1136.1 887.1,1137.8 886.5,1139.3 885.5,1140.3 884.3,1140.9 883.0,1140.9 881.8,1140.3 880.9,1139.3 880.2,1137.8 880.0,1136.1 880.0,1127.9M897.1,1141.0 897.1,1123.0 891.3,1135.2 899.6,1135.2M904.1,1140.4 903.9,1140.9 903.5,1140.9 903.3,1140.4 903.5,1139.8 903.9,1139.8 904.1,1140.4M908.0,1126.1 910.9,1123.0 910.9,1141.0M915.9,1140.4 915.7,1140.9 915.3,1140.9 915.1,1140.4 915.3,1139.8 915.7,1139.8 915.9,1140.4M919.9,1127.9 920.1,1126.2 920.7,1124.7 921.7,1123.7 922.9,1123.1 924.2,1123.1 925.4,1123.7 926.3,1124.7 927.0,1126.2 927.2,1127.9 927.2,1136.1 927.0,1137.8 926.3,1139.3 925.4,1140.3 924.2,1140.9 922.9,1140.9 921.7,1140.3 920.7,1139.3 920.1,1137.8 919.9,1136.1 919.9,1127.9M931.2,1127.9 931.4,1126.2 932.1,1124.7 933.0,1123.7 934.2,1123.1 935.5,1123.1 936.7,1123.7 937.7,1124.7 938.3,1126.2 938.5,1127.9 938.5,1136.1 938.3,1137.8 937.7,1139.3 936.7,1140.3 935.5,1140.9 934.2,1140.9 933.0,1140.3 932.1,1139.3 931.4,1137.8 931.2,1136.1 931.2,1127.9M943.3,1140.4 943.1,1140.9 942.7,1140.9 942.5,1140.4 942.7,1139.8 943.1,1139.8 943.3,1140.4M954.1,1123.0 948.1,1123.0 947.7,1131.3 947.7,1131.9 948.8,1130.4 950.1,1129.6 951.5,1129.6 952.8,1130.4 953.8,1131.8 954.4,1133.8 954.5,1135.9 954.0,1137.9 953.1,1139.5 951.8,1140.4 950.4,1140.6 949.0,1140.0 947.9,1138.6M965.5,1127.5 965.3,1129.1 964.6,1130.5 963.7,1131.5 962.6,1132.0 961.4,1131.8 960.3,1131.1 959.5,1129.9 959.1,1128.3 959.1,1126.7 959.5,1125.1 960.3,1123.9 961.4,1123.2 962.6,1123.0 963.7,1123.5 964.6,1124.5 965.3,1125.9 965.5,1127.5M966.0,1136.4 965.7,1138.1 965.0,1139.5 963.9,1140.5 962.6,1141.0 961.2,1140.8 960.0,1140.1 959.1,1138.8 958.6,1137.3 958.6,1135.6 959.1,1134.0 960.0,1132.7 961.2,1132.0 962.6,1131.8 963.9,1132.3 965.0,1133.3 965.7,1134.8 966.0,1136.4M970.7,1140.4 970.5,1140.9 970.1,1140.9 969.9,1140.4 970.1,1139.8 970.5,1139.8 970.7,1140.4M974.7,1127.9 974.9,1126.2 975.5,1124.7 976.5,1123.7 977.7,1123.1 979.0,1123.1 980.2,1123.7 981.1,1124.7 981.8,1126.2 982.0,1127.9 982.0,1136.1 981.8,1137.8 981.1,1139.3 980.2,1140.3 979.0,1140.9 977.7,1140.9 976.5,1140.3 975.5,1139.3 974.9,1137.8 974.7,1136.1 974.7,1127.9" fill="none" stroke="#2e2e2e" stroke-width="1.5" stroke-linecap="round" stroke-linejoin="round"/>
<rect x="63.4" y="2240" width="178.6" height="55.7" fill="none" stroke="#3a3a3a" stroke-width="1.6"/>
<line x1="115" y1="2240" x2="115" y2="2295.7" stroke="#3a3a3a" stroke-width="1.6"/>
<path d="M75.2,2258.1 80.2,2253.1 80.2,2282.6M87.6,2261.1 88.0,2258.3 89.1,2255.9 90.7,2254.2 92.8,2253.2 95.0,2253.2 97.1,2254.2 98.8,2255.9 99.9,2258.3 100.2,2261.1 100.2,2274.6 99.9,2277.4 98.8,2279.8 97.1,2281.5 95.0,2282.5 92.8,2282.5 90.7,2281.5 89.1,2279.8 88.0,2277.4 87.6,2274.6 87.6,2261.1" fill="none" stroke="#2e2e2e" stroke-width="1.6" stroke-linecap="round" stroke-linejoin="round"/>
<path d="M125.5,2263.0 125.5,2245.0 128.7,2245.0 128.7,2245.0 129.7,2245.3 130.5,2246.1 131.2,2247.4 131.5,2248.9 131.5,2250.6 131.2,2252.2 130.5,2253.4 129.7,2254.3 128.7,2254.5 125.5,2254.5M134.9,2263.0 138.2,2245.0 141.6,2263.0M136.0,2257.2 140.4,2257.2M144.9,2263.0 144.9,2245.0 151.0,2263.0 151.0,2245.0M160.0,2245.0 154.4,2245.0 154.4,2263.0 160.0,2263.0M154.4,2254.0 158.6,2254.0M163.3,2245.0 163.3,2263.0 168.7,2263.0M186.5,2248.8 185.6,2246.5 184.4,2245.2 183.1,2245.2 181.9,2246.4 181.0,2248.8 180.5,2251.9 180.4,2255.3 180.9,2258.6 181.7,2261.1 182.8,2262.7 184.1,2262.9 185.3,2261.9 186.3,2259.8 186.9,2254.9 184.1,2254.9M190.2,2263.0 193.6,2245.0 196.9,2263.0M191.3,2257.2 195.8,2257.2M206.0,2247.6 205.4,2246.3 204.6,2245.4 203.6,2245.0 202.5,2245.2 201.6,2245.9 200.9,2247.1 200.5,2248.6 200.5,2250.2 200.8,2251.7 201.5,2252.9 202.4,2253.7 203.4,2254.0 203.3,2254.0 204.4,2254.3 205.3,2255.1 206.0,2256.3 206.4,2257.8 206.3,2259.4 205.9,2260.9 205.1,2262.1 204.2,2262.8 203.1,2263.0 202.0,2262.6 201.1,2261.7 200.4,2260.4M209.7,2245.0 209.7,2263.0M215.9,2245.0 209.7,2256.5M211.6,2252.9 216.1,2263.0M224.9,2245.0 219.3,2245.0 219.3,2263.0 224.9,2263.0M219.3,2254.0 223.6,2254.0M228.3,2245.0 234.5,2245.0M231.4,2245.0 231.4,2263.0" fill="none" stroke="#2e2e2e" stroke-width="1.5" stroke-linecap="round" stroke-linejoin="round"/>
<path d="M128.9,2272.8 127.9,2270.6 126.6,2269.3 125.2,2269.1 123.8,2270.0 122.7,2272.0 122.0,2274.8 121.7,2278.0 122.0,2281.2 122.7,2284.0 123.8,2286.0 125.2,2286.9 126.6,2286.7 127.9,2285.4 128.9,2283.2M133.7,2286.4 133.5,2286.9 133.1,2286.9 132.9,2286.4 133.1,2285.8 133.5,2285.8 133.7,2286.4M137.6,2273.9 137.8,2272.2 138.4,2270.7 139.4,2269.7 140.6,2269.1 141.8,2269.1 143.0,2269.7 144.0,2270.7 144.6,2272.2 144.8,2273.9 144.8,2282.1 144.6,2283.8 144.0,2285.3 143.0,2286.3 141.8,2286.9 140.6,2286.9 139.4,2286.3 138.4,2285.3 137.8,2283.8 137.6,2282.1 137.6,2273.9M155.7,2273.5 155.5,2275.1 154.8,2276.5 153.9,2277.5 152.8,2278.0 151.6,2277.8 150.6,2277.1 149.8,2275.9 149.4,2274.3 149.4,2272.7 149.8,2271.1 150.6,2269.9 151.6,2269.2 152.8,2269.0 153.9,2269.5 154.8,2270.5 155.5,2271.9 155.7,2273.5M156.2,2282.4 156.0,2284.1 155.2,2285.5 154.2,2286.5 152.8,2287.0 151.5,2286.8 150.3,2286.1 149.4,2284.8 148.9,2283.3 148.9,2281.6 149.4,2280.0 150.3,2278.7 151.5,2278.0 152.8,2277.8 154.2,2278.3 155.2,2279.3 156.0,2280.8 156.2,2282.4M160.9,2286.4 160.7,2286.9 160.3,2286.9 160.1,2286.4 160.3,2285.8 160.7,2285.8 160.9,2286.4M164.8,2272.1 167.7,2269.0 167.7,2287.0M172.7,2286.4 172.5,2286.9 172.1,2286.9 171.9,2286.4 172.1,2285.8 172.5,2285.8 172.7,2286.4M176.6,2273.9 176.8,2272.2 177.4,2270.7 178.4,2269.7 179.6,2269.1 180.8,2269.1 182.0,2269.7 183.0,2270.7 183.6,2272.2 183.8,2273.9 183.8,2282.1 183.6,2283.8 183.0,2285.3 182.0,2286.3 180.8,2286.9 179.6,2286.9 178.4,2286.3 177.4,2285.3 176.8,2283.8 176.6,2282.1 176.6,2273.9M187.8,2273.9 188.0,2272.2 188.7,2270.7 189.6,2269.7 190.8,2269.1 192.1,2269.1 193.3,2269.7 194.2,2270.7 194.9,2272.2 195.1,2273.9 195.1,2282.1 194.9,2283.8 194.2,2285.3 193.3,2286.3 192.1,2286.9 190.8,2286.9 189.6,2286.3 188.7,2285.3 188.0,2283.8 187.8,2282.1 187.8,2273.9M199.8,2286.4 199.6,2286.9 199.2,2286.9 199.0,2286.4 199.2,2285.8 199.6,2285.8 199.8,2286.4M203.7,2273.9 203.9,2272.2 204.5,2270.7 205.5,2269.7 206.7,2269.1 207.9,2269.1 209.1,2269.7 210.1,2270.7 210.7,2272.2 210.9,2273.9 210.9,2282.1 210.7,2283.8 210.1,2285.3 209.1,2286.3 207.9,2286.9 206.7,2286.9 205.5,2286.3 204.5,2285.3 203.9,2283.8 203.7,2282.1 203.7,2273.9M220.6,2287.0 220.6,2269.0 214.9,2281.2 223.1,2281.2M227.5,2286.4 227.3,2286.9 226.9,2286.9 226.7,2286.4 226.9,2285.8 227.3,2285.8 227.5,2286.4M231.4,2273.9 231.6,2272.2 232.3,2270.7 233.2,2269.7 234.4,2269.1 235.7,2269.1 236.9,2269.7 237.8,2270.7 238.5,2272.2 238.7,2273.9 238.7,2282.1 238.5,2283.8 237.8,2285.3 236.9,2286.3 235.7,2286.9 234.4,2286.9 233.2,2286.3 232.3,2285.3 231.6,2283.8 231.4,2282.1 231.4,2273.9" fill="none" stroke="#2e2e2e" stroke-width="1.5" stroke-linecap="round" stroke-linejoin="round"/>
<rect x="129.7" y="2319" width="178.7" height="55.0" fill="none" stroke="#3a3a3a" stroke-width="1.6"/>
<line x1="180.8" y1="2319" x2="180.8" y2="2374" stroke="#3a3a3a" stroke-width="1.6"/>
<path d="M141.1,2336.8 146.2,2331.8 146.2,2361.2M153.8,2337.4 154.8,2335.0 156.4,2333.1 158.4,2332.0 160.6,2331.8 162.7,2332.6 164.5,2334.3 165.6,2336.7 166.1,2339.3 165.7,2342.0 153.5,2361.2 166.6,2361.2" fill="none" stroke="#2e2e2e" stroke-width="1.6" stroke-linecap="round" stroke-linejoin="round"/>
<path d="M194.3,2342.0 194.3,2324.0 197.2,2324.0 197.2,2324.0 198.1,2324.3 198.8,2325.1 199.4,2326.4 199.7,2327.9 199.7,2329.6 199.4,2331.2 198.8,2332.4 198.1,2333.3 197.2,2333.5 194.3,2333.5M197.0,2333.5 199.9,2342.0M207.9,2324.0 202.9,2324.0 202.9,2342.0 207.9,2342.0M202.9,2333.0 206.7,2333.0M210.9,2324.0 216.5,2324.0M213.7,2324.0 213.7,2342.0M219.5,2324.0 219.5,2336.6 219.5,2336.6 219.6,2338.4 220.1,2340.1 220.9,2341.3 221.8,2341.9 222.8,2341.9 223.7,2341.3 224.4,2340.1 224.9,2338.4 225.1,2336.6 225.1,2324.0M228.1,2342.0 228.1,2324.0 231.0,2324.0 231.0,2324.0 231.8,2324.3 232.6,2325.1 233.1,2326.4 233.4,2327.9 233.4,2329.6 233.1,2331.2 232.6,2332.4 231.8,2333.3 231.0,2333.5 228.1,2333.5M230.8,2333.5 233.7,2342.0M236.7,2342.0 236.7,2324.0 242.2,2342.0 242.2,2324.0M252.6,2324.0 252.6,2342.0 257.4,2342.0M260.4,2342.0 263.4,2324.0 266.4,2342.0M261.4,2336.2 265.4,2336.2M269.4,2333.0 269.4,2324.0 272.2,2324.0 272.2,2324.0 273.0,2324.3 273.7,2325.1 274.2,2326.2 274.5,2327.7 274.5,2329.3 274.2,2330.8 273.7,2331.9 273.0,2332.7 272.2,2333.0 269.4,2333.0M272.4,2333.0 272.4,2333.0 273.3,2333.3 274.0,2334.1 274.6,2335.2 274.9,2336.7 274.9,2338.3 274.6,2339.8 274.0,2340.9 273.3,2341.7 272.4,2342.0 269.4,2342.0 269.4,2333.0M282.9,2324.0 277.9,2324.0 277.9,2342.0 282.9,2342.0M277.9,2333.0 281.7,2333.0M285.9,2324.0 285.9,2342.0 290.7,2342.0" fill="none" stroke="#2e2e2e" stroke-width="1.5" stroke-linecap="round" stroke-linejoin="round"/>
<path d="M188.0,2357.0 188.0,2348.0 191.7,2348.0 191.7,2348.0 192.7,2348.3 193.7,2349.1 194.3,2350.2 194.7,2351.7 194.7,2353.3 194.3,2354.8 193.7,2355.9 192.7,2356.7 191.7,2357.0 188.0,2357.0M192.0,2357.0 192.0,2357.0 193.1,2357.3 194.1,2358.1 194.8,2359.2 195.2,2360.7 195.2,2362.3 194.8,2363.8 194.1,2364.9 193.1,2365.7 192.0,2366.0 188.0,2366.0 188.0,2357.0M200.0,2365.4 199.8,2365.9 199.4,2365.9 199.2,2365.4 199.4,2364.8 199.8,2364.8 200.0,2365.4M204.3,2348.0 210.9,2348.0 206.5,2355.2 206.6,2354.9 208.0,2354.9 209.3,2355.7 210.3,2357.0 211.0,2358.8 211.1,2360.8 210.8,2362.8 210.0,2364.4 208.8,2365.5 207.5,2366.0 206.1,2365.7 204.9,2364.7 204.0,2363.2M220.8,2366.0 220.8,2348.0 215.1,2360.2 223.3,2360.2M227.7,2365.4 227.5,2365.9 227.1,2365.9 226.9,2365.4 227.1,2364.8 227.5,2364.8 227.7,2365.4M231.6,2351.1 234.5,2348.0 234.5,2366.0M239.5,2365.4 239.3,2365.9 238.9,2365.9 238.7,2365.4 238.9,2364.8 239.3,2364.8 239.5,2365.4M243.4,2352.9 243.6,2351.2 244.2,2349.7 245.2,2348.7 246.4,2348.1 247.7,2348.1 248.8,2348.7 249.8,2349.7 250.4,2351.2 250.7,2352.9 250.7,2361.1 250.4,2362.8 249.8,2364.3 248.8,2365.3 247.7,2365.9 246.4,2365.9 245.2,2365.3 244.2,2364.3 243.6,2362.8 243.4,2361.1 243.4,2352.9M254.6,2352.9 254.8,2351.2 255.5,2349.7 256.4,2348.7 257.6,2348.1 258.9,2348.1 260.1,2348.7 261.1,2349.7 261.7,2351.2 261.9,2352.9 261.9,2361.1 261.7,2362.8 261.1,2364.3 260.1,2365.3 258.9,2365.9 257.6,2365.9 256.4,2365.3 255.5,2364.3 254.8,2362.8 254.6,2361.1 254.6,2352.9M266.6,2365.4 266.4,2365.9 266.0,2365.9 265.8,2365.4 266.0,2364.8 266.4,2364.8 266.6,2365.4M270.5,2348.0 277.9,2348.0 272.7,2366.0M288.7,2348.0 282.8,2348.0 282.3,2356.3 282.4,2356.9 283.4,2355.4 284.7,2354.6 286.1,2354.6 287.4,2355.4 288.5,2356.8 289.0,2358.8 289.1,2360.9 288.6,2362.9 287.7,2364.5 286.4,2365.4 285.0,2365.6 283.7,2365.0 282.6,2363.6M293.8,2365.4 293.6,2365.9 293.2,2365.9 293.0,2365.4 293.2,2364.8 293.6,2364.8 293.8,2365.4M297.7,2352.9 297.9,2351.2 298.6,2349.7 299.5,2348.7 300.7,2348.1 302.0,2348.1 303.2,2348.7 304.1,2349.7 304.8,2351.2 305.0,2352.9 305.0,2361.1 304.8,2362.8 304.1,2364.3 303.2,2365.3 302.0,2365.9 300.7,2365.9 299.5,2365.3 298.6,2364.3 297.9,2362.8 297.7,2361.1 297.7,2352.9" fill="none" stroke="#2e2e2e" stroke-width="1.5" stroke-linecap="round" stroke-linejoin="round"/>
<rect x="191" y="2399" width="178.7" height="55.0" fill="none" stroke="#3a3a3a" stroke-width="1.6"/>
<line x1="243" y1="2399" x2="243" y2="2454" stroke="#3a3a3a" stroke-width="1.6"/>
<path d="M206.5,2416.8 211.6,2411.8 211.6,2441.2M219.0,2416.8 224.0,2411.8 224.0,2441.2" fill="none" stroke="#2e2e2e" stroke-width="1.6" stroke-linecap="round" stroke-linejoin="round"/>
<path d="M263.5,2404.0 257.7,2404.0 257.7,2422.0M257.7,2413.0 262.1,2413.0M266.9,2404.0 266.9,2422.0 272.5,2422.0M282.9,2413.0 282.6,2416.4 281.8,2419.4 280.7,2421.3 279.4,2422.0 278.1,2421.3 276.9,2419.4 276.2,2416.4 275.9,2413.0 276.2,2409.6 276.9,2406.6 278.1,2404.7 279.4,2404.0 280.7,2404.7 281.8,2406.6 282.6,2409.6 282.9,2413.0M286.3,2404.0 288.4,2422.0 290.5,2406.2 292.5,2422.0 294.6,2404.0M306.7,2404.0 306.7,2422.0 312.3,2422.0M315.7,2422.0 319.2,2404.0 322.7,2422.0M316.9,2416.2 321.5,2416.2M326.1,2413.0 326.1,2404.0 329.4,2404.0 329.4,2404.0 330.3,2404.3 331.1,2405.1 331.7,2406.2 332.0,2407.7 332.0,2409.3 331.7,2410.8 331.1,2411.9 330.3,2412.7 329.4,2413.0 326.1,2413.0M329.6,2413.0 329.6,2413.0 330.6,2413.3 331.4,2414.1 332.1,2415.2 332.4,2416.7 332.4,2418.3 332.1,2419.8 331.4,2420.9 330.6,2421.7 329.6,2422.0 326.1,2422.0 326.1,2413.0M341.7,2404.0 335.9,2404.0 335.9,2422.0 341.7,2422.0M335.9,2413.0 340.3,2413.0M345.2,2404.0 345.2,2422.0 350.7,2422.0" fill="none" stroke="#2e2e2e" stroke-width="1.5" stroke-linecap="round" stroke-linejoin="round"/>
<path d="M249.3,2437.0 249.3,2428.0 253.0,2428.0 253.0,2428.0 254.0,2428.3 254.9,2429.1 255.6,2430.2 256.0,2431.7 256.0,2433.3 255.6,2434.8 254.9,2435.9 254.0,2436.7 253.0,2437.0 249.3,2437.0M253.3,2437.0 253.3,2437.0 254.4,2437.3 255.4,2438.1 256.1,2439.2 256.5,2440.7 256.5,2442.3 256.1,2443.8 255.4,2444.9 254.4,2445.7 253.3,2446.0 249.3,2446.0 249.3,2437.0M261.2,2445.4 261.0,2445.9 260.6,2445.9 260.4,2445.4 260.6,2444.8 261.0,2444.8 261.2,2445.4M265.5,2428.0 272.1,2428.0 267.8,2435.2 267.9,2434.9 269.3,2434.9 270.6,2435.7 271.6,2437.0 272.2,2438.8 272.4,2440.8 272.0,2442.8 271.2,2444.4 270.1,2445.5 268.7,2446.0 267.4,2445.7 266.1,2444.7 265.2,2443.2M282.0,2446.0 282.0,2428.0 276.3,2440.2 284.5,2440.2M288.9,2445.4 288.7,2445.9 288.3,2445.9 288.1,2445.4 288.3,2444.8 288.7,2444.8 288.9,2445.4M292.8,2431.1 295.7,2428.0 295.7,2446.0M300.7,2445.4 300.5,2445.9 300.1,2445.9 299.9,2445.4 300.1,2444.8 300.5,2444.8 300.7,2445.4M304.6,2432.9 304.8,2431.2 305.4,2429.7 306.4,2428.7 307.6,2428.1 308.8,2428.1 310.0,2428.7 311.0,2429.7 311.6,2431.2 311.8,2432.9 311.8,2441.1 311.6,2442.8 311.0,2444.3 310.0,2445.3 308.8,2445.9 307.6,2445.9 306.4,2445.3 305.4,2444.3 304.8,2442.8 304.6,2441.1 304.6,2432.9M315.8,2432.9 316.0,2431.2 316.6,2429.7 317.6,2428.7 318.8,2428.1 320.0,2428.1 321.2,2428.7 322.2,2429.7 322.8,2431.2 323.0,2432.9 323.0,2441.1 322.8,2442.8 322.2,2444.3 321.2,2445.3 320.0,2445.9 318.8,2445.9 317.6,2445.3 316.6,2444.3 316.0,2442.8 315.8,2441.1 315.8,2432.9M327.7,2445.4 327.5,2445.9 327.1,2445.9 326.9,2445.4 327.1,2444.8 327.5,2444.8 327.7,2445.4M331.6,2428.0 339.0,2428.0 333.9,2446.0M348.6,2446.0 348.6,2428.0 343.0,2440.2 351.1,2440.2M355.6,2445.4 355.4,2445.9 355.0,2445.9 354.8,2445.4 355.0,2444.8 355.4,2444.8 355.6,2445.4M359.4,2432.9 359.7,2431.2 360.3,2429.7 361.3,2428.7 362.4,2428.1 363.7,2428.1 364.9,2428.7 365.9,2429.7 366.5,2431.2 366.7,2432.9 366.7,2441.1 366.5,2442.8 365.9,2444.3 364.9,2445.3 363.7,2445.9 362.4,2445.9 361.3,2445.3 360.3,2444.3 359.7,2442.8 359.4,2441.1 359.4,2432.9" fill="none" stroke="#2e2e2e" stroke-width="1.5" stroke-linecap="round" stroke-linejoin="round"/>
<rect x="813" y="2428.7" width="187.5" height="50.3" fill="none" stroke="#3a3a3a" stroke-width="1.6"/>
<line x1="864" y1="2428.7" x2="864" y2="2479" stroke="#3a3a3a" stroke-width="1.6"/>
<path d="M824.5,2444.1 829.5,2439.1 829.5,2468.6M848.9,2439.1 838.5,2439.1 837.7,2452.7 837.8,2453.6 839.6,2451.2 841.9,2449.9 844.3,2449.9 846.6,2451.2 848.4,2453.6 849.4,2456.7 849.5,2460.2 848.7,2463.5 847.0,2466.1 844.8,2467.7 842.4,2468.0 840.1,2466.9 838.2,2464.7" fill="none" stroke="#2e2e2e" stroke-width="1.6" stroke-linecap="round" stroke-linejoin="round"/>
<path d="M875.5,2435.7 877.4,2451.7 879.3,2437.6 881.3,2451.7 883.2,2435.7M886.4,2451.7 889.6,2435.7 892.8,2451.7M887.4,2446.6 891.7,2446.6M896.0,2451.7 896.0,2435.7 899.1,2435.7 899.1,2435.7 900.0,2436.0 900.8,2436.7 901.4,2437.8 901.7,2439.2 901.7,2440.7 901.4,2442.1 900.8,2443.2 900.0,2443.9 899.1,2444.2 896.0,2444.2M898.9,2444.2 902.0,2451.7M905.1,2451.7 905.1,2435.7 911.0,2451.7 911.0,2435.7M914.2,2435.7 914.2,2451.7M917.4,2451.7 917.4,2435.7 923.3,2451.7 923.3,2435.7M932.3,2439.1 931.4,2437.0 930.3,2435.9 929.1,2435.8 928.0,2437.0 927.1,2439.1 926.6,2441.8 926.5,2444.9 926.9,2447.7 927.7,2450.0 928.8,2451.4 930.0,2451.7 931.2,2450.8 932.1,2448.8 932.7,2444.5 930.0,2444.5M943.9,2435.7 943.9,2451.7 949.0,2451.7M952.2,2451.7 955.4,2435.7 958.6,2451.7M953.3,2446.6 957.5,2446.6M961.8,2443.7 961.8,2435.7 964.8,2435.7 964.8,2435.7 965.6,2435.9 966.3,2436.6 966.9,2437.7 967.2,2439.0 967.2,2440.4 966.9,2441.7 966.3,2442.8 965.6,2443.5 964.8,2443.7 961.8,2443.7M965.0,2443.7 965.0,2443.7 965.9,2443.9 966.7,2444.6 967.3,2445.7 967.6,2447.0 967.6,2448.4 967.3,2449.7 966.7,2450.8 965.9,2451.5 965.0,2451.7 961.8,2451.7 961.8,2443.7M976.2,2435.7 970.8,2435.7 970.8,2451.7 976.2,2451.7M970.8,2443.7 974.9,2443.7M979.4,2435.7 979.4,2451.7 984.5,2451.7" fill="none" stroke="#2e2e2e" stroke-width="1.5" stroke-linecap="round" stroke-linejoin="round"/>
<path d="M878.0,2461.5 876.9,2459.3 875.5,2458.0 874.0,2457.8 872.6,2458.7 871.4,2460.7 870.7,2463.5 870.4,2466.7 870.7,2469.9 871.4,2472.7 872.6,2474.7 874.0,2475.6 875.5,2475.4 876.9,2474.1 878.0,2471.9M883.0,2475.1 882.8,2475.6 882.3,2475.6 882.1,2475.1 882.3,2474.5 882.8,2474.5 883.0,2475.1M887.1,2460.8 890.1,2457.7 890.1,2475.7M894.6,2462.6 894.8,2460.9 895.4,2459.4 896.5,2458.4 897.7,2457.8 899.0,2457.8 900.3,2458.4 901.3,2459.4 902.0,2460.9 902.2,2462.6 902.2,2470.8 902.0,2472.5 901.3,2474.0 900.3,2475.0 899.0,2475.6 897.7,2475.6 896.5,2475.0 895.4,2474.0 894.8,2472.5 894.6,2470.8 894.6,2462.6M913.9,2461.5 912.9,2459.3 911.5,2458.0 910.0,2457.8 908.6,2458.7 907.4,2460.7 906.6,2463.5 906.4,2466.7 906.6,2469.9 907.4,2472.7 908.6,2474.7 910.0,2475.6 911.5,2475.4 912.9,2474.1 913.9,2471.9M918.9,2475.1 918.7,2475.6 918.3,2475.6 918.1,2475.1 918.3,2474.5 918.7,2474.5 918.9,2475.1M923.0,2460.8 926.1,2457.7 926.1,2475.7M931.3,2475.1 931.1,2475.6 930.6,2475.6 930.4,2475.1 930.6,2474.5 931.1,2474.5 931.3,2475.1M935.4,2462.6 935.6,2460.9 936.3,2459.4 937.3,2458.4 938.5,2457.8 939.8,2457.8 941.1,2458.4 942.1,2459.4 942.8,2460.9 943.0,2462.6 943.0,2470.8 942.8,2472.5 942.1,2474.0 941.1,2475.0 939.8,2475.6 938.5,2475.6 937.3,2475.0 936.3,2474.0 935.6,2472.5 935.4,2470.8 935.4,2462.6M947.2,2462.6 947.4,2460.9 948.1,2459.4 949.1,2458.4 950.3,2457.8 951.6,2457.8 952.9,2458.4 953.9,2459.4 954.6,2460.9 954.8,2462.6 954.8,2470.8 954.6,2472.5 953.9,2474.0 952.9,2475.0 951.6,2475.6 950.3,2475.6 949.1,2475.0 948.1,2474.0 947.4,2472.5 947.2,2470.8 947.2,2462.6M959.7,2475.1 959.5,2475.6 959.1,2475.6 958.9,2475.1 959.1,2474.5 959.5,2474.5 959.7,2475.1M969.8,2475.7 969.8,2457.7 963.8,2469.9 972.4,2469.9M982.3,2475.7 982.3,2457.7 976.3,2469.9 984.9,2469.9M989.6,2475.1 989.4,2475.6 988.9,2475.6 988.7,2475.1 988.9,2474.5 989.4,2474.5 989.6,2475.1M993.7,2460.8 996.7,2457.7 996.7,2475.7" fill="none" stroke="#2e2e2e" stroke-width="1.5" stroke-linecap="round" stroke-linejoin="round"/>
<rect x="1051" y="2267" width="179.0" height="75.0" fill="none" stroke="#3a3a3a" stroke-width="1.6"/>
<line x1="1101.5" y1="2267" x2="1101.5" y2="2342" stroke="#3a3a3a" stroke-width="1.6"/>
<path d="M1053.0,2294.3 1057.9,2289.0 1057.9,2320.0M1065.0,2289.0 1077.4,2289.0 1068.8,2320.0M1084.4,2295.0 1085.3,2292.4 1086.8,2290.4 1088.8,2289.2 1090.9,2289.1 1093.0,2289.9 1094.7,2291.7 1095.8,2294.2 1096.2,2297.0 1095.8,2299.8 1084.1,2320.0 1096.7,2320.0" fill="none" stroke="#2e2e2e" stroke-width="1.6" stroke-linecap="round" stroke-linejoin="round"/>
<path d="M1122.3,2276.9 1121.4,2274.8 1120.3,2273.7 1119.0,2273.6 1117.8,2274.8 1116.9,2276.9 1116.4,2279.6 1116.3,2282.7 1116.8,2285.5 1117.6,2287.8 1118.7,2289.2 1120.0,2289.5 1121.2,2288.6 1122.2,2286.6 1122.7,2282.3 1120.0,2282.3M1132.1,2276.9 1131.2,2274.9 1130.2,2273.7 1129.0,2273.6 1127.8,2274.4 1126.9,2276.2 1126.3,2278.7 1126.1,2281.5 1126.3,2284.3 1126.9,2286.8 1127.8,2288.6 1129.0,2289.4 1130.2,2289.3 1131.2,2288.1 1132.1,2286.1M1135.5,2289.5 1139.9,2273.5M1148.9,2275.8 1148.4,2274.7 1147.5,2273.9 1146.5,2273.5 1145.5,2273.7 1144.6,2274.3 1143.9,2275.4 1143.5,2276.7 1143.5,2278.1 1143.8,2279.4 1144.4,2280.5 1145.3,2281.2 1146.3,2281.5 1146.2,2281.5 1147.3,2281.8 1148.2,2282.5 1148.9,2283.6 1149.3,2284.9 1149.3,2286.3 1148.8,2287.6 1148.1,2288.7 1147.1,2289.3 1146.0,2289.5 1145.0,2289.1 1144.0,2288.3 1143.4,2287.2M1152.6,2289.5 1152.6,2273.5 1158.7,2289.5 1158.7,2273.5M1170.4,2273.5 1170.4,2289.5 1175.7,2289.5M1179.0,2289.5 1182.3,2273.5 1185.7,2289.5M1180.1,2284.4 1184.6,2284.4M1189.0,2281.5 1189.0,2273.5 1192.1,2273.5 1192.1,2273.5 1193.0,2273.7 1193.7,2274.4 1194.3,2275.5 1194.6,2276.8 1194.6,2278.2 1194.3,2279.5 1193.7,2280.6 1193.0,2281.3 1192.1,2281.5 1189.0,2281.5M1192.3,2281.5 1192.3,2281.5 1193.3,2281.7 1194.1,2282.4 1194.7,2283.5 1195.0,2284.8 1195.0,2286.2 1194.7,2287.5 1194.1,2288.6 1193.3,2289.3 1192.3,2289.5 1189.0,2289.5 1189.0,2281.5M1204.0,2273.5 1198.4,2273.5 1198.4,2289.5 1204.0,2289.5M1198.4,2281.5 1202.6,2281.5M1207.3,2273.5 1207.3,2289.5 1212.6,2289.5" fill="none" stroke="#2e2e2e" stroke-width="1.5" stroke-linecap="round" stroke-linejoin="round"/>
<path d="M1108.9,2299.8 1108.2,2297.8 1107.2,2296.6 1106.2,2296.4 1105.2,2297.3 1104.3,2299.1 1103.8,2301.5 1103.6,2304.4 1103.8,2307.2 1104.3,2309.7 1105.2,2311.4 1106.2,2312.3 1107.2,2312.2 1108.2,2311.0 1108.9,2309.0M1112.5,2311.8 1112.3,2312.3 1112.0,2312.3 1111.9,2311.8 1112.0,2311.3 1112.3,2311.3 1112.5,2311.8M1115.4,2300.7 1115.5,2299.2 1116.0,2297.9 1116.7,2297.0 1117.6,2296.4 1118.5,2296.4 1119.4,2297.0 1120.1,2297.9 1120.6,2299.2 1120.7,2300.7 1120.7,2308.1 1120.6,2309.5 1120.1,2310.8 1119.4,2311.8 1118.5,2312.3 1117.6,2312.3 1116.7,2311.8 1116.0,2310.8 1115.5,2309.5 1115.4,2308.1 1115.4,2300.7M1128.8,2300.4 1128.6,2301.8 1128.2,2303.1 1127.5,2304.0 1126.6,2304.4 1125.8,2304.2 1125.0,2303.6 1124.4,2302.5 1124.1,2301.1 1124.1,2299.6 1124.4,2298.3 1125.0,2297.2 1125.8,2296.5 1126.6,2296.4 1127.5,2296.8 1128.2,2297.7 1128.6,2298.9 1128.8,2300.4M1129.2,2308.3 1129.0,2309.8 1128.4,2311.0 1127.6,2311.9 1126.7,2312.4 1125.7,2312.2 1124.8,2311.6 1124.1,2310.4 1123.7,2309.0 1123.7,2307.5 1124.1,2306.1 1124.8,2305.0 1125.7,2304.4 1126.7,2304.2 1127.6,2304.6 1128.4,2305.5 1129.0,2306.8 1129.2,2308.3M1132.6,2311.8 1132.5,2312.3 1132.2,2312.3 1132.1,2311.8 1132.2,2311.3 1132.5,2311.3 1132.6,2311.8M1135.5,2299.1 1137.7,2296.4 1137.7,2312.4M1141.4,2311.8 1141.2,2312.3 1140.9,2312.3 1140.8,2311.8 1140.9,2311.3 1141.2,2311.3 1141.4,2311.8M1144.2,2300.7 1144.4,2299.2 1144.9,2297.9 1145.6,2297.0 1146.5,2296.4 1147.4,2296.4 1148.3,2297.0 1149.0,2297.9 1149.5,2299.2 1149.6,2300.7 1149.6,2308.1 1149.5,2309.5 1149.0,2310.8 1148.3,2311.8 1147.4,2312.3 1146.5,2312.3 1145.6,2311.8 1144.9,2310.8 1144.4,2309.5 1144.2,2308.1 1144.2,2300.7M1152.6,2300.7 1152.7,2299.2 1153.2,2297.9 1153.9,2297.0 1154.8,2296.4 1155.7,2296.4 1156.6,2297.0 1157.3,2297.9 1157.8,2299.2 1158.0,2300.7 1158.0,2308.1 1157.8,2309.5 1157.3,2310.8 1156.6,2311.8 1155.7,2312.3 1154.8,2312.3 1153.9,2311.8 1153.2,2310.8 1152.7,2309.5 1152.6,2308.1 1152.6,2300.7M1161.4,2311.8 1161.3,2312.3 1161.0,2312.3 1160.8,2311.8 1161.0,2311.3 1161.3,2311.3 1161.4,2311.8M1168.5,2312.4 1168.5,2296.4 1164.3,2307.3 1170.4,2307.3M1173.1,2299.1 1175.3,2296.4 1175.3,2312.4M1179.0,2311.8 1178.8,2312.3 1178.5,2312.3 1178.4,2311.8 1178.5,2311.3 1178.8,2311.3 1179.0,2311.8M1181.9,2300.7 1182.0,2299.2 1182.5,2297.9 1183.2,2297.0 1184.1,2296.4 1185.0,2296.4 1185.9,2297.0 1186.6,2297.9 1187.1,2299.2 1187.2,2300.7 1187.2,2308.1 1187.1,2309.5 1186.6,2310.8 1185.9,2311.8 1185.0,2312.3 1184.1,2312.3 1183.2,2311.8 1182.5,2310.8 1182.0,2309.5 1181.9,2308.1 1181.9,2300.7M1190.2,2305.3 1193.9,2305.3M1196.8,2296.4 1196.8,2312.4M1202.2,2296.4 1196.8,2306.6M1198.5,2303.4 1202.4,2312.4M1210.6,2299.8 1209.9,2297.8 1208.9,2296.6 1207.8,2296.4 1206.8,2297.3 1206.0,2299.1 1205.5,2301.5 1205.3,2304.4 1205.5,2307.2 1206.0,2309.7 1206.8,2311.4 1207.8,2312.3 1208.9,2312.2 1209.9,2311.0 1210.6,2309.0M1213.7,2299.5 1214.1,2298.1 1214.8,2297.1 1215.7,2296.5 1216.6,2296.4 1217.5,2296.9 1218.3,2297.8 1218.8,2299.0 1218.9,2300.5 1218.8,2302.0 1213.6,2312.4 1219.2,2312.4M1227.1,2296.4 1222.7,2296.4 1222.4,2303.7 1222.4,2304.3 1223.2,2302.9 1224.1,2302.2 1225.2,2302.2 1226.1,2302.9 1226.9,2304.2 1227.3,2305.9 1227.4,2307.8 1227.0,2309.6 1226.3,2311.0 1225.4,2311.9 1224.4,2312.0 1223.4,2311.5 1222.6,2310.3" fill="none" stroke="#2e2e2e" stroke-width="1.5" stroke-linecap="round" stroke-linejoin="round"/>
<path d="M1107.8,2322.3 1107.1,2320.3 1106.2,2319.1 1105.2,2318.9 1104.3,2319.8 1103.5,2321.6 1103.0,2324.0 1102.8,2326.9 1103.0,2329.7 1103.5,2332.2 1104.3,2333.9 1105.2,2334.8 1106.2,2334.7 1107.1,2333.5 1107.8,2331.5M1111.1,2334.3 1111.0,2334.8 1110.7,2334.8 1110.6,2334.3 1110.7,2333.8 1111.0,2333.8 1111.1,2334.3M1113.8,2323.2 1114.0,2321.7 1114.4,2320.4 1115.1,2319.5 1115.9,2318.9 1116.8,2318.9 1117.6,2319.5 1118.3,2320.4 1118.7,2321.7 1118.9,2323.2 1118.9,2330.6 1118.7,2332.0 1118.3,2333.3 1117.6,2334.3 1116.8,2334.8 1115.9,2334.8 1115.1,2334.3 1114.4,2333.3 1114.0,2332.0 1113.8,2330.6 1113.8,2323.2M1126.4,2322.9 1126.2,2324.3 1125.8,2325.6 1125.2,2326.5 1124.4,2326.9 1123.6,2326.7 1122.9,2326.1 1122.3,2325.0 1122.0,2323.6 1122.0,2322.1 1122.3,2320.8 1122.9,2319.7 1123.6,2319.0 1124.4,2318.9 1125.2,2319.3 1125.8,2320.2 1126.2,2321.4 1126.4,2322.9M1126.8,2330.8 1126.6,2332.3 1126.1,2333.5 1125.3,2334.4 1124.4,2334.9 1123.5,2334.7 1122.6,2334.1 1122.0,2332.9 1121.7,2331.5 1121.7,2330.0 1122.0,2328.6 1122.6,2327.5 1123.5,2326.9 1124.4,2326.7 1125.3,2327.1 1126.1,2328.0 1126.6,2329.3 1126.8,2330.8M1130.0,2334.3 1129.9,2334.8 1129.6,2334.8 1129.5,2334.3 1129.6,2333.8 1129.9,2333.8 1130.0,2334.3M1132.7,2321.6 1134.8,2318.9 1134.8,2334.9M1138.2,2334.3 1138.1,2334.8 1137.8,2334.8 1137.6,2334.3 1137.8,2333.8 1138.1,2333.8 1138.2,2334.3M1140.9,2323.2 1141.1,2321.7 1141.5,2320.4 1142.2,2319.5 1143.0,2318.9 1143.9,2318.9 1144.7,2319.5 1145.4,2320.4 1145.8,2321.7 1146.0,2323.2 1146.0,2330.6 1145.8,2332.0 1145.4,2333.3 1144.7,2334.3 1143.9,2334.8 1143.0,2334.8 1142.2,2334.3 1141.5,2333.3 1141.1,2332.0 1140.9,2330.6 1140.9,2323.2M1148.7,2323.2 1148.9,2321.7 1149.3,2320.4 1150.0,2319.5 1150.8,2318.9 1151.7,2318.9 1152.5,2319.5 1153.2,2320.4 1153.6,2321.7 1153.8,2323.2 1153.8,2330.6 1153.6,2332.0 1153.2,2333.3 1152.5,2334.3 1151.7,2334.8 1150.8,2334.8 1150.0,2334.3 1149.3,2333.3 1148.9,2332.0 1148.7,2330.6 1148.7,2323.2M1157.0,2334.3 1156.9,2334.8 1156.6,2334.8 1156.5,2334.3 1156.6,2333.8 1156.9,2333.8 1157.0,2334.3M1163.7,2334.9 1163.7,2318.9 1159.7,2329.8 1165.4,2329.8M1168.1,2322.0 1168.5,2320.6 1169.1,2319.6 1169.9,2319.0 1170.8,2318.9 1171.7,2319.4 1172.4,2320.3 1172.8,2321.5 1173.0,2323.0 1172.8,2324.5 1168.0,2334.9 1173.2,2334.9M1176.4,2334.3 1176.2,2334.8 1176.0,2334.8 1175.8,2334.3 1176.0,2333.8 1176.2,2333.8 1176.4,2334.3M1179.1,2323.2 1179.2,2321.7 1179.7,2320.4 1180.4,2319.5 1181.2,2318.9 1182.1,2318.9 1182.9,2319.5 1183.6,2320.4 1184.0,2321.7 1184.1,2323.2 1184.1,2330.6 1184.0,2332.0 1183.6,2333.3 1182.9,2334.3 1182.1,2334.8 1181.2,2334.8 1180.4,2334.3 1179.7,2333.3 1179.2,2332.0 1179.1,2330.6 1179.1,2323.2M1186.9,2327.8 1190.4,2327.8M1193.1,2318.9 1193.1,2334.9M1198.2,2318.9 1193.1,2329.1M1194.7,2325.9 1198.4,2334.9M1206.0,2322.3 1205.3,2320.3 1204.4,2319.1 1203.5,2318.9 1202.5,2319.8 1201.7,2321.6 1201.2,2324.0 1201.0,2326.9 1201.2,2329.7 1201.7,2332.2 1202.5,2333.9 1203.5,2334.8 1204.4,2334.7 1205.3,2333.5 1206.0,2331.5M1209.0,2322.0 1209.4,2320.6 1210.0,2319.6 1210.8,2319.0 1211.7,2318.9 1212.5,2319.4 1213.2,2320.3 1213.7,2321.5 1213.8,2323.0 1213.7,2324.5 1208.8,2334.9 1214.1,2334.9M1221.5,2318.9 1217.4,2318.9 1217.1,2326.2 1217.1,2326.8 1217.8,2325.4 1218.7,2324.7 1219.7,2324.7 1220.6,2325.4 1221.3,2326.7 1221.7,2328.4 1221.8,2330.3 1221.4,2332.1 1220.8,2333.5 1219.9,2334.4 1218.9,2334.5 1218.0,2334.0 1217.2,2332.8M1224.5,2334.9 1224.5,2318.9 1227.2,2318.9 1227.2,2318.9 1228.0,2319.1 1228.7,2319.9 1229.2,2321.0 1229.5,2322.4 1229.5,2323.9 1229.2,2325.2 1228.7,2326.4 1228.0,2327.1 1227.2,2327.4 1224.5,2327.4" fill="none" stroke="#2e2e2e" stroke-width="1.5" stroke-linecap="round" stroke-linejoin="round"/>
<rect x="1131.5" y="2156" width="179.0" height="54.0" fill="none" stroke="#3a3a3a" stroke-width="1.6"/>
<line x1="1183" y1="2156" x2="1183" y2="2210" stroke="#3a3a3a" stroke-width="1.6"/>
<path d="M1143.2,2173.3 1148.3,2168.2 1148.3,2197.8M1156.3,2168.2 1167.8,2168.2 1160.2,2180.1 1160.5,2179.6 1162.9,2179.6 1165.1,2180.8 1166.9,2183.0 1168.0,2186.0 1168.3,2189.3 1167.7,2192.5 1166.3,2195.2 1164.3,2197.0 1161.9,2197.7 1159.5,2197.3 1157.4,2195.7 1155.8,2193.2" fill="none" stroke="#2e2e2e" stroke-width="1.6" stroke-linecap="round" stroke-linejoin="round"/>
<path d="M1190.8,2166.4 1189.9,2164.3 1188.8,2163.2 1187.6,2163.1 1186.5,2164.3 1185.6,2166.4 1185.1,2169.1 1185.0,2172.2 1185.4,2175.0 1186.2,2177.3 1187.3,2178.7 1188.5,2179.0 1189.7,2178.1 1190.7,2176.1 1191.2,2171.8 1188.5,2171.8M1194.4,2179.0 1197.6,2163.0 1200.8,2179.0M1195.5,2173.9 1199.7,2173.9M1209.5,2165.3 1208.9,2164.2 1208.1,2163.4 1207.2,2163.0 1206.2,2163.2 1205.3,2163.8 1204.6,2164.9 1204.3,2166.2 1204.2,2167.6 1204.5,2168.9 1205.2,2170.0 1206.0,2170.7 1207.0,2171.0 1206.9,2171.0 1207.9,2171.3 1208.8,2172.0 1209.5,2173.1 1209.8,2174.4 1209.8,2175.8 1209.4,2177.1 1208.7,2178.2 1207.7,2178.8 1206.7,2179.0 1205.6,2178.6 1204.8,2177.8 1204.2,2176.7M1221.1,2163.0 1221.1,2179.0M1224.3,2179.0 1224.3,2163.0 1230.1,2179.0 1230.1,2163.0M1233.3,2163.0 1233.3,2179.0 1238.4,2179.0M1247.0,2163.0 1241.6,2163.0 1241.6,2179.0 1247.0,2179.0M1241.6,2171.0 1245.7,2171.0M1250.2,2163.0 1256.2,2163.0M1253.2,2163.0 1253.2,2179.0M1267.4,2163.0 1267.4,2179.0 1272.5,2179.0M1275.7,2179.0 1278.9,2163.0 1282.1,2179.0M1276.7,2173.9 1281.0,2173.9M1285.3,2171.0 1285.3,2163.0 1288.3,2163.0 1288.3,2163.0 1289.1,2163.2 1289.8,2163.9 1290.4,2165.0 1290.7,2166.3 1290.7,2167.7 1290.4,2169.0 1289.8,2170.1 1289.1,2170.8 1288.3,2171.0 1285.3,2171.0M1288.5,2171.0 1288.5,2171.0 1289.4,2171.2 1290.2,2171.9 1290.8,2173.0 1291.1,2174.3 1291.1,2175.7 1290.8,2177.0 1290.2,2178.1 1289.4,2178.8 1288.5,2179.0 1285.3,2179.0 1285.3,2171.0M1299.7,2163.0 1294.3,2163.0 1294.3,2179.0 1299.7,2179.0M1294.3,2171.0 1298.4,2171.0M1302.9,2163.0 1302.9,2179.0 1308.0,2179.0" fill="none" stroke="#2e2e2e" stroke-width="1.5" stroke-linecap="round" stroke-linejoin="round"/>
<path d="M1189.4,2194.0 1189.4,2185.0 1193.1,2185.0 1193.1,2185.0 1194.1,2185.3 1195.0,2186.1 1195.7,2187.2 1196.1,2188.7 1196.1,2190.3 1195.7,2191.8 1195.0,2192.9 1194.1,2193.7 1193.1,2194.0 1189.4,2194.0M1193.4,2194.0 1193.4,2194.0 1194.5,2194.3 1195.5,2195.1 1196.2,2196.2 1196.6,2197.7 1196.6,2199.3 1196.2,2200.8 1195.5,2201.9 1194.5,2202.7 1193.4,2203.0 1189.4,2203.0 1189.4,2194.0M1201.3,2202.4 1201.1,2202.9 1200.7,2202.9 1200.5,2202.4 1200.7,2201.8 1201.1,2201.8 1201.3,2202.4M1205.2,2189.9 1205.4,2188.2 1206.1,2186.7 1207.0,2185.7 1208.2,2185.1 1209.5,2185.1 1210.7,2185.7 1211.6,2186.7 1212.3,2188.2 1212.5,2189.9 1212.5,2198.1 1212.3,2199.8 1211.6,2201.3 1210.7,2202.3 1209.5,2202.9 1208.2,2202.9 1207.0,2202.3 1206.1,2201.3 1205.4,2199.8 1205.2,2198.1 1205.2,2189.9M1222.1,2203.0 1222.1,2185.0 1216.4,2197.2 1224.6,2197.2M1229.0,2202.4 1228.8,2202.9 1228.4,2202.9 1228.2,2202.4 1228.4,2201.8 1228.8,2201.8 1229.0,2202.4M1232.9,2188.1 1235.8,2185.0 1235.8,2203.0M1240.8,2202.4 1240.6,2202.9 1240.2,2202.9 1240.0,2202.4 1240.2,2201.8 1240.6,2201.8 1240.8,2202.4M1244.7,2189.9 1244.9,2188.2 1245.5,2186.7 1246.5,2185.7 1247.7,2185.1 1248.9,2185.1 1250.1,2185.7 1251.1,2186.7 1251.7,2188.2 1251.9,2189.9 1251.9,2198.1 1251.7,2199.8 1251.1,2201.3 1250.1,2202.3 1248.9,2202.9 1247.7,2202.9 1246.5,2202.3 1245.5,2201.3 1244.9,2199.8 1244.7,2198.1 1244.7,2189.9M1255.9,2189.9 1256.1,2188.2 1256.7,2186.7 1257.7,2185.7 1258.9,2185.1 1260.1,2185.1 1261.3,2185.7 1262.3,2186.7 1262.9,2188.2 1263.1,2189.9 1263.1,2198.1 1262.9,2199.8 1262.3,2201.3 1261.3,2202.3 1260.1,2202.9 1258.9,2202.9 1257.7,2202.3 1256.7,2201.3 1256.1,2199.8 1255.9,2198.1 1255.9,2189.9M1267.8,2202.4 1267.6,2202.9 1267.2,2202.9 1267.0,2202.4 1267.2,2201.8 1267.6,2201.8 1267.8,2202.4M1278.6,2185.0 1272.6,2185.0 1272.2,2193.3 1272.2,2193.9 1273.3,2192.4 1274.6,2191.6 1276.0,2191.6 1277.3,2192.4 1278.3,2193.8 1278.9,2195.8 1278.9,2197.9 1278.5,2199.9 1277.5,2201.5 1276.3,2202.4 1274.9,2202.6 1273.5,2202.0 1272.4,2200.6M1290.2,2190.0 1289.9,2191.9 1289.2,2193.4 1288.2,2194.6 1286.9,2195.1 1285.6,2194.9 1284.4,2194.1 1283.5,2192.7 1283.0,2191.0 1283.0,2189.1 1283.5,2187.4 1284.4,2186.0 1285.6,2185.2 1286.9,2185.0 1288.2,2185.5 1289.2,2186.6 1289.9,2188.2 1290.2,2190.0 1290.2,2191.5 1289.7,2195.5 1288.5,2199.0 1286.6,2201.6 1284.3,2202.9M1294.9,2202.4 1294.7,2202.9 1294.3,2202.9 1294.1,2202.4 1294.3,2201.8 1294.7,2201.8 1294.9,2202.4M1298.7,2189.9 1299.0,2188.2 1299.6,2186.7 1300.6,2185.7 1301.7,2185.1 1303.0,2185.1 1304.2,2185.7 1305.2,2186.7 1305.8,2188.2 1306.0,2189.9 1306.0,2198.1 1305.8,2199.8 1305.2,2201.3 1304.2,2202.3 1303.0,2202.9 1301.7,2202.9 1300.6,2202.3 1299.6,2201.3 1299.0,2199.8 1298.7,2198.1 1298.7,2189.9" fill="none" stroke="#2e2e2e" stroke-width="1.5" stroke-linecap="round" stroke-linejoin="round"/>
<rect x="1207" y="1823" width="51.5" height="53.0" fill="none" stroke="#3a3a3a" stroke-width="1.6"/>
<path d="M1209.0,1839.8 1214.0,1834.8 1214.0,1864.2M1231.5,1834.9 1227.5,1837.0 1224.2,1841.2 1222.1,1847.0 1221.3,1853.6 1221.3,1856.0 1221.7,1853.0 1223.0,1850.4 1224.8,1848.6 1227.0,1847.8 1229.3,1848.0 1231.4,1849.4 1232.9,1851.6 1233.8,1854.5 1233.8,1857.5 1232.9,1860.3 1231.4,1862.6 1229.3,1863.9 1227.0,1864.2 1224.8,1863.4 1223.0,1861.6 1221.7,1859.0 1221.3,1856.0M1252.6,1842.1 1252.2,1844.8 1251.2,1847.1 1249.6,1848.7 1247.6,1849.5 1245.6,1849.2 1243.8,1848.0 1242.5,1846.0 1241.7,1843.5 1241.7,1840.8 1242.5,1838.2 1243.8,1836.2 1245.6,1835.0 1247.6,1834.8 1249.6,1835.5 1251.2,1837.2 1252.2,1839.5 1252.6,1842.1M1253.5,1856.7 1253.1,1859.4 1251.8,1861.8 1250.0,1863.5 1247.7,1864.2 1245.4,1864.0 1243.3,1862.7 1241.7,1860.7 1240.8,1858.1 1240.8,1855.3 1241.7,1852.8 1243.3,1850.7 1245.4,1849.5 1247.7,1849.2 1250.0,1850.0 1251.8,1851.7 1253.1,1854.0 1253.5,1856.7" fill="none" stroke="#2e2e2e" stroke-width="1.6" stroke-linecap="round" stroke-linejoin="round"/>
<rect x="1245" y="1910" width="179.6" height="78.0" fill="none" stroke="#3a3a3a" stroke-width="1.6"/>
<line x1="1296.9" y1="1910" x2="1296.9" y2="1988" stroke="#3a3a3a" stroke-width="1.6"/>
<path d="M1252.7,1939.5 1253.7,1936.9 1255.4,1934.9 1257.5,1933.7 1259.9,1933.6 1262.1,1934.4 1263.9,1936.2 1265.1,1938.7 1265.6,1941.5 1265.2,1944.3 1252.4,1964.5 1266.2,1964.5M1273.9,1933.5 1286.0,1933.5 1278.0,1945.9 1278.3,1945.4 1280.8,1945.5 1283.2,1946.7 1285.0,1949.0 1286.2,1952.1 1286.5,1955.6 1285.8,1959.0 1284.4,1961.8 1282.3,1963.7 1279.8,1964.5 1277.3,1964.0 1275.1,1962.3 1273.4,1959.7" fill="none" stroke="#2e2e2e" stroke-width="1.6" stroke-linecap="round" stroke-linejoin="round"/>
<path d="M1306.4,1915.4 1300.0,1915.4 1300.0,1933.4 1306.4,1933.4M1300.0,1924.4 1304.9,1924.4M1310.3,1915.4 1310.3,1933.4 1316.4,1933.4M1326.7,1915.4 1320.3,1915.4 1320.3,1933.4 1326.7,1933.4M1320.3,1924.4 1325.1,1924.4M1337.5,1919.2 1336.5,1917.0 1335.3,1915.7 1333.9,1915.5 1332.6,1916.4 1331.5,1918.4 1330.8,1921.2 1330.5,1924.4 1330.8,1927.6 1331.5,1930.4 1332.6,1932.4 1333.9,1933.3 1335.3,1933.1 1336.5,1931.8 1337.5,1929.6M1341.4,1915.4 1348.6,1915.4M1345.0,1915.4 1345.0,1933.4M1352.5,1933.4 1352.5,1915.4 1356.2,1915.4 1356.2,1915.4 1357.3,1915.7 1358.2,1916.5 1358.9,1917.8 1359.3,1919.3 1359.3,1921.0 1358.9,1922.6 1358.2,1923.8 1357.3,1924.7 1356.2,1924.9 1352.5,1924.9M1355.9,1924.9 1359.6,1933.4M1363.5,1915.4 1363.5,1933.4M1374.3,1919.2 1373.3,1917.0 1372.1,1915.7 1370.7,1915.5 1369.4,1916.4 1368.3,1918.4 1367.6,1921.2 1367.3,1924.4 1367.6,1927.6 1368.3,1930.4 1369.4,1932.4 1370.7,1933.3 1372.1,1933.1 1373.3,1931.8 1374.3,1929.6M1387.8,1933.4 1387.8,1915.4 1392.1,1929.4 1396.3,1915.4 1396.3,1933.4M1400.2,1933.4 1404.0,1915.4 1407.9,1933.4M1401.4,1927.6 1406.6,1927.6M1411.7,1915.4 1411.7,1933.4M1415.5,1933.4 1415.5,1915.4 1422.6,1933.4 1422.6,1915.4" fill="none" stroke="#2e2e2e" stroke-width="1.5" stroke-linecap="round" stroke-linejoin="round"/>
<path d="M1299.0,1939.2 1301.3,1957.2 1303.6,1941.4 1305.9,1957.2 1308.2,1939.2M1312.1,1939.2 1312.1,1957.2M1315.9,1957.2 1315.9,1939.2 1319.6,1939.2 1319.6,1939.2 1320.7,1939.5 1321.7,1940.3 1322.4,1941.6 1322.8,1943.1 1322.8,1944.8 1322.4,1946.3 1321.7,1947.6 1320.7,1948.4 1319.6,1948.7 1315.9,1948.7M1319.3,1948.7 1323.1,1957.2M1333.3,1939.2 1326.9,1939.2 1326.9,1957.2 1333.3,1957.2M1326.9,1948.2 1331.8,1948.2M1346.7,1957.2 1346.7,1939.2 1350.4,1939.2 1350.4,1939.2 1351.5,1939.5 1352.5,1940.3 1353.2,1941.6 1353.6,1943.1 1353.6,1944.8 1353.2,1946.3 1352.5,1947.6 1351.5,1948.4 1350.4,1948.7 1346.7,1948.7M1350.2,1948.7 1353.9,1957.2M1364.1,1939.2 1357.7,1939.2 1357.7,1957.2 1364.1,1957.2M1357.7,1948.2 1362.6,1948.2M1368.0,1939.2 1375.1,1939.2M1371.5,1939.2 1371.5,1957.2M1379.0,1957.2 1382.8,1939.2 1386.6,1957.2M1380.2,1951.4 1385.4,1951.4M1390.5,1939.2 1390.5,1957.2M1394.3,1957.2 1394.3,1939.2 1401.4,1957.2 1401.4,1939.2M1411.6,1939.2 1405.2,1939.2 1405.2,1957.2 1411.6,1957.2M1405.2,1948.2 1410.1,1948.2M1415.4,1957.2 1415.4,1939.2 1419.1,1939.2 1419.1,1939.2 1420.2,1939.5 1421.2,1940.3 1421.9,1941.6 1422.3,1943.1 1422.3,1944.8 1421.9,1946.3 1421.2,1947.6 1420.2,1948.4 1419.1,1948.7 1415.4,1948.7M1418.9,1948.7 1422.6,1957.2" fill="none" stroke="#2e2e2e" stroke-width="1.5" stroke-linecap="round" stroke-linejoin="round"/>
<path d="M1305.0,1971.6 1305.0,1962.6 1308.9,1962.6 1308.9,1962.6 1309.9,1962.9 1310.9,1963.6 1311.6,1964.8 1312.0,1966.3 1312.0,1967.9 1311.6,1969.3 1310.9,1970.5 1309.9,1971.3 1308.9,1971.6 1305.0,1971.6M1309.1,1971.6 1309.1,1971.6 1310.3,1971.9 1311.4,1972.6 1312.1,1973.8 1312.5,1975.3 1312.5,1976.9 1312.1,1978.3 1311.4,1979.5 1310.3,1980.3 1309.1,1980.6 1305.0,1980.6 1305.0,1971.6M1317.5,1980.0 1317.3,1980.5 1316.9,1980.5 1316.6,1980.0 1316.9,1979.4 1317.3,1979.4 1317.5,1980.0M1321.5,1967.4 1321.8,1965.8 1322.4,1964.3 1323.4,1963.2 1324.7,1962.7 1326.0,1962.7 1327.2,1963.2 1328.2,1964.3 1328.9,1965.8 1329.1,1967.4 1329.1,1975.7 1328.9,1977.4 1328.2,1978.9 1327.2,1979.9 1326.0,1980.5 1324.7,1980.5 1323.4,1979.9 1322.4,1978.9 1321.8,1977.4 1321.5,1975.7 1321.5,1967.4M1339.2,1980.6 1339.2,1962.6 1333.3,1974.8 1341.8,1974.8M1346.4,1980.0 1346.2,1980.5 1345.8,1980.5 1345.6,1980.0 1345.8,1979.4 1346.2,1979.4 1346.4,1980.0M1350.5,1965.6 1353.5,1962.6 1353.5,1980.6M1358.7,1980.0 1358.5,1980.5 1358.1,1980.5 1357.9,1980.0 1358.1,1979.4 1358.5,1979.4 1358.7,1980.0M1362.8,1965.6 1365.8,1962.6 1365.8,1980.6M1376.4,1962.7 1374.0,1964.0 1372.0,1966.6 1370.7,1970.1 1370.2,1974.1 1370.2,1975.5 1370.5,1973.7 1371.2,1972.2 1372.3,1971.0 1373.7,1970.5 1375.0,1970.7 1376.3,1971.5 1377.2,1972.9 1377.7,1974.6 1377.7,1976.5 1377.2,1978.2 1376.3,1979.6 1375.0,1980.4 1373.7,1980.6 1372.3,1980.1 1371.2,1978.9 1370.5,1977.4 1370.2,1975.5M1382.7,1980.0 1382.5,1980.5 1382.1,1980.5 1381.9,1980.0 1382.1,1979.4 1382.5,1979.4 1382.7,1980.0M1386.8,1967.4 1387.0,1965.8 1387.6,1964.3 1388.7,1963.2 1389.9,1962.7 1391.2,1962.7 1392.4,1963.2 1393.5,1964.3 1394.1,1965.8 1394.3,1967.4 1394.3,1975.7 1394.1,1977.4 1393.5,1978.9 1392.4,1979.9 1391.2,1980.5 1389.9,1980.5 1388.7,1979.9 1387.6,1978.9 1387.0,1977.4 1386.8,1975.7 1386.8,1967.4M1398.5,1967.4 1398.7,1965.8 1399.4,1964.3 1400.4,1963.2 1401.6,1962.7 1402.9,1962.7 1404.2,1963.2 1405.2,1964.3 1405.8,1965.8 1406.1,1967.4 1406.1,1975.7 1405.8,1977.4 1405.2,1978.9 1404.2,1979.9 1402.9,1980.5 1401.6,1980.5 1400.4,1979.9 1399.4,1978.9 1398.7,1977.4 1398.5,1975.7 1398.5,1967.4M1411.0,1980.0 1410.7,1980.5 1410.3,1980.5 1410.1,1980.0 1410.3,1979.4 1410.7,1979.4 1411.0,1980.0M1415.0,1967.4 1415.2,1965.8 1415.9,1964.3 1416.9,1963.2 1418.2,1962.7 1419.5,1962.7 1420.7,1963.2 1421.7,1964.3 1422.4,1965.8 1422.6,1967.4 1422.6,1975.7 1422.4,1977.4 1421.7,1978.9 1420.7,1979.9 1419.5,1980.5 1418.2,1980.5 1416.9,1979.9 1415.9,1978.9 1415.2,1977.4 1415.0,1975.7 1415.0,1967.4" fill="none" stroke="#2e2e2e" stroke-width="1.5" stroke-linecap="round" stroke-linejoin="round"/>
<rect x="1345.5" y="2031.7" width="179.3" height="76.3" fill="none" stroke="#3a3a3a" stroke-width="1.6"/>
<line x1="1397" y1="2031.7" x2="1397" y2="2108" stroke="#3a3a3a" stroke-width="1.6"/>
<path d="M1353.0,2060.3 1354.0,2057.7 1355.7,2055.7 1357.8,2054.6 1360.2,2054.4 1362.4,2055.3 1364.2,2057.1 1365.4,2059.5 1365.9,2062.3 1365.5,2065.2 1352.7,2085.3 1366.5,2085.3M1384.3,2054.5 1380.1,2056.8 1376.6,2061.2 1374.3,2067.2 1373.5,2074.2 1373.5,2076.7 1373.9,2073.5 1375.2,2070.8 1377.2,2068.9 1379.5,2068.0 1382.0,2068.3 1384.2,2069.7 1385.8,2072.1 1386.7,2075.1 1386.7,2078.3 1385.8,2081.2 1384.2,2083.6 1382.0,2085.0 1379.5,2085.3 1377.2,2084.4 1375.2,2082.5 1373.9,2079.8 1373.5,2076.7" fill="none" stroke="#2e2e2e" stroke-width="1.6" stroke-linecap="round" stroke-linejoin="round"/>
<path d="M1404.7,2038.1 1400.0,2038.1 1400.0,2054.6M1400.0,2046.3 1403.5,2046.3M1407.4,2054.6 1407.4,2038.1 1410.1,2038.1 1410.1,2038.1 1410.9,2038.4 1411.6,2039.1 1412.2,2040.3 1412.4,2041.7 1412.4,2043.2 1412.2,2044.6 1411.6,2045.8 1410.9,2046.6 1410.1,2046.8 1407.4,2046.8M1410.0,2046.8 1412.7,2054.6M1421.0,2046.3 1420.8,2049.5 1420.2,2052.2 1419.3,2054.0 1418.2,2054.6 1417.2,2054.0 1416.3,2052.2 1415.7,2049.5 1415.4,2046.3 1415.7,2043.2 1416.3,2040.5 1417.2,2038.7 1418.2,2038.1 1419.3,2038.7 1420.2,2040.5 1420.8,2043.2 1421.0,2046.3M1423.8,2054.6 1423.8,2038.1 1428.9,2054.6 1428.9,2038.1M1431.7,2038.1 1436.9,2038.1M1434.3,2038.1 1434.3,2054.6M1439.7,2054.6 1443.4,2038.1M1446.2,2046.3 1446.2,2038.1 1448.8,2038.1 1448.8,2038.1 1449.6,2038.3 1450.2,2039.1 1450.7,2040.2 1450.9,2041.5 1450.9,2042.9 1450.7,2044.3 1450.2,2045.4 1449.6,2046.1 1448.8,2046.3 1446.2,2046.3M1449.0,2046.3 1449.0,2046.3 1449.8,2046.6 1450.5,2047.3 1451.0,2048.4 1451.3,2049.7 1451.3,2051.2 1451.0,2052.5 1450.5,2053.6 1449.8,2054.3 1449.0,2054.6 1446.2,2054.6 1446.2,2046.3M1454.1,2054.6 1456.9,2038.1 1459.7,2054.6M1455.1,2049.3 1458.8,2049.3M1467.6,2041.6 1466.9,2039.5 1466.0,2038.3 1465.0,2038.2 1464.0,2039.0 1463.2,2040.9 1462.7,2043.4 1462.5,2046.3 1462.7,2049.3 1463.2,2051.8 1464.0,2053.6 1465.0,2054.5 1466.0,2054.4 1466.9,2053.2 1467.6,2051.1M1470.4,2038.1 1470.4,2054.6M1475.5,2038.1 1470.4,2048.7M1472.0,2045.4 1475.7,2054.6M1485.4,2054.6 1485.4,2038.1 1488.1,2038.1 1488.1,2038.1 1488.9,2038.4 1489.6,2039.1 1490.1,2040.3 1490.4,2041.7 1490.4,2043.2 1490.1,2044.6 1489.6,2045.8 1488.9,2046.6 1488.1,2046.8 1485.4,2046.8M1493.2,2038.1 1493.2,2054.6 1497.7,2054.6M1500.5,2054.6 1503.3,2038.1 1506.1,2054.6M1501.4,2049.3 1505.1,2049.3M1508.8,2038.1 1514.1,2038.1M1511.5,2038.1 1511.5,2054.6M1521.5,2038.1 1516.8,2038.1 1516.8,2054.6 1521.5,2054.6M1516.8,2046.3 1520.4,2046.3" fill="none" stroke="#2e2e2e" stroke-width="1.5" stroke-linecap="round" stroke-linejoin="round"/>
<path d="M1400.0,2061.4 1400.0,2077.9M1405.8,2061.4 1405.8,2077.9M1400.0,2069.6 1405.8,2069.6M1414.2,2061.4 1408.9,2061.4 1408.9,2077.9 1414.2,2077.9M1408.9,2069.6 1412.9,2069.6M1417.3,2077.9 1420.4,2061.4 1423.6,2077.9M1418.4,2072.6 1422.5,2072.6M1426.7,2061.4 1432.6,2061.4M1429.7,2061.4 1429.7,2077.9M1448.9,2061.4 1443.6,2061.4 1443.6,2077.9 1448.9,2077.9M1443.6,2069.6 1447.6,2069.6M1452.0,2061.4 1457.9,2077.9M1457.9,2061.4 1452.0,2077.9M1466.8,2064.9 1465.9,2062.8 1464.9,2061.6 1463.8,2061.4 1462.7,2062.3 1461.8,2064.2 1461.2,2066.7 1461.0,2069.6 1461.2,2072.5 1461.8,2075.1 1462.7,2076.9 1463.8,2077.8 1464.9,2077.6 1465.9,2076.4 1466.8,2074.3M1469.9,2061.4 1469.9,2077.9M1475.7,2061.4 1475.7,2077.9M1469.9,2069.6 1475.7,2069.6M1478.9,2077.9 1482.0,2061.4 1485.2,2077.9M1479.9,2072.6 1484.1,2072.6M1488.3,2077.9 1488.3,2061.4 1494.1,2077.9 1494.1,2061.4M1502.9,2064.9 1502.1,2062.7 1501.0,2061.5 1499.8,2061.5 1498.7,2062.7 1497.8,2064.8 1497.3,2067.7 1497.2,2070.8 1497.6,2073.8 1498.4,2076.1 1499.5,2077.6 1500.7,2077.8 1501.8,2076.9 1502.8,2074.9 1503.3,2070.4 1500.7,2070.4M1511.7,2061.4 1506.4,2061.4 1506.4,2077.9 1511.7,2077.9M1506.4,2069.6 1510.4,2069.6M1514.8,2077.9 1514.8,2061.4 1517.9,2061.4 1517.9,2061.4 1518.8,2061.6 1519.6,2062.4 1520.1,2063.5 1520.5,2065.0 1520.5,2066.5 1520.1,2067.9 1519.6,2069.1 1518.8,2069.8 1517.9,2070.1 1514.8,2070.1M1517.7,2070.1 1520.7,2077.9" fill="none" stroke="#2e2e2e" stroke-width="1.5" stroke-linecap="round" stroke-linejoin="round"/>
<path d="M1412.1,2086.6 1411.1,2084.3 1409.8,2083.0 1408.4,2082.8 1407.0,2083.8 1405.9,2085.8 1405.2,2088.6 1404.9,2091.8 1405.2,2094.9 1405.9,2097.7 1407.0,2099.7 1408.4,2100.7 1409.8,2100.5 1411.1,2099.2 1412.1,2096.9M1416.8,2100.1 1416.6,2100.7 1416.2,2100.7 1416.0,2100.1 1416.2,2099.6 1416.6,2099.6 1416.8,2100.1M1420.7,2087.6 1420.9,2085.9 1421.5,2084.5 1422.5,2083.4 1423.7,2082.8 1424.9,2082.8 1426.1,2083.4 1427.1,2084.5 1427.7,2085.9 1427.9,2087.6 1427.9,2095.9 1427.7,2097.6 1427.1,2099.0 1426.1,2100.1 1424.9,2100.7 1423.7,2100.7 1422.5,2100.1 1421.5,2099.0 1420.9,2097.6 1420.7,2095.9 1420.7,2087.6M1438.7,2087.3 1438.5,2088.9 1437.9,2090.3 1437.0,2091.3 1435.9,2091.7 1434.7,2091.6 1433.7,2090.8 1432.9,2089.6 1432.5,2088.1 1432.5,2086.4 1432.9,2084.9 1433.7,2083.7 1434.7,2082.9 1435.9,2082.8 1437.0,2083.2 1437.9,2084.2 1438.5,2085.6 1438.7,2087.3M1439.2,2096.2 1439.0,2097.8 1438.3,2099.3 1437.2,2100.3 1435.9,2100.7 1434.6,2100.6 1433.3,2099.8 1432.4,2098.6 1431.9,2097.0 1431.9,2095.3 1432.4,2093.7 1433.3,2092.5 1434.6,2091.7 1435.9,2091.6 1437.2,2092.1 1438.3,2093.1 1439.0,2094.5 1439.2,2096.2M1443.9,2100.1 1443.7,2100.7 1443.3,2100.7 1443.1,2100.1 1443.3,2099.6 1443.7,2099.6 1443.9,2100.1M1447.8,2085.8 1450.7,2082.8 1450.7,2100.8M1455.6,2100.1 1455.4,2100.7 1455.0,2100.7 1454.8,2100.1 1455.0,2099.6 1455.4,2099.6 1455.6,2100.1M1459.5,2087.6 1459.7,2085.9 1460.4,2084.5 1461.3,2083.4 1462.5,2082.8 1463.8,2082.8 1464.9,2083.4 1465.9,2084.5 1466.5,2085.9 1466.7,2087.6 1466.7,2095.9 1466.5,2097.6 1465.9,2099.0 1464.9,2100.1 1463.8,2100.7 1462.5,2100.7 1461.3,2100.1 1460.4,2099.0 1459.7,2097.6 1459.5,2095.9 1459.5,2087.6M1470.7,2087.6 1470.9,2085.9 1471.5,2084.5 1472.5,2083.4 1473.7,2082.8 1474.9,2082.8 1476.1,2083.4 1477.1,2084.5 1477.7,2085.9 1477.9,2087.6 1477.9,2095.9 1477.7,2097.6 1477.1,2099.0 1476.1,2100.1 1474.9,2100.7 1473.7,2100.7 1472.5,2100.1 1471.5,2099.0 1470.9,2097.6 1470.7,2095.9 1470.7,2087.6M1482.6,2100.1 1482.4,2100.7 1482.0,2100.7 1481.8,2100.1 1482.0,2099.6 1482.4,2099.6 1482.6,2100.1M1486.5,2087.6 1486.7,2085.9 1487.3,2084.5 1488.3,2083.4 1489.5,2082.8 1490.7,2082.8 1491.9,2083.4 1492.9,2084.5 1493.5,2085.9 1493.7,2087.6 1493.7,2095.9 1493.5,2097.6 1492.9,2099.0 1491.9,2100.1 1490.7,2100.7 1489.5,2100.7 1488.3,2100.1 1487.3,2099.0 1486.7,2097.6 1486.5,2095.9 1486.5,2087.6M1503.6,2082.9 1501.2,2084.1 1499.4,2086.7 1498.1,2090.2 1497.7,2094.3 1497.7,2095.7 1497.9,2093.9 1498.6,2092.3 1499.7,2091.2 1501.0,2090.7 1502.3,2090.9 1503.5,2091.7 1504.4,2093.1 1504.8,2094.8 1504.8,2096.6 1504.4,2098.4 1503.5,2099.7 1502.3,2100.6 1501.0,2100.7 1499.7,2100.2 1498.6,2099.1 1497.9,2097.5 1497.7,2095.7M1509.6,2100.1 1509.4,2100.7 1509.0,2100.7 1508.8,2100.1 1509.0,2099.6 1509.4,2099.6 1509.6,2100.1M1513.5,2087.6 1513.7,2085.9 1514.3,2084.5 1515.3,2083.4 1516.5,2082.8 1517.7,2082.8 1518.9,2083.4 1519.9,2084.5 1520.5,2085.9 1520.7,2087.6 1520.7,2095.9 1520.5,2097.6 1519.9,2099.0 1518.9,2100.1 1517.7,2100.7 1516.5,2100.7 1515.3,2100.1 1514.3,2099.0 1513.7,2097.6 1513.5,2095.9 1513.5,2087.6" fill="none" stroke="#2e2e2e" stroke-width="1.5" stroke-linecap="round" stroke-linejoin="round"/>
<rect x="1429.6" y="2153.7" width="179.4" height="55.3" fill="none" stroke="#3a3a3a" stroke-width="1.6"/>
<line x1="1481" y1="2153.7" x2="1481" y2="2209" stroke="#3a3a3a" stroke-width="1.6"/>
<path d="M1437.8,2172.3 1438.7,2169.8 1440.3,2167.9 1442.4,2166.8 1444.6,2166.7 1446.7,2167.5 1448.4,2169.2 1449.6,2171.5 1450.0,2174.2 1449.6,2176.9 1437.5,2196.1 1450.6,2196.1M1457.6,2172.3 1458.5,2169.8 1460.1,2167.9 1462.1,2166.8 1464.4,2166.7 1466.5,2167.5 1468.2,2169.2 1469.4,2171.5 1469.8,2174.2 1469.4,2176.9 1457.3,2196.1 1470.4,2196.1" fill="none" stroke="#2e2e2e" stroke-width="1.6" stroke-linecap="round" stroke-linejoin="round"/>
<path d="M1493.6,2162.5 1492.7,2160.3 1491.6,2159.0 1490.3,2158.8 1489.1,2159.7 1488.2,2161.7 1487.5,2164.5 1487.3,2167.7 1487.5,2170.9 1488.2,2173.7 1489.1,2175.7 1490.3,2176.6 1491.6,2176.4 1492.7,2175.1 1493.6,2172.9M1497.1,2176.7 1500.6,2158.7 1504.0,2176.7M1498.3,2170.9 1502.9,2170.9M1507.5,2167.7 1507.5,2158.7 1510.7,2158.7 1510.7,2158.7 1511.6,2159.0 1512.4,2159.8 1513.0,2160.9 1513.3,2162.4 1513.3,2164.0 1513.0,2165.4 1512.4,2166.6 1511.6,2167.4 1510.7,2167.7 1507.5,2167.7M1511.0,2167.7 1511.0,2167.7 1511.9,2168.0 1512.8,2168.8 1513.5,2169.9 1513.8,2171.4 1513.8,2173.0 1513.5,2174.4 1512.8,2175.6 1511.9,2176.4 1511.0,2176.7 1507.5,2176.7 1507.5,2167.7M1517.3,2158.7 1517.3,2176.7 1522.8,2176.7M1532.1,2158.7 1526.3,2158.7 1526.3,2176.7 1532.1,2176.7M1526.3,2167.7 1530.7,2167.7M1544.2,2158.7 1544.2,2176.7M1550.5,2158.7 1550.5,2176.7M1544.2,2167.7 1550.5,2167.7M1560.9,2167.7 1560.7,2171.1 1559.9,2174.1 1558.8,2176.0 1557.5,2176.7 1556.1,2176.0 1555.0,2174.1 1554.3,2171.1 1554.0,2167.7 1554.3,2164.3 1555.0,2161.3 1556.1,2159.4 1557.5,2158.7 1558.8,2159.4 1559.9,2161.3 1560.7,2164.3 1560.9,2167.7M1564.4,2158.7 1564.4,2176.7 1569.9,2176.7M1573.4,2158.7 1573.4,2176.7 1575.9,2176.7 1575.9,2176.7 1577.3,2176.2 1578.4,2174.6 1579.3,2172.2 1579.8,2169.3 1579.8,2166.1 1579.3,2163.2 1578.4,2160.8 1577.3,2159.2 1575.9,2158.7 1573.4,2158.7M1589.1,2158.7 1583.3,2158.7 1583.3,2176.7 1589.1,2176.7M1583.3,2167.7 1587.7,2167.7M1592.5,2176.7 1592.5,2158.7 1595.9,2158.7 1595.9,2158.7 1596.9,2159.0 1597.7,2159.8 1598.4,2161.1 1598.7,2162.6 1598.7,2164.3 1598.4,2165.9 1597.7,2167.1 1596.9,2168.0 1595.9,2168.2 1592.5,2168.2M1595.7,2168.2 1599.0,2176.7" fill="none" stroke="#2e2e2e" stroke-width="1.5" stroke-linecap="round" stroke-linejoin="round"/>
<path d="M1487.3,2191.7 1487.3,2182.7 1491.2,2182.7 1491.2,2182.7 1492.2,2183.0 1493.2,2183.8 1493.9,2184.9 1494.3,2186.4 1494.3,2188.0 1493.9,2189.4 1493.2,2190.6 1492.2,2191.4 1491.2,2191.7 1487.3,2191.7M1491.4,2191.7 1491.4,2191.7 1492.6,2192.0 1493.6,2192.8 1494.4,2193.9 1494.8,2195.4 1494.8,2197.0 1494.4,2198.4 1493.6,2199.6 1492.6,2200.4 1491.4,2200.7 1487.3,2200.7 1487.3,2191.7M1499.8,2200.1 1499.6,2200.6 1499.1,2200.6 1498.9,2200.1 1499.1,2199.5 1499.6,2199.5 1499.8,2200.1M1503.8,2187.6 1504.1,2185.9 1504.7,2184.4 1505.7,2183.4 1507.0,2182.8 1508.3,2182.8 1509.5,2183.4 1510.5,2184.4 1511.2,2185.9 1511.4,2187.6 1511.4,2195.8 1511.2,2197.5 1510.5,2199.0 1509.5,2200.0 1508.3,2200.6 1507.0,2200.6 1505.7,2200.0 1504.7,2199.0 1504.1,2197.5 1503.8,2195.8 1503.8,2187.6M1521.5,2200.7 1521.5,2182.7 1515.5,2194.9 1524.1,2194.9M1528.7,2200.1 1528.5,2200.6 1528.1,2200.6 1527.9,2200.1 1528.1,2199.5 1528.5,2199.5 1528.7,2200.1M1532.8,2185.8 1535.8,2182.7 1535.8,2200.7M1541.0,2200.1 1540.7,2200.6 1540.3,2200.6 1540.1,2200.1 1540.3,2199.5 1540.7,2199.5 1541.0,2200.1M1545.0,2187.6 1545.2,2185.9 1545.9,2184.4 1546.9,2183.4 1548.1,2182.8 1549.5,2182.8 1550.7,2183.4 1551.7,2184.4 1552.4,2185.9 1552.6,2187.6 1552.6,2195.8 1552.4,2197.5 1551.7,2199.0 1550.7,2200.0 1549.5,2200.6 1548.1,2200.6 1546.9,2200.0 1545.9,2199.0 1545.2,2197.5 1545.0,2195.8 1545.0,2187.6M1556.7,2187.6 1557.0,2185.9 1557.6,2184.4 1558.6,2183.4 1559.9,2182.8 1561.2,2182.8 1562.4,2183.4 1563.4,2184.4 1564.1,2185.9 1564.3,2187.6 1564.3,2195.8 1564.1,2197.5 1563.4,2199.0 1562.4,2200.0 1561.2,2200.6 1559.9,2200.6 1558.6,2200.0 1557.6,2199.0 1557.0,2197.5 1556.7,2195.8 1556.7,2187.6M1569.2,2200.1 1569.0,2200.6 1568.6,2200.6 1568.4,2200.1 1568.6,2199.5 1569.0,2199.5 1569.2,2200.1M1579.4,2182.8 1577.0,2184.1 1575.0,2186.7 1573.7,2190.2 1573.3,2194.2 1573.3,2195.7 1573.5,2193.8 1574.2,2192.3 1575.4,2191.1 1576.7,2190.6 1578.1,2190.8 1579.3,2191.6 1580.3,2193.0 1580.8,2194.7 1580.8,2196.6 1580.3,2198.3 1579.3,2199.7 1578.1,2200.5 1576.7,2200.7 1575.4,2200.2 1574.2,2199.1 1573.5,2197.5 1573.3,2195.7M1585.0,2185.8 1588.0,2182.7 1588.0,2200.7M1593.2,2200.1 1593.0,2200.6 1592.5,2200.6 1592.3,2200.1 1592.5,2199.5 1593.0,2199.5 1593.2,2200.1M1597.2,2187.6 1597.5,2185.9 1598.1,2184.4 1599.1,2183.4 1600.4,2182.8 1601.7,2182.8 1602.9,2183.4 1603.9,2184.4 1604.6,2185.9 1604.8,2187.6 1604.8,2195.8 1604.6,2197.5 1603.9,2199.0 1602.9,2200.0 1601.7,2200.6 1600.4,2200.6 1599.1,2200.0 1598.1,2199.0 1597.5,2197.5 1597.2,2195.8 1597.2,2187.6" fill="none" stroke="#2e2e2e" stroke-width="1.5" stroke-linecap="round" stroke-linejoin="round"/>
<rect x="1508" y="2247" width="179.0" height="55.0" fill="none" stroke="#3a3a3a" stroke-width="1.6"/>
<line x1="1559.5" y1="2247" x2="1559.5" y2="2302" stroke="#3a3a3a" stroke-width="1.6"/>
<path d="M1516.4,2265.4 1517.3,2263.0 1518.9,2261.1 1520.9,2260.0 1523.1,2259.8 1525.3,2260.6 1527.0,2262.3 1528.2,2264.7 1528.6,2267.3 1528.2,2270.0 1516.0,2289.2 1529.1,2289.2M1548.5,2268.0 1548.0,2271.0 1546.8,2273.6 1545.0,2275.4 1542.7,2276.2 1540.4,2276.0 1538.3,2274.6 1536.8,2272.4 1535.9,2269.5 1535.9,2266.5 1536.8,2263.7 1538.3,2261.4 1540.4,2260.1 1542.7,2259.8 1545.0,2260.6 1546.8,2262.4 1548.0,2265.0 1548.5,2268.0 1548.5,2270.4 1547.7,2277.0 1545.5,2282.8 1542.2,2287.0 1538.2,2289.1" fill="none" stroke="#2e2e2e" stroke-width="1.6" stroke-linecap="round" stroke-linejoin="round"/>
<path d="M1598.4,2254.6 1597.7,2253.3 1596.5,2252.4 1595.2,2252.0 1593.8,2252.2 1592.6,2252.9 1591.7,2254.1 1591.2,2255.6 1591.1,2257.2 1591.6,2258.7 1592.4,2259.9 1593.6,2260.7 1595.0,2261.0 1594.8,2261.0 1596.3,2261.3 1597.5,2262.1 1598.4,2263.3 1598.9,2264.8 1598.9,2266.4 1598.3,2267.9 1597.3,2269.1 1596.0,2269.8 1594.5,2270.0 1593.1,2269.6 1591.9,2268.7 1591.0,2267.4M1611.5,2255.8 1610.4,2253.6 1608.9,2252.3 1607.3,2252.1 1605.8,2253.0 1604.5,2255.0 1603.7,2257.8 1603.4,2261.0 1603.7,2264.2 1604.5,2267.0 1605.8,2269.0 1607.3,2269.9 1608.9,2269.7 1610.4,2268.4 1611.5,2266.2M1616.0,2270.0 1616.0,2252.0 1620.3,2252.0 1620.3,2252.0 1621.6,2252.3 1622.7,2253.1 1623.5,2254.4 1624.0,2255.9 1624.0,2257.6 1623.5,2259.2 1622.7,2260.4 1621.6,2261.3 1620.3,2261.5 1616.0,2261.5M1620.0,2261.5 1624.3,2270.0M1636.2,2252.0 1628.8,2252.0 1628.8,2270.0 1636.2,2270.0M1628.8,2261.0 1634.4,2261.0M1640.6,2252.0 1643.3,2270.0 1646.0,2254.2 1648.6,2270.0 1651.3,2252.0" fill="none" stroke="#2e2e2e" stroke-width="1.5" stroke-linecap="round" stroke-linejoin="round"/>
<path d="M1574.2,2279.8 1573.2,2277.6 1571.8,2276.3 1570.4,2276.1 1569.0,2277.0 1567.9,2279.0 1567.2,2281.8 1566.9,2285.0 1567.2,2288.2 1567.9,2291.0 1569.0,2293.0 1570.4,2293.9 1571.8,2293.7 1573.2,2292.4 1574.2,2290.2M1579.0,2293.4 1578.8,2293.9 1578.4,2293.9 1578.2,2293.4 1578.4,2292.8 1578.8,2292.8 1579.0,2293.4M1582.9,2280.9 1583.1,2279.2 1583.8,2277.7 1584.7,2276.7 1585.9,2276.1 1587.2,2276.1 1588.4,2276.7 1589.4,2277.7 1590.0,2279.2 1590.2,2280.9 1590.2,2289.1 1590.0,2290.8 1589.4,2292.3 1588.4,2293.3 1587.2,2293.9 1585.9,2293.9 1584.7,2293.3 1583.8,2292.3 1583.1,2290.8 1582.9,2289.1 1582.9,2280.9M1601.2,2280.5 1601.0,2282.1 1600.4,2283.5 1599.4,2284.5 1598.3,2285.0 1597.1,2284.8 1596.1,2284.1 1595.3,2282.9 1594.8,2281.3 1594.8,2279.7 1595.3,2278.1 1596.1,2276.9 1597.1,2276.2 1598.3,2276.0 1599.4,2276.5 1600.4,2277.5 1601.0,2278.9 1601.2,2280.5M1601.7,2289.4 1601.5,2291.1 1600.7,2292.5 1599.6,2293.5 1598.3,2294.0 1597.0,2293.8 1595.7,2293.1 1594.8,2291.8 1594.3,2290.3 1594.3,2288.6 1594.8,2287.0 1595.7,2285.7 1597.0,2285.0 1598.3,2284.8 1599.6,2285.3 1600.7,2286.3 1601.5,2287.8 1601.7,2289.4M1606.5,2293.4 1606.3,2293.9 1605.9,2293.9 1605.7,2293.4 1605.9,2292.8 1606.3,2292.8 1606.5,2293.4M1610.4,2279.1 1613.3,2276.0 1613.3,2294.0M1618.3,2293.4 1618.1,2293.9 1617.7,2293.9 1617.5,2293.4 1617.7,2292.8 1618.1,2292.8 1618.3,2293.4M1622.3,2280.9 1622.5,2279.2 1623.1,2277.7 1624.1,2276.7 1625.3,2276.1 1626.6,2276.1 1627.8,2276.7 1628.7,2277.7 1629.4,2279.2 1629.6,2280.9 1629.6,2289.1 1629.4,2290.8 1628.7,2292.3 1627.8,2293.3 1626.6,2293.9 1625.3,2293.9 1624.1,2293.3 1623.1,2292.3 1622.5,2290.8 1622.3,2289.1 1622.3,2280.9M1633.6,2280.9 1633.8,2279.2 1634.5,2277.7 1635.4,2276.7 1636.6,2276.1 1637.9,2276.1 1639.1,2276.7 1640.1,2277.7 1640.7,2279.2 1640.9,2280.9 1640.9,2289.1 1640.7,2290.8 1640.1,2292.3 1639.1,2293.3 1637.9,2293.9 1636.6,2293.9 1635.4,2293.3 1634.5,2292.3 1633.8,2290.8 1633.6,2289.1 1633.6,2280.9M1645.7,2293.4 1645.5,2293.9 1645.1,2293.9 1644.9,2293.4 1645.1,2292.8 1645.5,2292.8 1645.7,2293.4M1650.0,2276.0 1656.7,2276.0 1652.3,2283.2 1652.4,2282.9 1653.8,2282.9 1655.1,2283.7 1656.2,2285.0 1656.8,2286.8 1656.9,2288.8 1656.6,2290.8 1655.8,2292.4 1654.6,2293.5 1653.3,2294.0 1651.9,2293.7 1650.6,2292.7 1649.7,2291.2M1661.4,2276.0 1668.0,2276.0 1663.6,2283.2 1663.8,2282.9 1665.1,2282.9 1666.5,2283.7 1667.5,2285.0 1668.1,2286.8 1668.3,2288.8 1667.9,2290.8 1667.1,2292.4 1666.0,2293.5 1664.6,2294.0 1663.2,2293.7 1662.0,2292.7 1661.1,2291.2M1673.0,2293.4 1672.8,2293.9 1672.4,2293.9 1672.2,2293.4 1672.4,2292.8 1672.8,2292.8 1673.0,2293.4M1677.0,2280.9 1677.2,2279.2 1677.8,2277.7 1678.8,2276.7 1680.0,2276.1 1681.3,2276.1 1682.5,2276.7 1683.4,2277.7 1684.1,2279.2 1684.3,2280.9 1684.3,2289.1 1684.1,2290.8 1683.4,2292.3 1682.5,2293.3 1681.3,2293.9 1680.0,2293.9 1678.8,2293.3 1677.8,2292.3 1677.2,2290.8 1677.0,2289.1 1677.0,2280.9" fill="none" stroke="#2e2e2e" stroke-width="1.5" stroke-linecap="round" stroke-linejoin="round"/>
<rect x="1592.4" y="2335.9" width="179.6" height="72.9" fill="none" stroke="#3a3a3a" stroke-width="1.6"/>
<line x1="1643" y1="2335.9" x2="1643" y2="2408.8" stroke="#3a3a3a" stroke-width="1.6"/>
<path d="M1610.3,2356.9 1622.4,2356.9 1614.4,2369.3 1614.6,2368.8 1617.2,2368.8 1619.5,2370.1 1621.4,2372.4 1622.6,2375.5 1622.8,2378.9 1622.2,2382.3 1620.7,2385.1 1618.6,2387.1 1616.1,2387.8 1613.6,2387.4 1611.4,2385.7 1609.8,2383.0" fill="none" stroke="#2e2e2e" stroke-width="1.6" stroke-linecap="round" stroke-linejoin="round"/>
<path d="M1652.6,2340.8 1652.6,2357.8 1655.4,2357.8 1655.4,2357.8 1656.8,2357.3 1658.1,2355.8 1659.1,2353.5 1659.6,2350.7 1659.6,2347.8 1659.1,2345.0 1658.1,2342.8 1656.8,2341.3 1655.4,2340.8 1652.6,2340.8M1663.4,2357.8 1667.2,2340.8 1671.0,2357.8M1664.7,2352.3 1669.7,2352.3M1674.7,2340.8 1681.8,2340.8M1678.3,2340.8 1678.3,2357.8M1685.6,2357.8 1689.3,2340.8 1693.1,2357.8M1686.8,2352.3 1691.8,2352.3M1706.3,2349.3 1706.3,2340.8 1709.8,2340.8 1709.8,2340.8 1710.8,2341.0 1711.7,2341.8 1712.3,2342.9 1712.7,2344.3 1712.7,2345.8 1712.3,2347.1 1711.7,2348.3 1710.8,2349.0 1709.8,2349.3 1706.3,2349.3M1710.1,2349.3 1710.1,2349.3 1711.2,2349.5 1712.1,2350.3 1712.8,2351.4 1713.2,2352.8 1713.2,2354.3 1712.8,2355.6 1712.1,2356.8 1711.2,2357.5 1710.1,2357.8 1706.3,2357.8 1706.3,2349.3M1717.0,2357.8 1720.8,2340.8 1724.6,2357.8M1718.3,2352.3 1723.3,2352.3M1728.3,2340.8 1728.3,2357.8 1731.1,2357.8 1731.1,2357.8 1732.6,2357.3 1733.8,2355.8 1734.8,2353.5 1735.3,2350.7 1735.3,2347.8 1734.8,2345.0 1733.8,2342.8 1732.6,2341.3 1731.1,2340.8 1728.3,2340.8M1746.0,2344.4 1745.0,2342.1 1743.6,2340.9 1742.2,2340.9 1740.9,2342.1 1739.8,2344.3 1739.2,2347.3 1739.2,2350.5 1739.7,2353.6 1740.6,2356.0 1741.9,2357.5 1743.3,2357.7 1744.7,2356.8 1745.8,2354.7 1746.4,2350.1 1743.3,2350.1M1756.5,2340.8 1750.2,2340.8 1750.2,2357.8 1756.5,2357.8M1750.2,2349.3 1755.0,2349.3" fill="none" stroke="#2e2e2e" stroke-width="1.5" stroke-linecap="round" stroke-linejoin="round"/>
<path d="M1650.7,2367.4 1649.8,2365.4 1648.7,2364.2 1647.4,2364.1 1646.3,2364.9 1645.3,2366.7 1644.6,2369.2 1644.4,2372.0 1644.6,2374.8 1645.3,2377.3 1646.3,2379.1 1647.4,2379.9 1648.7,2379.8 1649.8,2378.6 1650.7,2376.6M1654.9,2379.4 1654.7,2379.9 1654.4,2379.9 1654.2,2379.4 1654.4,2379.0 1654.7,2379.0 1654.9,2379.4M1658.3,2368.3 1658.5,2366.8 1659.1,2365.5 1659.9,2364.6 1661.0,2364.1 1662.1,2364.1 1663.1,2364.6 1664.0,2365.5 1664.5,2366.8 1664.7,2368.3 1664.7,2375.7 1664.5,2377.2 1664.0,2378.5 1663.1,2379.4 1662.1,2379.9 1661.0,2379.9 1659.9,2379.4 1659.1,2378.5 1658.5,2377.2 1658.3,2375.7 1658.3,2368.3M1674.2,2368.0 1674.0,2369.4 1673.5,2370.7 1672.7,2371.6 1671.7,2372.0 1670.7,2371.9 1669.8,2371.2 1669.1,2370.1 1668.7,2368.7 1668.7,2367.3 1669.1,2365.9 1669.8,2364.8 1670.7,2364.2 1671.7,2364.0 1672.7,2364.4 1673.5,2365.3 1674.0,2366.6 1674.2,2368.0M1674.7,2375.9 1674.5,2377.4 1673.8,2378.7 1672.9,2379.6 1671.7,2380.0 1670.6,2379.8 1669.5,2379.2 1668.7,2378.1 1668.2,2376.7 1668.2,2375.2 1668.7,2373.8 1669.5,2372.7 1670.6,2372.0 1671.7,2371.9 1672.9,2372.3 1673.8,2373.2 1674.5,2374.5 1674.7,2375.9M1678.8,2379.4 1678.6,2379.9 1678.3,2379.9 1678.1,2379.4 1678.3,2379.0 1678.6,2379.0 1678.8,2379.4M1682.2,2366.7 1684.8,2364.0 1684.8,2380.0M1689.1,2379.4 1689.0,2379.9 1688.6,2379.9 1688.4,2379.4 1688.6,2379.0 1689.0,2379.0 1689.1,2379.4M1692.6,2368.3 1692.8,2366.8 1693.3,2365.5 1694.2,2364.6 1695.2,2364.1 1696.3,2364.1 1697.4,2364.6 1698.2,2365.5 1698.8,2366.8 1698.9,2368.3 1698.9,2375.7 1698.8,2377.2 1698.2,2378.5 1697.4,2379.4 1696.3,2379.9 1695.2,2379.9 1694.2,2379.4 1693.3,2378.5 1692.8,2377.2 1692.6,2375.7 1692.6,2368.3M1702.4,2368.3 1702.6,2366.8 1703.2,2365.5 1704.0,2364.6 1705.1,2364.1 1706.2,2364.1 1707.2,2364.6 1708.1,2365.5 1708.6,2366.8 1708.8,2368.3 1708.8,2375.7 1708.6,2377.2 1708.1,2378.5 1707.2,2379.4 1706.2,2379.9 1705.1,2379.9 1704.0,2379.4 1703.2,2378.5 1702.6,2377.2 1702.4,2375.7 1702.4,2368.3M1712.9,2379.4 1712.8,2379.9 1712.4,2379.9 1712.2,2379.4 1712.4,2379.0 1712.8,2379.0 1712.9,2379.4M1716.4,2368.3 1716.5,2366.8 1717.1,2365.5 1717.9,2364.6 1719.0,2364.1 1720.1,2364.1 1721.1,2364.6 1722.0,2365.5 1722.5,2366.8 1722.7,2368.3 1722.7,2375.7 1722.5,2377.2 1722.0,2378.5 1721.1,2379.4 1720.1,2379.9 1719.0,2379.9 1717.9,2379.4 1717.1,2378.5 1716.5,2377.2 1716.4,2375.7 1716.4,2368.3M1726.2,2366.7 1728.8,2364.0 1728.8,2380.0M1733.1,2379.4 1733.0,2379.9 1732.6,2379.9 1732.4,2379.4 1732.6,2379.0 1733.0,2379.0 1733.1,2379.4M1736.5,2368.3 1736.7,2366.8 1737.3,2365.5 1738.1,2364.6 1739.2,2364.1 1740.3,2364.1 1741.3,2364.6 1742.2,2365.5 1742.7,2366.8 1742.9,2368.3 1742.9,2375.7 1742.7,2377.2 1742.2,2378.5 1741.3,2379.4 1740.3,2379.9 1739.2,2379.9 1738.1,2379.4 1737.3,2378.5 1736.7,2377.2 1736.5,2375.7 1736.5,2368.3M1746.4,2373.0 1750.8,2373.0M1754.3,2380.0 1754.3,2364.0 1760.7,2380.0 1760.7,2364.0M1770.5,2367.4 1769.6,2365.3 1768.3,2364.2 1767.0,2364.1 1765.8,2365.3 1764.8,2367.4 1764.3,2370.1 1764.2,2373.2 1764.6,2376.1 1765.5,2378.3 1766.7,2379.7 1768.0,2380.0 1769.3,2379.1 1770.3,2377.1 1770.9,2372.8 1768.0,2372.8" fill="none" stroke="#2e2e2e" stroke-width="1.5" stroke-linecap="round" stroke-linejoin="round"/>
<path d="M1650.2,2389.3 1649.4,2387.3 1648.3,2386.1 1647.2,2385.9 1646.1,2386.8 1645.2,2388.6 1644.6,2391.0 1644.4,2393.9 1644.6,2396.7 1645.2,2399.2 1646.1,2400.9 1647.2,2401.8 1648.3,2401.7 1649.4,2400.5 1650.2,2398.5M1654.0,2401.3 1653.9,2401.8 1653.6,2401.8 1653.4,2401.3 1653.6,2400.8 1653.9,2400.8 1654.0,2401.3M1657.2,2390.2 1657.4,2388.7 1657.9,2387.4 1658.6,2386.5 1659.6,2385.9 1660.6,2385.9 1661.6,2386.5 1662.4,2387.4 1662.9,2388.7 1663.0,2390.2 1663.0,2397.6 1662.9,2399.0 1662.4,2400.3 1661.6,2401.3 1660.6,2401.8 1659.6,2401.8 1658.6,2401.3 1657.9,2400.3 1657.4,2399.0 1657.2,2397.6 1657.2,2390.2M1671.8,2389.9 1671.6,2391.3 1671.1,2392.6 1670.4,2393.5 1669.5,2393.9 1668.5,2393.7 1667.7,2393.1 1667.0,2392.0 1666.7,2390.6 1666.7,2389.1 1667.0,2387.8 1667.7,2386.7 1668.5,2386.0 1669.5,2385.9 1670.4,2386.3 1671.1,2387.2 1671.6,2388.4 1671.8,2389.9M1672.2,2397.8 1672.0,2399.3 1671.4,2400.5 1670.5,2401.4 1669.5,2401.9 1668.4,2401.7 1667.4,2401.1 1666.7,2399.9 1666.3,2398.5 1666.3,2397.0 1666.7,2395.6 1667.4,2394.5 1668.4,2393.9 1669.5,2393.7 1670.5,2394.1 1671.4,2395.0 1672.0,2396.3 1672.2,2397.8M1676.0,2401.3 1675.8,2401.8 1675.5,2401.8 1675.3,2401.3 1675.5,2400.8 1675.8,2400.8 1676.0,2401.3M1679.1,2388.6 1681.5,2385.9 1681.5,2401.9M1685.5,2401.3 1685.3,2401.8 1685.0,2401.8 1684.8,2401.3 1685.0,2400.8 1685.3,2400.8 1685.5,2401.3M1688.6,2390.2 1688.8,2388.7 1689.3,2387.4 1690.1,2386.5 1691.0,2385.9 1692.0,2385.9 1693.0,2386.5 1693.8,2387.4 1694.3,2388.7 1694.5,2390.2 1694.5,2397.6 1694.3,2399.0 1693.8,2400.3 1693.0,2401.3 1692.0,2401.8 1691.0,2401.8 1690.1,2401.3 1689.3,2400.3 1688.8,2399.0 1688.6,2397.6 1688.6,2390.2M1697.7,2390.2 1697.8,2388.7 1698.3,2387.4 1699.1,2386.5 1700.1,2385.9 1701.1,2385.9 1702.0,2386.5 1702.8,2387.4 1703.3,2388.7 1703.5,2390.2 1703.5,2397.6 1703.3,2399.0 1702.8,2400.3 1702.0,2401.3 1701.1,2401.8 1700.1,2401.8 1699.1,2401.3 1698.3,2400.3 1697.8,2399.0 1697.7,2397.6 1697.7,2390.2M1707.3,2401.3 1707.1,2401.8 1706.8,2401.8 1706.7,2401.3 1706.8,2400.8 1707.1,2400.8 1707.3,2401.3M1710.8,2385.9 1716.1,2385.9 1712.6,2392.3 1712.7,2392.0 1713.8,2392.0 1714.8,2392.7 1715.7,2393.9 1716.2,2395.5 1716.3,2397.3 1716.0,2399.0 1715.4,2400.5 1714.4,2401.5 1713.3,2401.9 1712.2,2401.6 1711.3,2400.8 1710.5,2399.4M1725.0,2385.9 1720.2,2385.9 1719.9,2393.2 1719.9,2393.7 1720.7,2392.4 1721.8,2391.7 1722.9,2391.7 1724.0,2392.4 1724.8,2393.7 1725.3,2395.4 1725.3,2397.3 1724.9,2399.1 1724.2,2400.5 1723.2,2401.4 1722.0,2401.5 1721.0,2401.0 1720.1,2399.8M1729.1,2401.3 1729.0,2401.8 1728.7,2401.8 1728.5,2401.3 1728.7,2400.8 1729.0,2400.8 1729.1,2401.3M1732.3,2390.2 1732.4,2388.7 1733.0,2387.4 1733.7,2386.5 1734.7,2385.9 1735.7,2385.9 1736.7,2386.5 1737.4,2387.4 1738.0,2388.7 1738.1,2390.2 1738.1,2397.6 1738.0,2399.0 1737.4,2400.3 1736.7,2401.3 1735.7,2401.8 1734.7,2401.8 1733.7,2401.3 1733.0,2400.3 1732.4,2399.0 1732.3,2397.6 1732.3,2390.2M1741.3,2394.8 1745.4,2394.8M1748.6,2385.9 1748.6,2401.9 1753.7,2401.9M1756.9,2401.9 1756.9,2385.9 1760.0,2385.9 1760.0,2385.9 1760.9,2386.1 1761.7,2386.9 1762.3,2388.0 1762.6,2389.4 1762.6,2390.9 1762.3,2392.2 1761.7,2393.4 1760.9,2394.1 1760.0,2394.4 1756.9,2394.4M1771.6,2389.3 1770.8,2387.2 1769.6,2386.0 1768.4,2386.0 1767.3,2387.1 1766.4,2389.2 1765.9,2392.0 1765.9,2395.1 1766.3,2397.9 1767.1,2400.2 1768.1,2401.6 1769.4,2401.8 1770.5,2400.9 1771.5,2399.0 1772.0,2394.7 1769.3,2394.7" fill="none" stroke="#2e2e2e" stroke-width="1.5" stroke-linecap="round" stroke-linejoin="round"/>
<path d="M356.0,1029.0 L363.0,1890.0" fill="none" stroke="#3a3a3a" stroke-width="1.6" stroke-dasharray="12 7"/>
<path d="M285.6,1599.0 L66.0,1474.6 L67.6,1776.0 L288.0,1897.4 L286.5,1750.0" fill="none" stroke="#3a3a3a" stroke-width="1.6" stroke-dasharray="12 7"/>
<path d="M285.6,1599.0 L286.5,1750.0" fill="none" stroke="#3a3a3a" stroke-width="1.6"/>
<path d="M365.0,1893.0 L286.8,1937.0 L322.5,1958.2 L404.3,1911.7 L458.6,1943.4 L405.8,1972.0 L611.0,2088.2 L582.3,2106.3 L626.1,2130.4 L709.1,2086.7 L838.8,2157.6 L779.7,2192.6 L845.6,2228.7 L906.8,2195.7 L975.2,2235.0" fill="none" stroke="#3a3a3a" stroke-width="1.6" stroke-dasharray="12 7"/>
<path d="M403,1934.5 a3.5,2.5 0 1 0 0,5" fill="none" stroke="#3a3a3a" stroke-width="1.2"/>
<path d="M741,2126.5 a3.5,2.5 0 1 0 0,5" fill="none" stroke="#3a3a3a" stroke-width="1.2"/>
<path d="M378.7,2012.8 L405.8,1999.2 L467.7,2029.4 L439.0,2046.0 Z" fill="none" stroke="#3a3a3a" stroke-width="1.5" stroke-dasharray="10 6"/>
<path d="M472.2,2064.0 L499.4,2050.5 L558.2,2082.2 L531.0,2097.3 Z" fill="none" stroke="#3a3a3a" stroke-width="1.5" stroke-dasharray="10 6"/>
<path d="M756.1,2225.5 L782.8,2209.8 L844.0,2244.3 L817.3,2260.0 Z" fill="none" stroke="#3a3a3a" stroke-width="1.5" stroke-dasharray="10 6"/>
<path d="M544.3,2293.0 L614.9,2253.8 L749.9,2327.5 L679.3,2368.3 Z" fill="none" stroke="#3a3a3a" stroke-width="1.5" stroke-dasharray="12 7"/>
<path d="M32.0,1217.0 L356.0,1029.0 L540.4,1132.4 L462.0,1179.5 L531.8,1219.5 L611.8,1173.2 L845.7,1304.0 L767.6,1350.7 L837.0,1390.8 L919.0,1346.5 L968.0,1374.0" fill="none" stroke="#3a3a3a" stroke-width="1.6"/>
<path d="M32.0,1217.0 L643.0,1563.0 L968.0,1374.0" fill="none" stroke="#3a3a3a" stroke-width="1.6"/>
<path d="M32.0,1217.0 L37.0,2076.0 L649.5,2423.2 L975.2,2235.0 L970.0,1374.0" fill="none" stroke="#3a3a3a" stroke-width="1.6"/>
<path d="M643.0,1563.0 L649.5,2423.2" fill="none" stroke="#3a3a3a" stroke-width="1.6"/>
<ellipse cx="630" cy="1197.7" rx="6.5" ry="4" fill="none" stroke="#3a3a3a" stroke-width="1.3"/>
<ellipse cx="727.4" cy="1252.6" rx="6.5" ry="4" fill="none" stroke="#3a3a3a" stroke-width="1.3"/>
<ellipse cx="942" cy="1373" rx="6.5" ry="4" fill="none" stroke="#3a3a3a" stroke-width="1.3"/>
<path d="M410.0,1207.5 L440.0,1192.5 L514.0,1235.0 L484.0,1250.0 Z" fill="none" stroke="#3a3a3a" stroke-width="1.4"/>
<path d="M721.0,1382.0 L746.5,1369.7 L824.6,1412.0 L797.0,1426.7 Z" fill="none" stroke="#3a3a3a" stroke-width="1.4"/>
<path d="M679.0,1406.0 L704.0,1392.0 L784.5,1435.0 L759.0,1450.0 Z" fill="none" stroke="#3a3a3a" stroke-width="1.4"/>
<path d="M457.0,1534.5 L577.5,1602.0 L577.5,1702.0 L458.0,1636.7 Z" fill="none" stroke="#3a3a3a" stroke-width="1.4"/>
<path d="M168,1590 C166,1565 185,1535 243,1531 C275,1530 300,1540 318,1556 C338,1575 333,1610 331,1641 C329,1670 333,1700 310,1718 C292,1731 268,1726 255,1710 C245,1690 242,1676 226,1667 C205,1655 185,1645 175,1627 C169,1615 168,1600 168,1590 Z" fill="none" stroke="#3a3a3a" stroke-width="1.4"/>
<ellipse cx="558.2" cy="2260" rx="53.3" ry="77" fill="none" stroke="#3a3a3a" stroke-width="1.4" transform="rotate(-20.8 558.2 2260)"/>
<path d="M114.9,1909.0 L114.9,2018.5" fill="none" stroke="#3a3a3a" stroke-width="1.4"/>
<path d="M121.6,1884.5 L121.6,2013.0" fill="none" stroke="#3a3a3a" stroke-width="1.4"/>
<path d="M131.6,1900.0 L131.6,2006.0" fill="none" stroke="#3a3a3a" stroke-width="1.4"/>
<path d="M141.7,1903.5 L141.7,2001.7" fill="none" stroke="#3a3a3a" stroke-width="1.4"/>
<path d="M121.6,1884.5 L131.6,1879.0 L139.5,1883.4" fill="none" stroke="#3a3a3a" stroke-width="1.3"/>
<path d="M131.6,1900.0 L141.7,1904.6" fill="none" stroke="#3a3a3a" stroke-width="1.3"/>
<path d="M114.9,1909 L239.9,1977.2 C262,1990 280,2015 286,2045 C290,2068 284,2086 269,2095.5" fill="none" stroke="#3a3a3a" stroke-width="1.4"/>
<path d="M114.9,2018.5 L264.5,2094.4" fill="none" stroke="#3a3a3a" stroke-width="1.4"/>
<path d="M121.6,2013.0 L277.9,2090.0" fill="none" stroke="#3a3a3a" stroke-width="1.4"/>
<path d="M131.6,2006.0 L286.8,2082.0" fill="none" stroke="#3a3a3a" stroke-width="1.4"/>
<path d="M141.7,2001.7 L291.3,2078.0" fill="none" stroke="#3a3a3a" stroke-width="1.4"/>
<path d="M132.7,1880 L253.3,1946 C285,1965 305,2000 313,2035 C318,2065 308,2088 278,2098" fill="none" stroke="#3a3a3a" stroke-width="1.3" stroke-dasharray="9 5"/>
<path d="M141.7,1894.6 L244.4,1954.9 C275,1975 294,2005 301,2038 C305,2062 298,2080 282,2093" fill="none" stroke="#3a3a3a" stroke-width="1.3" stroke-dasharray="9 5"/>
<path d="M141.7,1906.8 L234,1960 C262,1978 282,2008 290,2040 C294,2062 290,2080 280,2090" fill="none" stroke="#3a3a3a" stroke-width="1.3" stroke-dasharray="9 5"/>
<path d="M37.0,2076.0 L115.0,2031.5" fill="none" stroke="#3a3a3a" stroke-width="1.6" stroke-dasharray="10 6"/>
<path d="M115.0,2031.5 L231.0,1966.0" fill="none" stroke="#3a3a3a" stroke-width="1.4"/>
<path d="M231.0,1966.0 L365.0,1890.0" fill="none" stroke="#3a3a3a" stroke-width="1.6" stroke-dasharray="10 6"/>
<path d="M481.6,1033.5 L1033.4,1344.3" fill="none" stroke="#3a3a3a" stroke-width="1.6"/>
<path d="M473.7,1038.2 L1024.9,1350.1" fill="none" stroke="#3a3a3a" stroke-width="1.6"/>
<path d="M481.6,1054.7 L1016.7,1357.6" fill="none" stroke="#3a3a3a" stroke-width="1.6"/>
<path d="M473.7,1038.2 L481.6,1033.5" fill="none" stroke="#3a3a3a" stroke-width="1.5"/>
<path d="M1024.9,1350.1 L1033.4,1344.3" fill="none" stroke="#3a3a3a" stroke-width="1.5"/>
<path d="M473.7,1038.2 L473.7,1095.6" fill="none" stroke="#3a3a3a" stroke-width="1.6"/>
<path d="M473.7,1095.6 L478.7,1812.4" fill="none" stroke="#3a3a3a" stroke-width="1.4" stroke-dasharray="12 7"/>
<path d="M481.6,1054.7 L481.6,1100.1" fill="none" stroke="#3a3a3a" stroke-width="1.6"/>
<path d="M481.6,1100.1 L486.6,1805.2" fill="none" stroke="#3a3a3a" stroke-width="1.4" stroke-dasharray="12 7"/>
<path d="M491.0,1060.2 L491.0,1105.4" fill="none" stroke="#3a3a3a" stroke-width="1.6"/>
<path d="M491.0,1105.4 L496.0,1799.7" fill="none" stroke="#3a3a3a" stroke-width="1.4" stroke-dasharray="12 7"/>
<path d="M486.6,1805.2 L495.8,1799.7" fill="none" stroke="#3a3a3a" stroke-width="1.3" stroke-dasharray="6 4"/>
<path d="M479.1,1812.4 L974.5,2093.1" fill="none" stroke="#3a3a3a" stroke-width="1.4" stroke-dasharray="12 7"/>
<path d="M974.5,2093.1 L1030.0,2124.6" fill="none" stroke="#3a3a3a" stroke-width="1.6"/>
<path d="M486.6,1805.2 L974.5,2080.8" fill="none" stroke="#3a3a3a" stroke-width="1.4" stroke-dasharray="12 7"/>
<path d="M974.5,2080.8 L1022.2,2107.7" fill="none" stroke="#3a3a3a" stroke-width="1.6"/>
<path d="M495.8,1799.7 L974.5,2070.7" fill="none" stroke="#3a3a3a" stroke-width="1.4" stroke-dasharray="12 7"/>
<path d="M974.5,2070.7 L1021.6,2097.4" fill="none" stroke="#3a3a3a" stroke-width="1.6"/>
<path d="M1033.4,1344.3 L1039.4,2119.7" fill="none" stroke="#3a3a3a" stroke-width="1.6"/>
<path d="M1024.9,1350.1 L1030.0,2124.6" fill="none" stroke="#3a3a3a" stroke-width="1.6"/>
<path d="M1016.7,1357.6 L1021.6,2107.7" fill="none" stroke="#3a3a3a" stroke-width="1.6"/>
<path d="M1030.0,2124.6 L1039.4,2119.7" fill="none" stroke="#3a3a3a" stroke-width="1.4"/>
<path d="M1059.2,619.2 L1149.5,568.0 L1762.6,915.5 L1672.3,965.6 L1059.2,619.2" fill="none" stroke="#3a3a3a" stroke-width="1.6"/>
<path d="M1059.2,619.2 L1065.0,1480.4 L1677.6,1824.2 L1769.3,1773.5 L1762.6,915.5" fill="none" stroke="#3a3a3a" stroke-width="1.6"/>
<path d="M1672.3,965.6 L1677.6,1824.2" fill="none" stroke="#3a3a3a" stroke-width="1.6"/>
<path d="M1150.4,673.0 L1155.2,1429.0 L1065.0,1480.4" fill="none" stroke="#3a3a3a" stroke-width="1.6"/>
<path d="M1155.2,1429.0 L1676.4,1720.4" fill="none" stroke="#3a3a3a" stroke-width="1.6"/>
<ellipse cx="1089.4" cy="913.5" rx="8.3" ry="11.5" fill="none" stroke="#3a3a3a" stroke-width="1.3" transform="rotate(20 1089.4 913.5)"/>
<ellipse cx="1128.2" cy="943.2" rx="8.3" ry="11.5" fill="none" stroke="#3a3a3a" stroke-width="1.3" transform="rotate(20 1128.2 943.2)"/>
<ellipse cx="1089.8" cy="1024" rx="8.3" ry="11.5" fill="none" stroke="#3a3a3a" stroke-width="1.3" transform="rotate(20 1089.8 1024)"/>
<ellipse cx="1128.7" cy="1057.6" rx="8.3" ry="11.5" fill="none" stroke="#3a3a3a" stroke-width="1.3" transform="rotate(20 1128.7 1057.6)"/>
<path d="M1159.5,897.0 L1181.5,909.0 L1181.5,947.0 L1159.5,935.0 Z" fill="#fefefe" stroke="#3a3a3a" stroke-width="1.3"/>
<path d="M1165.5,908.8 L1175.5,914.3 L1175.5,935.2 L1165.5,929.7 Z" fill="#fefefe" stroke="#3a3a3a" stroke-width="1.1"/>
<path d="M1159.5,897.0 L1165.5,908.8" fill="none" stroke="#3a3a3a" stroke-width="1.0"/>
<path d="M1181.5,909.0 L1175.5,914.3" fill="none" stroke="#3a3a3a" stroke-width="1.0"/>
<path d="M1181.5,947.0 L1175.5,935.2" fill="none" stroke="#3a3a3a" stroke-width="1.0"/>
<path d="M1159.5,935.0 L1165.5,929.7" fill="none" stroke="#3a3a3a" stroke-width="1.0"/>
<path d="M1160.8,1023.2 L1182.8,1035.2 L1182.8,1073.2 L1160.8,1061.2 Z" fill="#fefefe" stroke="#3a3a3a" stroke-width="1.3"/>
<path d="M1166.8,1035.0 L1176.8,1040.5 L1176.8,1061.4 L1166.8,1055.9 Z" fill="#fefefe" stroke="#3a3a3a" stroke-width="1.1"/>
<path d="M1160.8,1023.2 L1166.8,1035.0" fill="none" stroke="#3a3a3a" stroke-width="1.0"/>
<path d="M1182.8,1035.2 L1176.8,1040.5" fill="none" stroke="#3a3a3a" stroke-width="1.0"/>
<path d="M1182.8,1073.2 L1176.8,1061.4" fill="none" stroke="#3a3a3a" stroke-width="1.0"/>
<path d="M1160.8,1061.2 L1166.8,1055.9" fill="none" stroke="#3a3a3a" stroke-width="1.0"/>
<path d="M1162.0,1158.0 L1184.0,1170.0 L1184.0,1208.0 L1162.0,1196.0 Z" fill="#fefefe" stroke="#3a3a3a" stroke-width="1.3"/>
<path d="M1168.0,1169.8 L1178.0,1175.3 L1178.0,1196.2 L1168.0,1190.7 Z" fill="#fefefe" stroke="#3a3a3a" stroke-width="1.1"/>
<path d="M1162.0,1158.0 L1168.0,1169.8" fill="none" stroke="#3a3a3a" stroke-width="1.0"/>
<path d="M1184.0,1170.0 L1178.0,1175.3" fill="none" stroke="#3a3a3a" stroke-width="1.0"/>
<path d="M1184.0,1208.0 L1178.0,1196.2" fill="none" stroke="#3a3a3a" stroke-width="1.0"/>
<path d="M1162.0,1196.0 L1168.0,1190.7" fill="none" stroke="#3a3a3a" stroke-width="1.0"/>
<path d="M1260.8,1422.0 L1282.8,1434.0 L1282.8,1472.0 L1260.8,1460.0 Z" fill="#fefefe" stroke="#3a3a3a" stroke-width="1.3"/>
<path d="M1266.8,1433.8 L1276.8,1439.3 L1276.8,1460.2 L1266.8,1454.7 Z" fill="#fefefe" stroke="#3a3a3a" stroke-width="1.1"/>
<path d="M1260.8,1422.0 L1266.8,1433.8" fill="none" stroke="#3a3a3a" stroke-width="1.0"/>
<path d="M1282.8,1434.0 L1276.8,1439.3" fill="none" stroke="#3a3a3a" stroke-width="1.0"/>
<path d="M1282.8,1472.0 L1276.8,1460.2" fill="none" stroke="#3a3a3a" stroke-width="1.0"/>
<path d="M1260.8,1460.0 L1266.8,1454.7" fill="none" stroke="#3a3a3a" stroke-width="1.0"/>
<path d="M1427.4,1516.4 L1449.4,1528.5 L1449.4,1566.5 L1427.4,1554.4 Z" fill="#fefefe" stroke="#3a3a3a" stroke-width="1.3"/>
<path d="M1433.5,1528.2 L1443.4,1533.7 L1443.4,1554.6 L1433.5,1549.1 Z" fill="#fefefe" stroke="#3a3a3a" stroke-width="1.1"/>
<path d="M1427.4,1516.4 L1433.5,1528.2" fill="none" stroke="#3a3a3a" stroke-width="1.0"/>
<path d="M1449.4,1528.5 L1443.4,1533.7" fill="none" stroke="#3a3a3a" stroke-width="1.0"/>
<path d="M1449.4,1566.5 L1443.4,1554.6" fill="none" stroke="#3a3a3a" stroke-width="1.0"/>
<path d="M1427.4,1554.4 L1433.5,1549.1" fill="none" stroke="#3a3a3a" stroke-width="1.0"/>
<path d="M1189.6,898.0 L1569.0,1093.0 L1569.0,1298.0 L1189.6,1087.3 Z" fill="#fefefe" stroke="#3a3a3a" stroke-width="1.5"/>
<path d="M1562.0,1097.0 L1562.0,1298.6" fill="none" stroke="#3a3a3a" stroke-width="1.4"/>
<path d="M1189.6,1087.3 L1565.9,1298.6" fill="none" stroke="#3a3a3a" stroke-width="1.5"/>
<path d="M1169.6,887.1 L1191.3,874.1 L1567.6,1089.0 L1545.6,1100.8 Z" fill="#fefefe" stroke="#3a3a3a" stroke-width="1.4"/>
<path d="M1169.6,890.5 L1545.6,1104.5" fill="none" stroke="#3a3a3a" stroke-width="1.2"/>
<ellipse cx="1197.5" cy="889.6" rx="5" ry="3" fill="none" stroke="#3a3a3a" stroke-width="1.2"/>
<ellipse cx="1540.5" cy="1086" rx="5" ry="3" fill="none" stroke="#3a3a3a" stroke-width="1.2"/>
<path d="M1179.3,833.4 L1640.2,1090.7 L1640.2,1124.5 L1179.3,867.0 Z" fill="#fefefe" stroke="#3a3a3a" stroke-width="1.5"/>
<path d="M1182.6,831.7 L1643.0,1088.5 L1643.0,1122.0" fill="none" stroke="#3a3a3a" stroke-width="1.2"/>
<path d="M1179.3,837.6 L1640.2,1094.7" fill="none" stroke="#3a3a3a" stroke-width="1.2"/>
<ellipse cx="1190.7" cy="856.2" rx="5.5" ry="8" fill="none" stroke="#3a3a3a" stroke-width="1.3" transform="rotate(-20 1190.7 856.2)"/>
<ellipse cx="1626.7" cy="1104" rx="5.5" ry="8" fill="none" stroke="#3a3a3a" stroke-width="1.3" transform="rotate(-20 1626.7 1104)"/>
<ellipse cx="1376.6" cy="1133" rx="23.7" ry="30.4" fill="none" stroke="#3a3a3a" stroke-width="1.4" transform="rotate(-15 1376.6 1133)"/>
<ellipse cx="1376.6" cy="1133" rx="20.5" ry="27" fill="none" stroke="#3a3a3a" stroke-width="1.2" transform="rotate(-15 1376.6 1133)"/>
<path d="M1173.5,1219.7 L1282.2,1156.9 L1487.5,1272.8 L1488.0,1304.1 L1379.2,1367.2 L1375.1,1366.2 L1375.1,1339.0 L1352.0,1326.2 L1352.0,1320.5 L1358.7,1316.4 L1432.6,1273.9 L1282.2,1189.2 L1200.6,1235.6 L1200.6,1240.4 L1177.9,1253.0 L1173.5,1251.0 Z" fill="#fefefe" stroke="#3a3a3a" stroke-width="1.5"/>
<path d="M1200.6,1240.4 L1282.2,1194.0 L1425.0,1275.0" fill="none" stroke="#3a3a3a" stroke-width="1.3"/>
<path d="M1175.0,1221.0 L1200.6,1235.6" fill="none" stroke="#3a3a3a" stroke-width="1.3"/>
<path d="M1177.9,1227.4 L1177.9,1253.0" fill="none" stroke="#3a3a3a" stroke-width="1.3"/>
<path d="M1352.0,1320.5 L1379.2,1336.4 L1487.5,1272.8" fill="none" stroke="#3a3a3a" stroke-width="1.4"/>
<path d="M1379.2,1336.4 L1379.2,1367.2" fill="none" stroke="#3a3a3a" stroke-width="1.4"/>
<ellipse cx="1288.5" cy="1241.6" rx="22" ry="29" fill="none" stroke="#3a3a3a" stroke-width="1.4" transform="rotate(-15 1288.5 1241.6)"/>
<ellipse cx="1288.5" cy="1241.6" rx="19" ry="26" fill="none" stroke="#3a3a3a" stroke-width="1.2" transform="rotate(-15 1288.5 1241.6)"/>
<ellipse cx="1633" cy="1436.7" rx="24" ry="30.8" fill="none" stroke="#3a3a3a" stroke-width="1.4" transform="rotate(-20 1633 1436.7)"/>
<ellipse cx="1633" cy="1436.7" rx="21" ry="27.5" fill="none" stroke="#3a3a3a" stroke-width="1.2" transform="rotate(-20 1633 1436.7)"/>
<path d="M1174.8,821.1 L1152.8,833.6 L1157.2,841.4 L1179.2,828.9 Z" fill="#fefefe" stroke="#3a3a3a" stroke-width="1.3"/>
<ellipse cx="1177.0" cy="825.0" rx="2.0" ry="4.5" fill="none" stroke="#3a3a3a" stroke-width="1.1" transform="rotate(150.39554925399509 1177.0 825.0)"/>
<ellipse cx="1173.0" cy="827.3" rx="2.0" ry="4.5" fill="none" stroke="#3a3a3a" stroke-width="1.1" transform="rotate(150.39554925399509 1173.0 827.3)"/>
<ellipse cx="1169.0" cy="829.5" rx="2.0" ry="4.5" fill="none" stroke="#3a3a3a" stroke-width="1.1" transform="rotate(150.39554925399509 1169.0 829.5)"/>
<ellipse cx="1165.0" cy="831.8" rx="2.0" ry="4.5" fill="none" stroke="#3a3a3a" stroke-width="1.1" transform="rotate(150.39554925399509 1165.0 831.8)"/>
<ellipse cx="1161.0" cy="834.1" rx="2.0" ry="4.5" fill="none" stroke="#3a3a3a" stroke-width="1.1" transform="rotate(150.39554925399509 1161.0 834.1)"/>
<ellipse cx="1157.0" cy="836.4" rx="2.0" ry="4.5" fill="none" stroke="#3a3a3a" stroke-width="1.1" transform="rotate(150.39554925399509 1157.0 836.4)"/>
<ellipse cx="1155" cy="837.5" rx="2.5" ry="4.5" fill="#fefefe" stroke="#3a3a3a" stroke-width="1.3" transform="rotate(150.39554925399509 1155 837.5)"/>
<path d="M1259.8,1291.1 L1241.8,1301.1 L1246.2,1308.9 L1264.2,1298.9 Z" fill="#fefefe" stroke="#3a3a3a" stroke-width="1.3"/>
<ellipse cx="1262.0" cy="1295.0" rx="2.0" ry="4.5" fill="none" stroke="#3a3a3a" stroke-width="1.1" transform="rotate(150.94539590092285 1262.0 1295.0)"/>
<ellipse cx="1258.7" cy="1296.8" rx="2.0" ry="4.5" fill="none" stroke="#3a3a3a" stroke-width="1.1" transform="rotate(150.94539590092285 1258.7 1296.8)"/>
<ellipse cx="1255.5" cy="1298.6" rx="2.0" ry="4.5" fill="none" stroke="#3a3a3a" stroke-width="1.1" transform="rotate(150.94539590092285 1255.5 1298.6)"/>
<ellipse cx="1252.2" cy="1300.5" rx="2.0" ry="4.5" fill="none" stroke="#3a3a3a" stroke-width="1.1" transform="rotate(150.94539590092285 1252.2 1300.5)"/>
<ellipse cx="1248.9" cy="1302.3" rx="2.0" ry="4.5" fill="none" stroke="#3a3a3a" stroke-width="1.1" transform="rotate(150.94539590092285 1248.9 1302.3)"/>
<ellipse cx="1245.6" cy="1304.1" rx="2.0" ry="4.5" fill="none" stroke="#3a3a3a" stroke-width="1.1" transform="rotate(150.94539590092285 1245.6 1304.1)"/>
<ellipse cx="1244" cy="1305" rx="2.5" ry="4.5" fill="#fefefe" stroke="#3a3a3a" stroke-width="1.3" transform="rotate(150.94539590092285 1244 1305)"/>
<path d="M1185.8,1404.1 L1165.8,1415.1 L1170.2,1422.9 L1190.2,1411.9 Z" fill="#fefefe" stroke="#3a3a3a" stroke-width="1.3"/>
<ellipse cx="1188.0" cy="1408.0" rx="2.0" ry="4.5" fill="none" stroke="#3a3a3a" stroke-width="1.1" transform="rotate(151.18920625702694 1188.0 1408.0)"/>
<ellipse cx="1184.4" cy="1410.0" rx="2.0" ry="4.5" fill="none" stroke="#3a3a3a" stroke-width="1.1" transform="rotate(151.18920625702694 1184.4 1410.0)"/>
<ellipse cx="1180.7" cy="1412.0" rx="2.0" ry="4.5" fill="none" stroke="#3a3a3a" stroke-width="1.1" transform="rotate(151.18920625702694 1180.7 1412.0)"/>
<ellipse cx="1177.1" cy="1414.0" rx="2.0" ry="4.5" fill="none" stroke="#3a3a3a" stroke-width="1.1" transform="rotate(151.18920625702694 1177.1 1414.0)"/>
<ellipse cx="1173.5" cy="1416.0" rx="2.0" ry="4.5" fill="none" stroke="#3a3a3a" stroke-width="1.1" transform="rotate(151.18920625702694 1173.5 1416.0)"/>
<ellipse cx="1169.8" cy="1418.0" rx="2.0" ry="4.5" fill="none" stroke="#3a3a3a" stroke-width="1.1" transform="rotate(151.18920625702694 1169.8 1418.0)"/>
<ellipse cx="1168" cy="1419" rx="2.5" ry="4.5" fill="#fefefe" stroke="#3a3a3a" stroke-width="1.3" transform="rotate(151.18920625702694 1168 1419)"/>
<path d="M1546.0,1491.0 L1649.8,1546.6 L1651.0,1667.3 L1546.0,1608.1 Z" fill="none" stroke="#3a3a3a" stroke-width="1.4"/>
<ellipse cx="1113.6" cy="1476.2" rx="15" ry="8.5" fill="none" stroke="#3a3a3a" stroke-width="1.3"/>
<ellipse cx="1153.3" cy="1453.2" rx="15" ry="8.5" fill="none" stroke="#3a3a3a" stroke-width="1.3"/>
<ellipse cx="1234.3" cy="1498.4" rx="7" ry="4.5" fill="none" stroke="#3a3a3a" stroke-width="1.3"/>
<ellipse cx="1264.9" cy="1516.5" rx="28" ry="16" fill="none" stroke="#3a3a3a" stroke-width="1.3"/>
<ellipse cx="1296.8" cy="1534.5" rx="7" ry="4.5" fill="none" stroke="#3a3a3a" stroke-width="1.3"/>
<ellipse cx="1324.5" cy="1549.8" rx="7" ry="4.5" fill="none" stroke="#3a3a3a" stroke-width="1.3"/>
<ellipse cx="1356.5" cy="1567.8" rx="28" ry="16" fill="none" stroke="#3a3a3a" stroke-width="1.3"/>
<ellipse cx="1387" cy="1585.9" rx="7" ry="4.5" fill="none" stroke="#3a3a3a" stroke-width="1.3"/>
<ellipse cx="1456.4" cy="1623.3" rx="25" ry="14.5" fill="none" stroke="#3a3a3a" stroke-width="1.3"/>
<ellipse cx="1415.7" cy="1646.7" rx="16" ry="9" fill="none" stroke="#3a3a3a" stroke-width="1.3"/>
<ellipse cx="1634.2" cy="1734.9" rx="22.5" ry="12.5" fill="none" stroke="#3a3a3a" stroke-width="1.3"/>
<ellipse cx="1634.2" cy="1714.3" rx="6" ry="3.5" fill="none" stroke="#3a3a3a" stroke-width="1.3"/>
<ellipse cx="1600.4" cy="1734.9" rx="6" ry="3.5" fill="none" stroke="#3a3a3a" stroke-width="1.3"/>
<ellipse cx="1670.4" cy="1734.9" rx="6" ry="3.5" fill="none" stroke="#3a3a3a" stroke-width="1.3"/>
<ellipse cx="1634.2" cy="1755.4" rx="6" ry="3.5" fill="none" stroke="#3a3a3a" stroke-width="1.3"/>
<ellipse cx="1194" cy="1474.9" rx="10" ry="7" fill="#fefefe" stroke="#3a3a3a" stroke-width="1.6"/>
<ellipse cx="1194" cy="1473.4" rx="10" ry="7" fill="#fefefe" stroke="#3a3a3a" stroke-width="2.0"/>
<ellipse cx="1194" cy="1473.4" rx="5.5" ry="3.5" fill="none" stroke="#3a3a3a" stroke-width="1.8"/>
<ellipse cx="1532.8" cy="1666.4" rx="10" ry="7" fill="#fefefe" stroke="#3a3a3a" stroke-width="1.6"/>
<ellipse cx="1532.8" cy="1664.9" rx="10" ry="7" fill="#fefefe" stroke="#3a3a3a" stroke-width="2.0"/>
<ellipse cx="1532.8" cy="1664.9" rx="5.5" ry="3.5" fill="none" stroke="#3a3a3a" stroke-width="1.8"/>
<path d="M1591.6,920.5 L1591.6,945 C1600,968 1645,970 1657,960" fill="none" stroke="#3a3a3a" stroke-width="1.4"/>
<ellipse cx="1324.4" cy="688" rx="7" ry="4.5" fill="none" stroke="#3a3a3a" stroke-width="1.3"/>
<ellipse cx="1324.4" cy="717.8" rx="39" ry="22.6" fill="none" stroke="#3a3a3a" stroke-width="1.4"/>
<ellipse cx="1269.8" cy="718.5" rx="7" ry="4.5" fill="none" stroke="#3a3a3a" stroke-width="1.3"/>
<ellipse cx="1379.6" cy="718.8" rx="7" ry="4.5" fill="none" stroke="#3a3a3a" stroke-width="1.3"/>
<ellipse cx="1325" cy="748.6" rx="7" ry="4.5" fill="none" stroke="#3a3a3a" stroke-width="1.3"/>
<ellipse cx="1631.3" cy="860.4" rx="7" ry="4.5" fill="none" stroke="#3a3a3a" stroke-width="1.3"/>
<ellipse cx="1630.4" cy="890" rx="39" ry="22" fill="none" stroke="#3a3a3a" stroke-width="1.4"/>
<ellipse cx="1576.3" cy="891.7" rx="7" ry="4.5" fill="none" stroke="#3a3a3a" stroke-width="1.3"/>
<ellipse cx="1685.3" cy="890.8" rx="7" ry="4.5" fill="none" stroke="#3a3a3a" stroke-width="1.3"/>
<ellipse cx="1631.3" cy="921.2" rx="7" ry="4.5" fill="none" stroke="#3a3a3a" stroke-width="1.3"/>
<ellipse cx="1177.5" cy="599.3" rx="7" ry="4.8" fill="#fefefe" stroke="#3a3a3a" stroke-width="1.6"/>
<ellipse cx="1177.5" cy="597.8" rx="7" ry="4.8" fill="#fefefe" stroke="#3a3a3a" stroke-width="2.0"/>
<ellipse cx="1177.5" cy="597.8" rx="3.8500000000000005" ry="2.4" fill="none" stroke="#3a3a3a" stroke-width="1.8"/>
<ellipse cx="1424.6" cy="739.8" rx="7" ry="4.8" fill="#fefefe" stroke="#3a3a3a" stroke-width="1.6"/>
<ellipse cx="1424.6" cy="738.3" rx="7" ry="4.8" fill="#fefefe" stroke="#3a3a3a" stroke-width="2.0"/>
<ellipse cx="1424.6" cy="738.3" rx="3.8500000000000005" ry="2.4" fill="none" stroke="#3a3a3a" stroke-width="1.8"/>
<ellipse cx="1521.5" cy="793.3" rx="7" ry="4.8" fill="#fefefe" stroke="#3a3a3a" stroke-width="1.6"/>
<ellipse cx="1521.5" cy="791.8" rx="7" ry="4.8" fill="#fefefe" stroke="#3a3a3a" stroke-width="2.0"/>
<ellipse cx="1521.5" cy="791.8" rx="3.8500000000000005" ry="2.4" fill="none" stroke="#3a3a3a" stroke-width="1.8"/>
<ellipse cx="1733.8" cy="913.7" rx="7" ry="4.8" fill="#fefefe" stroke="#3a3a3a" stroke-width="1.6"/>
<ellipse cx="1733.8" cy="912.2" rx="7" ry="4.8" fill="#fefefe" stroke="#3a3a3a" stroke-width="2.0"/>
<ellipse cx="1733.8" cy="912.2" rx="3.8500000000000005" ry="2.4" fill="none" stroke="#3a3a3a" stroke-width="1.8"/>
<path d="M1171.6,556.4 L1181.6,556.4 L1181.6,572.0 L1171.6,572.0 Z" fill="#fefefe" stroke="#3a3a3a" stroke-width="1.3"/>
<path d="M1171.3,560.0 Q1176.6,556.8 1181.9,560.0" fill="none" stroke="#3a3a3a" stroke-width="1.2"/>
<path d="M1171.3,563.4 Q1176.6,560.2 1181.9,563.4" fill="none" stroke="#3a3a3a" stroke-width="1.2"/>
<path d="M1171.3,566.8 Q1176.6,563.6 1181.9,566.8" fill="none" stroke="#3a3a3a" stroke-width="1.2"/>
<path d="M1171.3,570.2 Q1176.6,567.0 1181.9,570.2" fill="none" stroke="#3a3a3a" stroke-width="1.2"/>
<path d="M1168.6,552.0 C1168.6,543.2 1184.6,543.2 1184.6,552.0 L1184.6,554.8 C1180.6,558.4 1172.6,558.4 1168.6,554.8 Z" fill="#fefefe" stroke="#3a3a3a" stroke-width="1.4"/>
<path d="M1170.1,551.6 L1182.6,547.2" fill="none" stroke="#3a3a3a" stroke-width="1.5"/>
<path d="M1170.6,553.6 L1183.1,549.2" fill="none" stroke="#3a3a3a" stroke-width="1.1"/>
<path d="M1419.6,695.9 L1429.6,695.9 L1429.6,711.5 L1419.6,711.5 Z" fill="#fefefe" stroke="#3a3a3a" stroke-width="1.3"/>
<path d="M1419.3,699.5 Q1424.6,696.3 1429.9,699.5" fill="none" stroke="#3a3a3a" stroke-width="1.2"/>
<path d="M1419.3,702.9 Q1424.6,699.7 1429.9,702.9" fill="none" stroke="#3a3a3a" stroke-width="1.2"/>
<path d="M1419.3,706.3 Q1424.6,703.1 1429.9,706.3" fill="none" stroke="#3a3a3a" stroke-width="1.2"/>
<path d="M1419.3,709.7 Q1424.6,706.5 1429.9,709.7" fill="none" stroke="#3a3a3a" stroke-width="1.2"/>
<path d="M1416.6,691.5 C1416.6,682.7 1432.6,682.7 1432.6,691.5 L1432.6,694.3 C1428.6,697.9 1420.6,697.9 1416.6,694.3 Z" fill="#fefefe" stroke="#3a3a3a" stroke-width="1.4"/>
<path d="M1418.1,691.1 L1430.6,686.7" fill="none" stroke="#3a3a3a" stroke-width="1.5"/>
<path d="M1418.6,693.1 L1431.1,688.7" fill="none" stroke="#3a3a3a" stroke-width="1.1"/>
<path d="M1516.5,749.4 L1526.5,749.4 L1526.5,765.0 L1516.5,765.0 Z" fill="#fefefe" stroke="#3a3a3a" stroke-width="1.3"/>
<path d="M1516.2,753.0 Q1521.5,749.8 1526.8,753.0" fill="none" stroke="#3a3a3a" stroke-width="1.2"/>
<path d="M1516.2,756.4 Q1521.5,753.2 1526.8,756.4" fill="none" stroke="#3a3a3a" stroke-width="1.2"/>
<path d="M1516.2,759.8 Q1521.5,756.6 1526.8,759.8" fill="none" stroke="#3a3a3a" stroke-width="1.2"/>
<path d="M1516.2,763.2 Q1521.5,760.0 1526.8,763.2" fill="none" stroke="#3a3a3a" stroke-width="1.2"/>
<path d="M1513.5,745.0 C1513.5,736.2 1529.5,736.2 1529.5,745.0 L1529.5,747.8 C1525.5,751.4 1517.5,751.4 1513.5,747.8 Z" fill="#fefefe" stroke="#3a3a3a" stroke-width="1.4"/>
<path d="M1515.0,744.6 L1527.5,740.2" fill="none" stroke="#3a3a3a" stroke-width="1.5"/>
<path d="M1515.5,746.6 L1528.0,742.2" fill="none" stroke="#3a3a3a" stroke-width="1.1"/>
<path d="M1728.8,869.4 L1738.8,869.4 L1738.8,885.0 L1728.8,885.0 Z" fill="#fefefe" stroke="#3a3a3a" stroke-width="1.3"/>
<path d="M1728.5,873.0 Q1733.8,869.8 1739.1,873.0" fill="none" stroke="#3a3a3a" stroke-width="1.2"/>
<path d="M1728.5,876.4 Q1733.8,873.2 1739.1,876.4" fill="none" stroke="#3a3a3a" stroke-width="1.2"/>
<path d="M1728.5,879.8 Q1733.8,876.6 1739.1,879.8" fill="none" stroke="#3a3a3a" stroke-width="1.2"/>
<path d="M1728.5,883.2 Q1733.8,880.0 1739.1,883.2" fill="none" stroke="#3a3a3a" stroke-width="1.2"/>
<path d="M1725.8,865.0 C1725.8,856.2 1741.8,856.2 1741.8,865.0 L1741.8,867.8 C1737.8,871.4 1729.8,871.4 1725.8,867.8 Z" fill="#fefefe" stroke="#3a3a3a" stroke-width="1.4"/>
<path d="M1727.3,864.6 L1739.8,860.2" fill="none" stroke="#3a3a3a" stroke-width="1.5"/>
<path d="M1727.8,866.6 L1740.3,862.2" fill="none" stroke="#3a3a3a" stroke-width="1.1"/>
<path d="M1254.0,630.6 L1324.5,668.3 L1324.5,676.8 L1254.0,639.1 Z" fill="#fefefe" stroke="#3a3a3a" stroke-width="1.4"/>
<path d="M1324.5,668.3 L1395.0,630.6 L1395.0,639.1 L1324.5,676.8 Z" fill="#fefefe" stroke="#3a3a3a" stroke-width="1.4"/>
<path d="M1254.0,630.6 L1324.5,668.3 L1395.0,630.6 L1324.5,592.9 Z" fill="#fefefe" stroke="#3a3a3a" stroke-width="1.4"/>
<ellipse cx="1324" cy="636.4" rx="39" ry="16.7" fill="none" stroke="#3a3a3a" stroke-width="1.4"/>
<ellipse cx="1269.8" cy="630.6" rx="6.5" ry="4.3" fill="none" stroke="#3a3a3a" stroke-width="1.3"/>
<ellipse cx="1378.4" cy="630.6" rx="6.5" ry="4.3" fill="none" stroke="#3a3a3a" stroke-width="1.3"/>
<ellipse cx="1324" cy="660.3" rx="6.5" ry="4.3" fill="none" stroke="#3a3a3a" stroke-width="1.3"/>
<path d="M1254.0,587.5 L1324.5,625.5 L1324.5,639.2 L1254.0,601.2 Z" fill="#fefefe" stroke="#3a3a3a" stroke-width="1.4"/>
<path d="M1324.5,625.5 L1395.0,587.5 L1395.0,601.2 L1324.5,639.2 Z" fill="#fefefe" stroke="#3a3a3a" stroke-width="1.4"/>
<path d="M1254.0,587.5 L1324.5,625.5 L1395.0,587.5 L1324.5,549.5 Z" fill="#fefefe" stroke="#3a3a3a" stroke-width="1.4"/>
<ellipse cx="1269.8" cy="586.5" rx="6.5" ry="4.3" fill="none" stroke="#3a3a3a" stroke-width="1.3"/>
<ellipse cx="1378.4" cy="585.7" rx="6.5" ry="4.3" fill="none" stroke="#3a3a3a" stroke-width="1.3"/>
<ellipse cx="1324.1" cy="616.9" rx="6.5" ry="4.3" fill="none" stroke="#3a3a3a" stroke-width="1.3"/>
<ellipse cx="1324" cy="506" rx="7" ry="4" fill="#fefefe" stroke="#3a3a3a" stroke-width="1.3"/>
<path d="M1284,532 L1284,584 A40,23 0 0 0 1364,584 L1364,532 Z" fill="#fefefe" stroke="#3a3a3a" stroke-width="1.5"/>
<ellipse cx="1324" cy="532" rx="40" ry="23" fill="#fefefe" stroke="#3a3a3a" stroke-width="1.5"/>
<ellipse cx="1324" cy="532" rx="33" ry="18.5" fill="none" stroke="#3a3a3a" stroke-width="1.4"/>
<path d="M1264.3,546.7 L1273.7,546.7 L1273.7,561.6 L1264.3,561.6 Z" fill="#fefefe" stroke="#3a3a3a" stroke-width="1.3"/>
<path d="M1264.0,550.3 Q1269.0,547.1 1274.0,550.3" fill="none" stroke="#3a3a3a" stroke-width="1.2"/>
<path d="M1264.0,553.5 Q1269.0,550.3 1274.0,553.5" fill="none" stroke="#3a3a3a" stroke-width="1.2"/>
<path d="M1264.0,556.8 Q1269.0,553.6 1274.0,556.8" fill="none" stroke="#3a3a3a" stroke-width="1.2"/>
<path d="M1264.0,560.0 Q1269.0,556.8 1274.0,560.0" fill="none" stroke="#3a3a3a" stroke-width="1.2"/>
<path d="M1261.5,542.6 C1261.5,534.4 1276.5,534.4 1276.5,542.6 L1276.5,545.2 C1272.8,548.6 1265.2,548.6 1261.5,545.2 Z" fill="#fefefe" stroke="#3a3a3a" stroke-width="1.4"/>
<ellipse cx="1269" cy="540.35" rx="3.375" ry="2.25" fill="none" stroke="#3a3a3a" stroke-width="1.2"/>
<path d="M1263.0,543.4 Q1269.0,546.0 1275.0,543.4" fill="none" stroke="#3a3a3a" stroke-width="1.0"/>
<path d="M1373.8,546.1 L1383.1,546.1 L1383.1,561.0 L1373.8,561.0 Z" fill="#fefefe" stroke="#3a3a3a" stroke-width="1.3"/>
<path d="M1373.5,549.7 Q1378.4,546.5 1383.4,549.7" fill="none" stroke="#3a3a3a" stroke-width="1.2"/>
<path d="M1373.5,552.9 Q1378.4,549.7 1383.4,552.9" fill="none" stroke="#3a3a3a" stroke-width="1.2"/>
<path d="M1373.5,556.2 Q1378.4,553.0 1383.4,556.2" fill="none" stroke="#3a3a3a" stroke-width="1.2"/>
<path d="M1373.5,559.4 Q1378.4,556.2 1383.4,559.4" fill="none" stroke="#3a3a3a" stroke-width="1.2"/>
<path d="M1370.9,542.0 C1370.9,533.8 1385.9,533.8 1385.9,542.0 L1385.9,544.6 C1382.2,548.0 1374.7,548.0 1370.9,544.6 Z" fill="#fefefe" stroke="#3a3a3a" stroke-width="1.4"/>
<ellipse cx="1378.4" cy="539.75" rx="3.375" ry="2.25" fill="none" stroke="#3a3a3a" stroke-width="1.2"/>
<path d="M1372.4,542.8 Q1378.4,545.4 1384.4,542.8" fill="none" stroke="#3a3a3a" stroke-width="1.0"/>
<path d="M1318.8,575.7 L1328.1,575.7 L1328.1,590.6 L1318.8,590.6 Z" fill="#fefefe" stroke="#3a3a3a" stroke-width="1.3"/>
<path d="M1318.5,579.3 Q1323.4,576.1 1328.4,579.3" fill="none" stroke="#3a3a3a" stroke-width="1.2"/>
<path d="M1318.5,582.5 Q1323.4,579.3 1328.4,582.5" fill="none" stroke="#3a3a3a" stroke-width="1.2"/>
<path d="M1318.5,585.8 Q1323.4,582.6 1328.4,585.8" fill="none" stroke="#3a3a3a" stroke-width="1.2"/>
<path d="M1318.5,589.0 Q1323.4,585.8 1328.4,589.0" fill="none" stroke="#3a3a3a" stroke-width="1.2"/>
<path d="M1315.9,571.6 C1315.9,563.4 1330.9,563.4 1330.9,571.6 L1330.9,574.2 C1327.2,577.6 1319.7,577.6 1315.9,574.2 Z" fill="#fefefe" stroke="#3a3a3a" stroke-width="1.4"/>
<ellipse cx="1323.4" cy="569.35" rx="3.375" ry="2.25" fill="none" stroke="#3a3a3a" stroke-width="1.2"/>
<path d="M1317.4,572.4 Q1323.4,575.0 1329.4,572.4" fill="none" stroke="#3a3a3a" stroke-width="1.0"/>
<path d="M1559.4,804.0 L1630.8,843.5 L1630.8,850.5 L1559.4,811.0 Z" fill="#fefefe" stroke="#3a3a3a" stroke-width="1.4"/>
<path d="M1630.8,843.5 L1702.2,804.0 L1702.2,811.0 L1630.8,850.5 Z" fill="#fefefe" stroke="#3a3a3a" stroke-width="1.4"/>
<path d="M1559.4,804.0 L1630.8,843.5 L1702.2,804.0 L1630.8,764.5 Z" fill="#fefefe" stroke="#3a3a3a" stroke-width="1.4"/>
<ellipse cx="1630.4" cy="808" rx="39" ry="15" fill="none" stroke="#3a3a3a" stroke-width="1.4"/>
<ellipse cx="1575.5" cy="801" rx="6.5" ry="4.3" fill="none" stroke="#3a3a3a" stroke-width="1.3"/>
<ellipse cx="1684.5" cy="800.5" rx="6.5" ry="4.3" fill="none" stroke="#3a3a3a" stroke-width="1.3"/>
<ellipse cx="1631.3" cy="830.5" rx="6.5" ry="4.3" fill="none" stroke="#3a3a3a" stroke-width="1.3"/>
<path d="M1559.4,760.7 L1630.8,799.7 L1630.8,812.4 L1559.4,773.4 Z" fill="#fefefe" stroke="#3a3a3a" stroke-width="1.4"/>
<path d="M1630.8,799.7 L1702.2,760.7 L1702.2,773.4 L1630.8,812.4 Z" fill="#fefefe" stroke="#3a3a3a" stroke-width="1.4"/>
<path d="M1559.4,760.7 L1630.8,799.7 L1702.2,760.7 L1630.8,721.7 Z" fill="#fefefe" stroke="#3a3a3a" stroke-width="1.4"/>
<ellipse cx="1575.5" cy="759.9" rx="6.5" ry="4.3" fill="none" stroke="#3a3a3a" stroke-width="1.3"/>
<ellipse cx="1685.3" cy="759.9" rx="6.5" ry="4.3" fill="none" stroke="#3a3a3a" stroke-width="1.3"/>
<ellipse cx="1631.3" cy="789.4" rx="6.5" ry="4.3" fill="none" stroke="#3a3a3a" stroke-width="1.3"/>
<ellipse cx="1629.9" cy="681.8" rx="7" ry="4" fill="#fefefe" stroke="#3a3a3a" stroke-width="1.3"/>
<path d="M1590.6000000000001,705.8 L1590.6000000000001,759.9 A39.3,21 0 0 0 1669.2,759.9 L1669.2,705.8 Z" fill="#fefefe" stroke="#3a3a3a" stroke-width="1.5"/>
<ellipse cx="1629.9" cy="705.8" rx="39.3" ry="21" fill="#fefefe" stroke="#3a3a3a" stroke-width="1.5"/>
<ellipse cx="1629.9" cy="705.8" rx="33.3" ry="18.6" fill="none" stroke="#3a3a3a" stroke-width="1.4"/>
<path d="M1570.8,710.9 L1580.2,710.9 L1580.2,725.8 L1570.8,725.8 Z" fill="#fefefe" stroke="#3a3a3a" stroke-width="1.3"/>
<path d="M1570.5,714.5 Q1575.5,711.3 1580.5,714.5" fill="none" stroke="#3a3a3a" stroke-width="1.2"/>
<path d="M1570.5,717.7 Q1575.5,714.5 1580.5,717.7" fill="none" stroke="#3a3a3a" stroke-width="1.2"/>
<path d="M1570.5,721.0 Q1575.5,717.8 1580.5,721.0" fill="none" stroke="#3a3a3a" stroke-width="1.2"/>
<path d="M1570.5,724.2 Q1575.5,721.0 1580.5,724.2" fill="none" stroke="#3a3a3a" stroke-width="1.2"/>
<path d="M1568.0,706.8 C1568.0,698.5 1583.0,698.5 1583.0,706.8 L1583.0,709.4 C1579.2,712.8 1571.8,712.8 1568.0,709.4 Z" fill="#fefefe" stroke="#3a3a3a" stroke-width="1.4"/>
<ellipse cx="1575.5" cy="704.55" rx="3.375" ry="2.25" fill="none" stroke="#3a3a3a" stroke-width="1.2"/>
<path d="M1569.5,707.5 Q1575.5,710.2 1581.5,707.5" fill="none" stroke="#3a3a3a" stroke-width="1.0"/>
<path d="M1679.8,711.8 L1689.2,711.8 L1689.2,726.7 L1679.8,726.7 Z" fill="#fefefe" stroke="#3a3a3a" stroke-width="1.3"/>
<path d="M1679.5,715.4 Q1684.5,712.2 1689.5,715.4" fill="none" stroke="#3a3a3a" stroke-width="1.2"/>
<path d="M1679.5,718.6 Q1684.5,715.4 1689.5,718.6" fill="none" stroke="#3a3a3a" stroke-width="1.2"/>
<path d="M1679.5,721.9 Q1684.5,718.7 1689.5,721.9" fill="none" stroke="#3a3a3a" stroke-width="1.2"/>
<path d="M1679.5,725.1 Q1684.5,721.9 1689.5,725.1" fill="none" stroke="#3a3a3a" stroke-width="1.2"/>
<path d="M1677.0,707.7 C1677.0,699.5 1692.0,699.5 1692.0,707.7 L1692.0,710.3 C1688.2,713.7 1680.8,713.7 1677.0,710.3 Z" fill="#fefefe" stroke="#3a3a3a" stroke-width="1.4"/>
<ellipse cx="1684.5" cy="705.45" rx="3.375" ry="2.25" fill="none" stroke="#3a3a3a" stroke-width="1.2"/>
<path d="M1678.5,708.5 Q1684.5,711.1 1690.5,708.5" fill="none" stroke="#3a3a3a" stroke-width="1.0"/>
<path d="M1625.8,742.2 L1635.1,742.2 L1635.1,757.1 L1625.8,757.1 Z" fill="#fefefe" stroke="#3a3a3a" stroke-width="1.3"/>
<path d="M1625.5,745.8 Q1630.4,742.6 1635.4,745.8" fill="none" stroke="#3a3a3a" stroke-width="1.2"/>
<path d="M1625.5,749.0 Q1630.4,745.8 1635.4,749.0" fill="none" stroke="#3a3a3a" stroke-width="1.2"/>
<path d="M1625.5,752.3 Q1630.4,749.1 1635.4,752.3" fill="none" stroke="#3a3a3a" stroke-width="1.2"/>
<path d="M1625.5,755.5 Q1630.4,752.3 1635.4,755.5" fill="none" stroke="#3a3a3a" stroke-width="1.2"/>
<path d="M1622.9,738.1 C1622.9,729.9 1637.9,729.9 1637.9,738.1 L1637.9,740.7 C1634.2,744.1 1626.7,744.1 1622.9,740.7 Z" fill="#fefefe" stroke="#3a3a3a" stroke-width="1.4"/>
<ellipse cx="1630.4" cy="735.85" rx="3.375" ry="2.25" fill="none" stroke="#3a3a3a" stroke-width="1.2"/>
<path d="M1624.4,738.9 Q1630.4,741.5 1636.4,738.9" fill="none" stroke="#3a3a3a" stroke-width="1.0"/>
<ellipse cx="1602.5" cy="759" rx="4" ry="6.5" fill="none" stroke="#3a3a3a" stroke-width="1.3" transform="rotate(-35 1602.5 759)"/>
<ellipse cx="1602.5" cy="759" rx="2.2" ry="4.5" fill="none" stroke="#3a3a3a" stroke-width="1.0" transform="rotate(-35 1602.5 759)"/>
<path d="M1572.3,770.2 L1552.3,781.2 L1557.7,790.8 L1577.7,779.8 Z" fill="#fefefe" stroke="#3a3a3a" stroke-width="1.3"/>
<ellipse cx="1575.0" cy="775.0" rx="2.0" ry="5.5" fill="none" stroke="#3a3a3a" stroke-width="1.1" transform="rotate(151.18920625702694 1575.0 775.0)"/>
<ellipse cx="1571.4" cy="777.0" rx="2.0" ry="5.5" fill="none" stroke="#3a3a3a" stroke-width="1.1" transform="rotate(151.18920625702694 1571.4 777.0)"/>
<ellipse cx="1567.7" cy="779.0" rx="2.0" ry="5.5" fill="none" stroke="#3a3a3a" stroke-width="1.1" transform="rotate(151.18920625702694 1567.7 779.0)"/>
<ellipse cx="1564.1" cy="781.0" rx="2.0" ry="5.5" fill="none" stroke="#3a3a3a" stroke-width="1.1" transform="rotate(151.18920625702694 1564.1 781.0)"/>
<ellipse cx="1560.5" cy="783.0" rx="2.0" ry="5.5" fill="none" stroke="#3a3a3a" stroke-width="1.1" transform="rotate(151.18920625702694 1560.5 783.0)"/>
<ellipse cx="1556.8" cy="785.0" rx="2.0" ry="5.5" fill="none" stroke="#3a3a3a" stroke-width="1.1" transform="rotate(151.18920625702694 1556.8 785.0)"/>
<ellipse cx="1555" cy="786" rx="2.5" ry="5.5" fill="#fefefe" stroke="#3a3a3a" stroke-width="1.3" transform="rotate(151.18920625702694 1555 786)"/>
<ellipse cx="976.6" cy="850.1" rx="16.5" ry="21.0" fill="#fefefe" stroke="#3a3a3a" stroke-width="1.4" transform="rotate(25 976.6 850.1)"/>
<ellipse cx="975.1" cy="849.1" rx="15.0" ry="19.5" fill="none" stroke="#3a3a3a" stroke-width="1.0" transform="rotate(25 975.1 849.1)"/>
<ellipse cx="979.6" cy="852.1" rx="10.5" ry="13.0" fill="none" stroke="#3a3a3a" stroke-width="1.3" transform="rotate(25 979.6 852.1)"/>
<ellipse cx="981.1" cy="853.1" rx="8.0" ry="11.0" fill="none" stroke="#3a3a3a" stroke-width="1.2" transform="rotate(25 981.1 853.1)"/>
<ellipse cx="1015.3" cy="879.4" rx="16.5" ry="21.0" fill="#fefefe" stroke="#3a3a3a" stroke-width="1.4" transform="rotate(25 1015.3 879.4)"/>
<ellipse cx="1013.8" cy="878.4" rx="15.0" ry="19.5" fill="none" stroke="#3a3a3a" stroke-width="1.0" transform="rotate(25 1013.8 878.4)"/>
<ellipse cx="1018.3" cy="881.4" rx="10.5" ry="13.0" fill="none" stroke="#3a3a3a" stroke-width="1.3" transform="rotate(25 1018.3 881.4)"/>
<ellipse cx="1019.8" cy="882.4" rx="8.0" ry="11.0" fill="none" stroke="#3a3a3a" stroke-width="1.2" transform="rotate(25 1019.8 882.4)"/>
<ellipse cx="977" cy="960.8" rx="16.5" ry="21.0" fill="#fefefe" stroke="#3a3a3a" stroke-width="1.4" transform="rotate(25 977 960.8)"/>
<ellipse cx="975.5" cy="959.8" rx="15.0" ry="19.5" fill="none" stroke="#3a3a3a" stroke-width="1.0" transform="rotate(25 975.5 959.8)"/>
<ellipse cx="980.0" cy="962.8" rx="10.5" ry="13.0" fill="none" stroke="#3a3a3a" stroke-width="1.3" transform="rotate(25 980.0 962.8)"/>
<ellipse cx="981.5" cy="963.8" rx="8.0" ry="11.0" fill="none" stroke="#3a3a3a" stroke-width="1.2" transform="rotate(25 981.5 963.8)"/>
<path d="M1004,994 L1006,985 C1010,976 1020,973 1027,978 C1032,983 1033,990 1033,996 L1027,993 C1022,987 1016,986 1011,990 Z" fill="#fefefe" stroke="#3a3a3a" stroke-width="1.3"/>
<path d="M1010.5,622.3 L1125.1,684.7 L1125.1,691.2 L1010.5,628.8 Z" fill="#fefefe" stroke="#3a3a3a" stroke-width="1.3"/>
<path d="M980.1,639.1 L1010.5,622.3 L1125.1,684.7 L1093.6,702.7 Z" fill="#fefefe" stroke="#3a3a3a" stroke-width="1.4"/>
<path d="M980.1,639.1 L1093.6,702.7 L1093.6,709.2 L980.1,645.6 Z" fill="#fefefe" stroke="#3a3a3a" stroke-width="1.3"/>
<ellipse cx="1005.6" cy="640.2" rx="4.2" ry="2.8" fill="none" stroke="#3a3a3a" stroke-width="1.2"/>
<ellipse cx="1029" cy="653.2" rx="4.2" ry="2.8" fill="none" stroke="#3a3a3a" stroke-width="1.2"/>
<ellipse cx="1075.7" cy="679.8" rx="4.2" ry="2.8" fill="none" stroke="#3a3a3a" stroke-width="1.2"/>
<ellipse cx="1098" cy="692.9" rx="4.2" ry="2.8" fill="none" stroke="#3a3a3a" stroke-width="1.2"/>
<path d="M1011.0,626.0 L1122.0,686.5" fill="none" stroke="#3a3a3a" stroke-width="1.2"/>
<path d="M983.0,642.5 L1093.6,705.5" fill="none" stroke="#3a3a3a" stroke-width="1.1"/>
<path d="M424.0,315.6 L671.6,174.5" fill="none" stroke="#3a3a3a" stroke-width="2.6"/>
<path d="M423.0,316.5 L423.0,342.0" fill="none" stroke="#3a3a3a" stroke-width="1.6"/>
<path d="M425.0,316.0 L425.0,341.0" fill="none" stroke="#3a3a3a" stroke-width="1.0"/>
<path d="M671.6,174.5 L672.5,196.0" fill="none" stroke="#3a3a3a" stroke-width="1.5"/>
<path d="M423.0,342.0 L675.0,197.5" fill="none" stroke="#3a3a3a" stroke-width="1.5"/>
<path d="M428.0,344.0 L676.0,200.5" fill="none" stroke="#3a3a3a" stroke-width="1.5"/>
<path d="M675.0,197.5 L676.0,200.5" fill="none" stroke="#3a3a3a" stroke-width="1.3"/>
<path d="M428.0,344.0 L428.5,378.5" fill="none" stroke="#3a3a3a" stroke-width="2.0"/>
<path d="M676.0,200.5 L676.0,236.0" fill="none" stroke="#3a3a3a" stroke-width="1.5"/>
<path d="M428.5,378.5 L471.5,355.0" fill="none" stroke="#3a3a3a" stroke-width="1.5"/>
<path d="M478.8,350.5 L642.0,257.0" fill="none" stroke="#3a3a3a" stroke-width="1.5"/>
<path d="M661.0,246.0 L676.0,236.0" fill="none" stroke="#3a3a3a" stroke-width="1.5"/>
<path d="M423.0,381.0 L428.5,378.5" fill="none" stroke="#3a3a3a" stroke-width="1.3"/>
<path d="M423.0,381.0 L423.0,403.0" fill="none" stroke="#3a3a3a" stroke-width="1.8"/>
<path d="M423.0,403.0 L673.4,258.7" fill="none" stroke="#3a3a3a" stroke-width="1.5"/>
<path d="M673.4,239.7 L673.4,258.7" fill="none" stroke="#3a3a3a" stroke-width="1.5"/>
<path d="M459.9,345.7 L471.9,355.7 L478.1,348.3 L466.1,338.3 Z" fill="#fefefe" stroke="#3a3a3a" stroke-width="1.3"/>
<ellipse cx="463.0" cy="342.0" rx="2.0" ry="4.8" fill="none" stroke="#3a3a3a" stroke-width="1.1" transform="rotate(39.80557109226519 463.0 342.0)"/>
<ellipse cx="465.2" cy="343.8" rx="2.0" ry="4.8" fill="none" stroke="#3a3a3a" stroke-width="1.1" transform="rotate(39.80557109226519 465.2 343.8)"/>
<ellipse cx="467.4" cy="345.6" rx="2.0" ry="4.8" fill="none" stroke="#3a3a3a" stroke-width="1.1" transform="rotate(39.80557109226519 467.4 345.6)"/>
<ellipse cx="469.5" cy="347.5" rx="2.0" ry="4.8" fill="none" stroke="#3a3a3a" stroke-width="1.1" transform="rotate(39.80557109226519 469.5 347.5)"/>
<ellipse cx="471.7" cy="349.3" rx="2.0" ry="4.8" fill="none" stroke="#3a3a3a" stroke-width="1.1" transform="rotate(39.80557109226519 471.7 349.3)"/>
<ellipse cx="473.9" cy="351.1" rx="2.0" ry="4.8" fill="none" stroke="#3a3a3a" stroke-width="1.1" transform="rotate(39.80557109226519 473.9 351.1)"/>
<ellipse cx="475" cy="352" rx="2.5" ry="4.8" fill="#fefefe" stroke="#3a3a3a" stroke-width="1.3" transform="rotate(39.80557109226519 475 352)"/>
<path d="M641.2,236.9 L655.2,246.9 L660.8,239.1 L646.8,229.1 Z" fill="#fefefe" stroke="#3a3a3a" stroke-width="1.3"/>
<ellipse cx="644.0" cy="233.0" rx="2.0" ry="4.8" fill="none" stroke="#3a3a3a" stroke-width="1.1" transform="rotate(35.53767779197438 644.0 233.0)"/>
<ellipse cx="646.5" cy="234.8" rx="2.0" ry="4.8" fill="none" stroke="#3a3a3a" stroke-width="1.1" transform="rotate(35.53767779197438 646.5 234.8)"/>
<ellipse cx="649.1" cy="236.6" rx="2.0" ry="4.8" fill="none" stroke="#3a3a3a" stroke-width="1.1" transform="rotate(35.53767779197438 649.1 236.6)"/>
<ellipse cx="651.6" cy="238.5" rx="2.0" ry="4.8" fill="none" stroke="#3a3a3a" stroke-width="1.1" transform="rotate(35.53767779197438 651.6 238.5)"/>
<ellipse cx="654.2" cy="240.3" rx="2.0" ry="4.8" fill="none" stroke="#3a3a3a" stroke-width="1.1" transform="rotate(35.53767779197438 654.2 240.3)"/>
<ellipse cx="656.7" cy="242.1" rx="2.0" ry="4.8" fill="none" stroke="#3a3a3a" stroke-width="1.1" transform="rotate(35.53767779197438 656.7 242.1)"/>
<ellipse cx="658" cy="243" rx="2.5" ry="4.8" fill="#fefefe" stroke="#3a3a3a" stroke-width="1.3" transform="rotate(35.53767779197438 658 243)"/>
<ellipse cx="436.2" cy="356.4" rx="3" ry="3.8" fill="none" stroke="#3a3a3a" stroke-width="1.2" transform="rotate(20 436.2 356.4)"/>
<ellipse cx="553" cy="288.5" rx="3" ry="3.8" fill="none" stroke="#3a3a3a" stroke-width="1.2" transform="rotate(20 553 288.5)"/>
<ellipse cx="669.2" cy="221.6" rx="3" ry="3.8" fill="none" stroke="#3a3a3a" stroke-width="1.2" transform="rotate(20 669.2 221.6)"/>
<path d="M636.2,307.0 L672.5,287.6 L673.0,323.1 L636.5,344.2 Z" fill="none" stroke="#3a3a3a" stroke-width="1.4"/>
<ellipse cx="757.9" cy="300.3" rx="5" ry="7.5" fill="none" stroke="#3a3a3a" stroke-width="2.4" transform="rotate(25 757.9 300.3)"/>
<ellipse cx="758.1999999999999" cy="300.6" rx="2.5" ry="4.125" fill="none" stroke="#3a3a3a" stroke-width="1.4" transform="rotate(25 758.1999999999999 300.6)"/>
<ellipse cx="775.6" cy="310.4" rx="5" ry="7.5" fill="none" stroke="#3a3a3a" stroke-width="2.4" transform="rotate(25 775.6 310.4)"/>
<ellipse cx="775.9" cy="310.7" rx="2.5" ry="4.125" fill="none" stroke="#3a3a3a" stroke-width="1.4" transform="rotate(25 775.9 310.7)"/>
<ellipse cx="798.4" cy="323.1" rx="7" ry="8.5" fill="none" stroke="#3a3a3a" stroke-width="1.5" transform="rotate(25 798.4 323.1)"/>
<ellipse cx="799" cy="323.5" rx="4" ry="5" fill="none" stroke="#3a3a3a" stroke-width="1.3" transform="rotate(25 799 323.5)"/>
<ellipse cx="797" cy="322" rx="7" ry="8.5" fill="none" stroke="#3a3a3a" stroke-width="1.0" transform="rotate(25 797 322)"/>
<ellipse cx="574.5" cy="406.8" rx="5" ry="7.5" fill="none" stroke="#3a3a3a" stroke-width="2.4" transform="rotate(25 574.5 406.8)"/>
<ellipse cx="574.8" cy="407.1" rx="2.5" ry="4.125" fill="none" stroke="#3a3a3a" stroke-width="1.4" transform="rotate(25 574.8 407.1)"/>
<ellipse cx="592.3" cy="416.9" rx="5" ry="7.5" fill="none" stroke="#3a3a3a" stroke-width="2.4" transform="rotate(25 592.3 416.9)"/>
<ellipse cx="592.5999999999999" cy="417.2" rx="2.5" ry="4.125" fill="none" stroke="#3a3a3a" stroke-width="1.4" transform="rotate(25 592.5999999999999 417.2)"/>
<ellipse cx="615" cy="429.6" rx="5" ry="7.5" fill="none" stroke="#3a3a3a" stroke-width="2.4" transform="rotate(25 615 429.6)"/>
<ellipse cx="615.3" cy="429.90000000000003" rx="2.5" ry="4.125" fill="none" stroke="#3a3a3a" stroke-width="1.4" transform="rotate(25 615.3 429.90000000000003)"/>
<ellipse cx="674.5" cy="15.5" rx="6.5" ry="6" fill="#fefefe" stroke="#3a3a3a" stroke-width="1.4"/>
<path d="M681.7,10.5 L728.8,36.9 L719.4,50.7 L673.8,25.3 Z" fill="#fefefe" stroke="#3a3a3a" stroke-width="1.4"/>
<path d="M681.7,10.5 C676,13 673,20 673.8,25.3" fill="none" stroke="#3a3a3a" stroke-width="1.3"/>
<path d="M727.5,38.5 L755.0,54.5 L749.0,64.5 L721.5,48.5 Z" fill="#fefefe" stroke="#3a3a3a" stroke-width="1.3"/>
<ellipse cx="726.0" cy="44.5" rx="1.8" ry="6.2" fill="none" stroke="#3a3a3a" stroke-width="1.1" transform="rotate(31 726.0 44.5)"/>
<ellipse cx="729.3" cy="46.5" rx="1.8" ry="6.2" fill="none" stroke="#3a3a3a" stroke-width="1.1" transform="rotate(31 729.3 46.5)"/>
<ellipse cx="732.6" cy="48.4" rx="1.8" ry="6.2" fill="none" stroke="#3a3a3a" stroke-width="1.1" transform="rotate(31 732.6 48.4)"/>
<ellipse cx="735.9" cy="50.4" rx="1.8" ry="6.2" fill="none" stroke="#3a3a3a" stroke-width="1.1" transform="rotate(31 735.9 50.4)"/>
<ellipse cx="739.2" cy="52.3" rx="1.8" ry="6.2" fill="none" stroke="#3a3a3a" stroke-width="1.1" transform="rotate(31 739.2 52.3)"/>
<ellipse cx="742.5" cy="54.2" rx="1.8" ry="6.2" fill="none" stroke="#3a3a3a" stroke-width="1.1" transform="rotate(31 742.5 54.2)"/>
<ellipse cx="745.8" cy="56.2" rx="1.8" ry="6.2" fill="none" stroke="#3a3a3a" stroke-width="1.1" transform="rotate(31 745.8 56.2)"/>
<ellipse cx="749.1" cy="58.1" rx="1.8" ry="6.2" fill="none" stroke="#3a3a3a" stroke-width="1.1" transform="rotate(31 749.1 58.1)"/>
<ellipse cx="723.5" cy="43.5" rx="2.5" ry="6.8" fill="#fefefe" stroke="#3a3a3a" stroke-width="1.3" transform="rotate(31 723.5 43.5)"/>
<ellipse cx="761.4" cy="65.2" rx="9.5" ry="11" fill="#fefefe" stroke="#3a3a3a" stroke-width="1.4" transform="rotate(-20 761.4 65.2)"/>
<path d="M754.0,70.0 L768.0,60.0" fill="none" stroke="#3a3a3a" stroke-width="1.3"/>
<path d="M755.0,72.0 L769.0,62.0" fill="none" stroke="#3a3a3a" stroke-width="1.1"/>
<path d="M306.3,219.6 L314.2,211.8 L326.0,214.0 L333.0,225.1 L337.7,239.2 L333.8,258.8 L325.1,265.1 L316.0,266.0 Z" fill="#fefefe" stroke="#3a3a3a" stroke-width="1.3"/>
<path d="M316.5,221.2 L327.0,236.0 L327.0,262.0" fill="none" stroke="#3a3a3a" stroke-width="1.2"/>
<path d="M327.0,236.0 L337.7,239.2" fill="none" stroke="#3a3a3a" stroke-width="1.2"/>
<path d="M262.0,240.0 L306.3,219.6 L316.0,266.0 L295.3,274.5 Z" fill="#fefefe" stroke="#3a3a3a" stroke-width="1.3"/>
<path d="M302,222 C309,232 313,250 310,268" fill="none" stroke="#3a3a3a" stroke-width="1.2"/>
<path d="M297,224 C304,234 308,252 305,270" fill="none" stroke="#3a3a3a" stroke-width="1.2"/>
<path d="M278.0,229.0 L288.0,229.0 L289.0,238.0 L277.0,238.0 Z" fill="#fefefe" stroke="#3a3a3a" stroke-width="1.2"/>
<ellipse cx="283" cy="237.5" rx="7" ry="3" fill="#fefefe" stroke="#3a3a3a" stroke-width="1.2"/>
<ellipse cx="282.8" cy="226.5" rx="5.2" ry="6.2" fill="#fefefe" stroke="#3a3a3a" stroke-width="1.3"/>
<path d="M278,231 Q283,234 288,231" fill="none" stroke="#3a3a3a" stroke-width="1.0"/>
<path d="M264.0,238.4 L268.6,240.8 L286.7,262.8 L294.5,264.3 L294.5,281.6 L285.9,286.3 L278.0,290.0 Z" fill="#fefefe" stroke="#3a3a3a" stroke-width="1.3"/>
<path d="M286.7,262.8 L286.7,286.0" fill="none" stroke="#3a3a3a" stroke-width="1.2"/>
<path d="M231.0,254.1 L248.2,244.7 L259.2,245.5 L277.3,270.6 L277.3,290.2 L268.6,296.5 L253.0,302.0 Z" fill="#fefefe" stroke="#3a3a3a" stroke-width="1.3"/>
<path d="M248.2,244.7 L267.1,270.6 L267.1,295.0" fill="none" stroke="#3a3a3a" stroke-width="1.2"/>
<path d="M267.1,270.6 L277.3,270.6" fill="none" stroke="#3a3a3a" stroke-width="1.2"/>
<ellipse cx="249.5" cy="278.5" rx="19.5" ry="23.8" fill="#fefefe" stroke="#3a3a3a" stroke-width="1.5" transform="rotate(-9 249.5 278.5)"/>
<ellipse cx="246" cy="279.5" rx="12" ry="14.5" fill="none" stroke="#3a3a3a" stroke-width="1.4" transform="rotate(-9 246 279.5)"/>
<ellipse cx="246.5" cy="280" rx="9" ry="11.5" fill="none" stroke="#3a3a3a" stroke-width="1.2" transform="rotate(-9 246.5 280)"/>
<ellipse cx="317" cy="460.7" rx="29" ry="38.5" fill="#fefefe" stroke="#3a3a3a" stroke-width="1.5" transform="rotate(-17 317 460.7)"/>
<ellipse cx="315.5" cy="461.5" rx="25" ry="34.5" fill="none" stroke="#3a3a3a" stroke-width="1.2" transform="rotate(-17 315.5 461.5)"/>
<path d="M258.0,454.8 L287.6,437.9 L321.4,497.0 L292.7,512.2 Z" fill="#fefefe" stroke="#3a3a3a" stroke-width="0"/>
<path d="M258.0,454.8 L287.6,437.9" fill="none" stroke="#3a3a3a" stroke-width="1.5"/>
<path d="M292.7,512.2 L321.4,497.0" fill="none" stroke="#3a3a3a" stroke-width="1.5"/>
<path d="M316,431 C328,440 340,462 336,485 C334,495 326,500 318,497" fill="none" stroke="#3a3a3a" stroke-width="1.4"/>
<ellipse cx="259" cy="492.8" rx="33" ry="39.7" fill="#fefefe" stroke="#3a3a3a" stroke-width="1.5" transform="rotate(-17 259 492.8)"/>
<ellipse cx="257" cy="494" rx="29" ry="36" fill="none" stroke="#3a3a3a" stroke-width="1.2" transform="rotate(-17 257 494)"/>
<defs><clipPath id="mclip"><ellipse cx="252.7" cy="497" rx="27" ry="31.5" transform="rotate(-17 252.7 497)"/></clipPath></defs>
<path d="M239.3,433.5 L315.7,481.2 M236.6,437.9 L312.9,485.6 M233.8,442.3 L310.2,490.0 M231.1,446.7 L307.4,494.4 M228.3,451.1 L304.6,498.8 M225.6,455.5 L301.9,503.2 M222.8,459.9 L299.1,507.6 M220.0,464.3 L296.4,512.0 M217.3,468.7 L293.6,516.4 M214.5,473.2 L290.9,520.8 M211.8,477.6 L288.1,525.3 M209.0,482.0 L285.4,529.7 M206.3,486.4 L282.6,534.1 M203.5,490.8 L279.8,538.5 M200.8,495.2 L277.1,542.9 M198.0,499.6 L274.3,547.3 M195.2,504.0 L271.6,551.7 M192.5,508.4 L268.8,556.1 M189.7,512.8 L266.1,560.5 M189.7,481.2 L266.1,433.5 M192.5,485.6 L268.8,437.9 M195.2,490.0 L271.6,442.3 M198.0,494.4 L274.3,446.7 M200.8,498.8 L277.1,451.1 M203.5,503.2 L279.8,455.5 M206.3,507.6 L282.6,459.9 M209.0,512.0 L285.4,464.3 M211.8,516.4 L288.1,468.7 M214.5,520.8 L290.9,473.2 M217.3,525.3 L293.6,477.6 M220.0,529.7 L296.4,482.0 M222.8,534.1 L299.1,486.4 M225.6,538.5 L301.9,490.8 M228.3,542.9 L304.6,495.2 M231.1,547.3 L307.4,499.6 M233.8,551.7 L310.2,504.0 M236.6,556.1 L312.9,508.4 M239.3,560.5 L315.7,512.8 " stroke="#3a3a3a" stroke-width="1.3" fill="none" clip-path="url(#mclip)"/>
<ellipse cx="252.7" cy="497" rx="27" ry="31.5" fill="none" stroke="#3a3a3a" stroke-width="1.6" transform="rotate(-17 252.7 497)"/>
<ellipse cx="1113.6" cy="1588.6" rx="17" ry="10.5" fill="#fefefe" stroke="#3a3a3a" stroke-width="1.4"/>
<ellipse cx="1113.6" cy="1585.5" rx="17" ry="10.5" fill="#fefefe" stroke="#3a3a3a" stroke-width="1.3"/>
<ellipse cx="1113.6" cy="1584.5" rx="11" ry="6.5" fill="none" stroke="#3a3a3a" stroke-width="1.3"/>
<ellipse cx="1113.6" cy="1583.5" rx="9" ry="5.2" fill="none" stroke="#3a3a3a" stroke-width="1.1"/>
<path d="M1136.0,1574.0 L1174.6,1574.0 L1174.6,1597.0 L1165.0,1600.0 L1146.0,1599.0 L1136.0,1595.0 Z" fill="#fefefe" stroke="#3a3a3a" stroke-width="1.4"/>
<path d="M1136.0,1585.0 L1174.6,1585.0" fill="none" stroke="#3a3a3a" stroke-width="1.2"/>
<path d="M1146.0,1574.0 L1146.0,1599.0" fill="none" stroke="#3a3a3a" stroke-width="1.1"/>
<path d="M1165.0,1574.0 L1165.0,1600.0" fill="none" stroke="#3a3a3a" stroke-width="1.1"/>
<path d="M1141.0,1552.0 L1170.0,1552.0 L1170.0,1574.0 L1141.0,1574.0 Z" fill="#fefefe" stroke="#3a3a3a" stroke-width="1.3"/>
<path d="M1141,1556 Q1155.5,1552 1170,1556" fill="none" stroke="#3a3a3a" stroke-width="1.1"/>
<path d="M1141,1560 Q1155.5,1556 1170,1560" fill="none" stroke="#3a3a3a" stroke-width="1.1"/>
<path d="M1141,1564 Q1155.5,1560 1170,1564" fill="none" stroke="#3a3a3a" stroke-width="1.1"/>
<path d="M1141,1568 Q1155.5,1564 1170,1568" fill="none" stroke="#3a3a3a" stroke-width="1.1"/>
<path d="M1141,1572 Q1155.5,1568 1170,1572" fill="none" stroke="#3a3a3a" stroke-width="1.1"/>
<ellipse cx="1155.5" cy="1552" rx="14.5" ry="6.5" fill="#fefefe" stroke="#3a3a3a" stroke-width="1.4"/>
<ellipse cx="1155.5" cy="1552" rx="10" ry="4.5" fill="none" stroke="#3a3a3a" stroke-width="1.1"/>
<ellipse cx="1194.7" cy="1565.6" rx="5.5" ry="2.5" fill="#fefefe" stroke="#3a3a3a" stroke-width="1.2"/>
<path d="M1189.2,1565.6 L1200.2,1565.6 L1200.2,1578.6 L1189.2,1578.6 Z" fill="#fefefe" stroke="#3a3a3a" stroke-width="1.3"/>
<path d="M1189.2,1569.0 Q1194.7,1566.2 1200.2,1569.0" fill="none" stroke="#3a3a3a" stroke-width="1.1"/>
<path d="M1189.2,1571.8 Q1194.7,1568.9 1200.2,1571.8" fill="none" stroke="#3a3a3a" stroke-width="1.1"/>
<path d="M1189.2,1574.5 Q1194.7,1571.7 1200.2,1574.5" fill="none" stroke="#3a3a3a" stroke-width="1.1"/>
<path d="M1189.2,1577.2 Q1194.7,1574.4 1200.2,1577.2" fill="none" stroke="#3a3a3a" stroke-width="1.1"/>
<path d="M1187.0,1578.6 L1202.4,1578.6 L1202.4,1585.6 L1198.5,1588.6 L1190.9,1588.6 L1187.0,1585.6 Z" fill="#fefefe" stroke="#3a3a3a" stroke-width="1.3"/>
<path d="M1194.7,1578.6 L1194.7,1588.6" fill="none" stroke="#3a3a3a" stroke-width="1.0"/>
<ellipse cx="1533.8" cy="1758.5" rx="5.5" ry="2.5" fill="#fefefe" stroke="#3a3a3a" stroke-width="1.2"/>
<path d="M1528.3,1758.5 L1539.3,1758.5 L1539.3,1771.5 L1528.3,1771.5 Z" fill="#fefefe" stroke="#3a3a3a" stroke-width="1.3"/>
<path d="M1528.3,1761.9 Q1533.8,1759.1 1539.3,1761.9" fill="none" stroke="#3a3a3a" stroke-width="1.1"/>
<path d="M1528.3,1764.7 Q1533.8,1761.8 1539.3,1764.7" fill="none" stroke="#3a3a3a" stroke-width="1.1"/>
<path d="M1528.3,1767.4 Q1533.8,1764.6 1539.3,1767.4" fill="none" stroke="#3a3a3a" stroke-width="1.1"/>
<path d="M1528.3,1770.2 Q1533.8,1767.3 1539.3,1770.2" fill="none" stroke="#3a3a3a" stroke-width="1.1"/>
<path d="M1526.1,1771.5 L1541.5,1771.5 L1541.5,1778.5 L1537.6,1781.5 L1530.0,1781.5 L1526.1,1778.5 Z" fill="#fefefe" stroke="#3a3a3a" stroke-width="1.3"/>
<path d="M1533.8,1771.5 L1533.8,1781.5" fill="none" stroke="#3a3a3a" stroke-width="1.0"/>
<path d="M1045.4,82.0 C1047.2,96.4 1050.4,135.9 1056.3,168.4 C1062.2,200.9 1069.9,238.5 1080.7,276.9 C1091.5,315.3 1105.5,360.5 1121.3,398.9 C1137.1,437.3 1157.5,475.7 1175.6,507.3 C1193.7,538.9 1215.6,567.6 1229.8,588.6 C1244.0,609.6 1255.8,625.6 1261.0,633.0" fill="none" stroke="#3a3a3a" stroke-width="1.3"/>
<path d="M1111.8,174.0 C1114.3,191.2 1119.3,243.9 1126.8,276.9 C1134.3,309.9 1144.9,340.2 1156.6,371.8 C1168.3,403.4 1185.0,440.3 1197.2,466.7 C1209.4,493.1 1220.3,509.7 1229.8,530.0 C1239.3,550.3 1250.1,578.8 1254.2,588.6" fill="none" stroke="#3a3a3a" stroke-width="1.3"/>
<path d="M1185.0,263.0 C1188.0,278.9 1195.2,328.8 1202.7,358.2 C1210.2,387.6 1219.6,410.5 1229.8,439.5 C1240.0,468.5 1258.3,516.6 1264.0,532.0" fill="none" stroke="#3a3a3a" stroke-width="1.3"/>
<path d="M1474.8,366.0 C1474.0,378.3 1470.4,414.1 1469.9,439.6 C1469.4,465.1 1469.5,494.3 1471.8,519.2 C1474.1,544.1 1479.1,565.7 1483.8,588.9 C1488.5,612.1 1493.1,635.3 1499.7,658.5 C1506.3,681.7 1514.8,707.3 1523.6,728.2 C1532.4,749.1 1547.6,774.6 1552.4,783.9" fill="none" stroke="#3a3a3a" stroke-width="1.3"/>
<path d="M1548.5,454.5 C1549.7,465.3 1551.9,498.5 1555.4,519.2 C1558.9,539.9 1563.8,559.0 1569.4,578.9 C1575.1,598.8 1583.3,618.0 1589.3,638.6 C1595.3,659.2 1602.5,691.7 1605.2,702.3" fill="none" stroke="#3a3a3a" stroke-width="1.3"/>
<path d="M399.3,669.5 C407.1,686.4 430.8,731.8 445.9,770.8 C461.0,809.8 475.4,855.7 490.2,903.7 C505.0,951.7 523.4,1007.1 534.5,1058.8 C545.6,1110.5 552.2,1162.2 556.6,1213.9 C561.0,1265.6 562.5,1321.0 561.0,1369.0 C559.5,1417.0 555.2,1465.0 547.8,1501.9 C540.4,1538.8 522.0,1575.7 516.8,1590.5" fill="none" stroke="#3a3a3a" stroke-width="1.3"/>
<path d="M312.9,766.0 C320.3,779.4 343.9,815.8 357.2,846.1 C370.5,876.4 382.3,916.2 392.7,948.0 C403.1,979.8 411.9,1007.0 419.3,1036.6 C426.7,1066.1 432.9,1097.6 437.0,1125.3 C441.1,1153.0 442.5,1189.9 443.6,1202.8" fill="none" stroke="#3a3a3a" stroke-width="1.3"/>
<path d="M217.7,860.0 C224.0,871.0 243.1,896.5 255.3,925.9 C267.5,955.3 281.2,999.7 290.8,1036.6 C300.4,1073.5 307.4,1106.8 312.9,1147.4 C318.4,1188.0 323.2,1239.7 324.0,1280.3 C324.8,1320.9 322.2,1354.2 317.4,1391.1 C312.6,1428.0 306.3,1465.7 295.2,1501.9 C284.1,1538.1 258.3,1590.5 250.9,1608.2" fill="none" stroke="#3a3a3a" stroke-width="1.3"/>
<path d="M759.3,932.0 C759.9,946.8 762.1,992.7 763.0,1020.7 C763.9,1048.7 764.8,1070.1 764.5,1100.0 C764.2,1129.9 763.2,1168.3 761.2,1200.0 C759.2,1231.7 756.0,1260.0 752.8,1290.0 C749.6,1320.0 744.0,1365.2 742.2,1380.3" fill="none" stroke="#3a3a3a" stroke-width="1.3"/>
<path d="M1019.0,1055.0 C1019.8,1064.2 1023.5,1090.8 1024.0,1110.0 C1024.5,1129.2 1024.0,1150.0 1022.0,1170.0 C1020.0,1190.0 1016.5,1212.5 1012.0,1230.0 C1007.5,1247.5 1001.2,1260.2 995.0,1275.0 C988.8,1289.8 978.0,1311.7 974.6,1319.0" fill="none" stroke="#3a3a3a" stroke-width="1.3"/>
<path d="M913.3,1148.0 C912.9,1155.0 913.7,1172.4 911.2,1190.0 C908.8,1207.6 906.3,1230.2 898.6,1253.5 C890.9,1276.8 877.5,1308.5 864.8,1329.6 C852.1,1350.7 836.6,1366.2 822.5,1380.3 C808.4,1394.4 792.3,1406.0 780.3,1414.0 C768.3,1422.0 755.6,1425.7 750.7,1428.0" fill="none" stroke="#3a3a3a" stroke-width="1.3"/>
<path d="M1234.5,1823.0 C1229.2,1813.5 1214.9,1788.8 1202.5,1766.0 C1190.1,1743.2 1172.3,1708.2 1159.9,1686.0 C1147.5,1663.8 1135.5,1648.5 1127.9,1633.0 C1120.4,1617.5 1116.8,1599.7 1114.6,1593.0" fill="none" stroke="#3a3a3a" stroke-width="1.3"/>
<path d="M1165.2,1593.0 C1173.2,1596.1 1196.3,1600.5 1213.2,1611.6 C1230.1,1622.7 1248.8,1640.0 1266.5,1659.5 C1284.2,1679.0 1303.7,1703.9 1319.7,1728.8 C1335.7,1753.7 1351.7,1784.8 1362.4,1808.8 C1373.1,1832.8 1378.8,1855.8 1383.7,1872.7 C1388.6,1889.6 1390.4,1903.8 1391.7,1910.0" fill="none" stroke="#3a3a3a" stroke-width="1.3"/>
<path d="M1321.5,1110.3 C1330.1,1154.8 1355.5,1289.9 1373.0,1377.0 C1390.5,1464.1 1410.6,1554.7 1426.3,1632.9 C1442.0,1711.1 1453.5,1779.5 1467.0,1846.0 C1480.5,1912.5 1500.3,2000.8 1507.0,2031.7" fill="none" stroke="#3a3a3a" stroke-width="1.3"/>
<path d="M1442.3,1553.0 C1448.5,1575.2 1468.8,1641.5 1479.6,1686.2 C1490.4,1730.9 1497.9,1783.1 1507.0,1821.4 C1516.1,1859.8 1525.6,1884.7 1534.2,1916.3 C1542.8,1947.9 1552.3,1981.8 1558.6,2011.2 C1564.9,2040.6 1568.6,2068.8 1572.2,2092.6 C1575.8,2116.4 1579.0,2143.8 1580.3,2154.0" fill="none" stroke="#3a3a3a" stroke-width="1.3"/>
<path d="M1537.0,1778.0 C1541.1,1787.5 1552.8,1814.2 1561.4,1835.0 C1570.0,1855.8 1579.5,1877.9 1588.5,1902.7 C1597.5,1927.5 1607.5,1956.9 1615.6,1984.0 C1623.7,2011.1 1631.0,2038.3 1637.3,2065.4 C1643.6,2092.5 1649.1,2116.5 1653.6,2146.8 C1658.1,2177.1 1662.6,2230.3 1664.4,2247.0" fill="none" stroke="#3a3a3a" stroke-width="1.3"/>
<path d="M1621.0,1620.0 C1626.0,1640.0 1642.8,1706.4 1650.9,1740.0 C1659.0,1773.6 1662.1,1789.8 1669.8,1821.4 C1677.5,1853.0 1688.0,1884.6 1697.0,1929.8 C1706.0,1975.0 1717.2,2044.2 1724.0,2092.6 C1730.8,2141.0 1734.3,2179.4 1738.0,2220.0 C1741.7,2260.6 1744.7,2316.7 1746.0,2336.0" fill="none" stroke="#3a3a3a" stroke-width="1.3"/>
<path d="M589.8,2304.0 C592.4,2310.8 597.6,2331.7 605.5,2344.8 C613.4,2357.9 625.4,2370.9 636.9,2382.4 C648.4,2393.9 659.4,2404.2 674.6,2413.8 C689.8,2423.4 704.8,2433.3 727.9,2439.8 C751.0,2446.3 798.8,2450.6 813.0,2452.8" fill="none" stroke="#3a3a3a" stroke-width="1.3"/>
<path d="M696.5,2338.5 C703.2,2335.4 719.8,2326.8 737.0,2320.0 C754.2,2313.2 773.5,2303.7 800.0,2298.0 C826.5,2292.3 865.7,2286.9 895.7,2285.9 C925.7,2284.9 954.1,2288.2 980.0,2292.0 C1005.9,2295.8 1039.2,2306.2 1051.0,2309.0" fill="none" stroke="#3a3a3a" stroke-width="1.3"/>
<path d="M416.0,181.0 L518.6,274.0" fill="none" stroke="#3a3a3a" stroke-width="1.3"/>
<path d="M798.4,230.0 L660.7,312.1" fill="none" stroke="#3a3a3a" stroke-width="1.3"/>
<path d="M852.0,293.0 L806.0,320.6" fill="none" stroke="#3a3a3a" stroke-width="1.3"/>
<path d="M735.0,401.0 L774.0,315.5" fill="none" stroke="#3a3a3a" stroke-width="1.3"/>
<path d="M539.4,522.5 L571.0,413.5" fill="none" stroke="#3a3a3a" stroke-width="1.3"/>
<path d="M808.0,554.0 L984.0,643.0" fill="none" stroke="#3a3a3a" stroke-width="1.3"/>
<path d="M817.0,673.0 L1072.5,745.5" fill="none" stroke="#3a3a3a" stroke-width="1.3"/>
<path d="M892.6,774.5 L984.0,835.9" fill="none" stroke="#3a3a3a" stroke-width="1.3"/>
<path d="M146.6,954.5 L195.5,1176.2" fill="none" stroke="#3a3a3a" stroke-width="1.3"/>
<path d="M89.6,2240.0 L176.6,2029.6" fill="none" stroke="#3a3a3a" stroke-width="1.3"/>
<path d="M266.0,2319.0 L413.5,2021.7" fill="none" stroke="#3a3a3a" stroke-width="1.3"/>
<path d="M346.5,2399.0 L511.4,2076.1" fill="none" stroke="#3a3a3a" stroke-width="1.3"/>
<path d="M1131.5,2185.0 L808.0,2241.0" fill="none" stroke="#3a3a3a" stroke-width="1.3"/>
<circle cx="518.6" cy="274" r="2.4" fill="#3a3a3a"/>
<circle cx="660.7" cy="312.1" r="2.4" fill="#3a3a3a"/>
<circle cx="1072.5" cy="745.5" r="2.4" fill="#3a3a3a"/>
<circle cx="984" cy="835.9" r="2.4" fill="#3a3a3a"/>
<circle cx="195.5" cy="1176.2" r="2.4" fill="#3a3a3a"/>
<circle cx="443.6" cy="1202.8" r="2.4" fill="#3a3a3a"/>
<circle cx="516.8" cy="1590.5" r="2.4" fill="#3a3a3a"/>
<circle cx="250.9" cy="1608.2" r="2.4" fill="#3a3a3a"/>
<circle cx="742.2" cy="1380.3" r="2.4" fill="#3a3a3a"/>
<circle cx="974.6" cy="1319" r="2.4" fill="#3a3a3a"/>
<circle cx="750.7" cy="1428" r="2.4" fill="#3a3a3a"/>
<circle cx="176.6" cy="2029.6" r="2.4" fill="#3a3a3a"/>
<circle cx="413.5" cy="2021.7" r="2.4" fill="#3a3a3a"/>
<circle cx="511.4" cy="2076.1" r="2.4" fill="#3a3a3a"/>
<circle cx="808" cy="2241" r="2.4" fill="#3a3a3a"/>
<circle cx="696.5" cy="2338.5" r="2.4" fill="#3a3a3a"/>
<circle cx="589.8" cy="2304" r="2.4" fill="#3a3a3a"/>
<circle cx="1321.5" cy="1110.3" r="2.4" fill="#3a3a3a"/>
<circle cx="1621" cy="1620" r="2.4" fill="#3a3a3a"/>
<circle cx="1605.2" cy="702.3" r="2.4" fill="#3a3a3a"/>
<circle cx="1254.2" cy="588.6" r="2.4" fill="#3a3a3a"/>
<circle cx="1261" cy="633" r="2.4" fill="#3a3a3a"/>
<circle cx="1165.2" cy="1593" r="2.4" fill="#3a3a3a"/>
<circle cx="1114.6" cy="1593" r="2.4" fill="#3a3a3a"/>
<ellipse cx="381" cy="1059" rx="6.5" ry="4" fill="none" stroke="#3a3a3a" stroke-width="1.3"/>
<path d="M0.8,575.0 L0.8,662.0" fill="none" stroke="#aaaaaa" stroke-width="1.6" stroke-dasharray="3 2"/>
</svg></body></html>
